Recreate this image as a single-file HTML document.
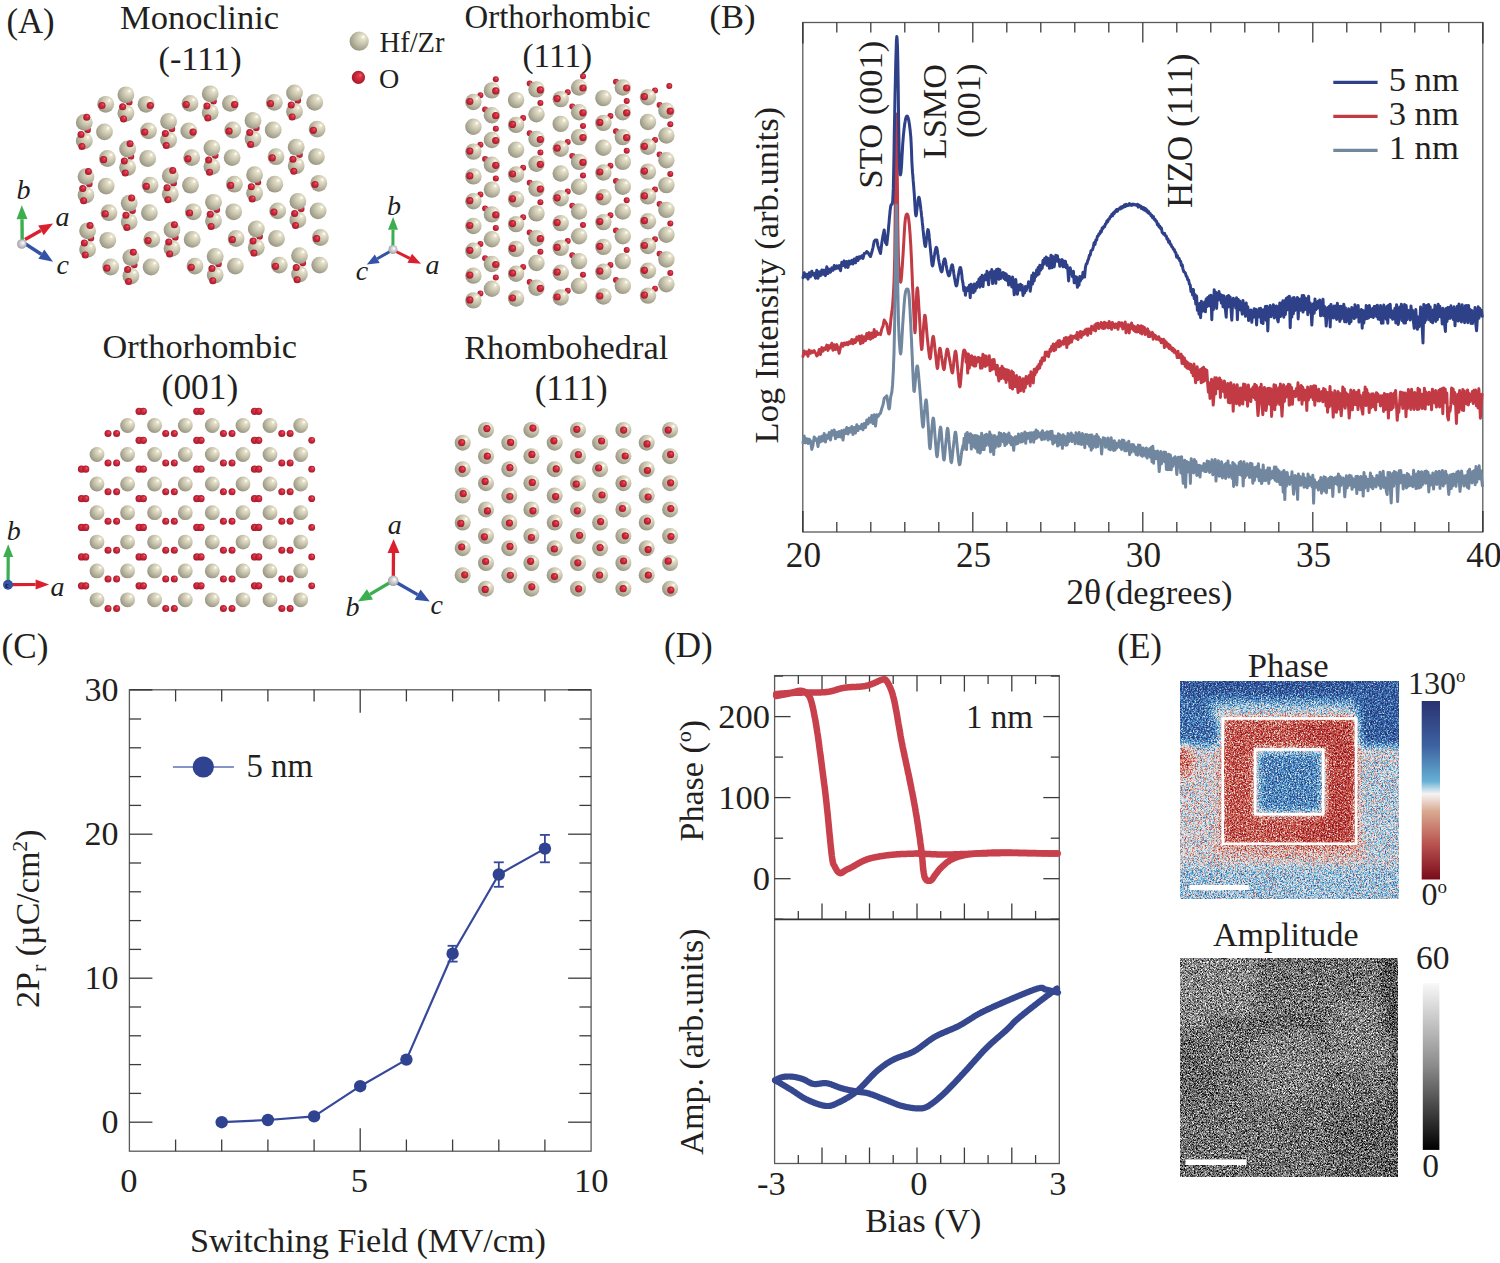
<!DOCTYPE html>
<html><head><meta charset="utf-8"><title>Figure</title>
<style>
html,body{margin:0;padding:0;background:#ffffff;}
body{width:1500px;height:1263px;overflow:hidden;}
svg{display:block;font-family:"Liberation Serif", serif;}
</style></head>
<body>
<svg width="1500" height="1263" viewBox="0 0 1500 1263">
<rect x="0" y="0" width="1500" height="1263" fill="#ffffff"/>
<defs>
<radialGradient id="hf" cx="0.62" cy="0.38" r="0.68" fx="0.72" fy="0.27">
 <stop offset="0" stop-color="#ffffff"/>
 <stop offset="0.06" stop-color="#fcfaf0"/>
 <stop offset="0.15" stop-color="#e6e2cc"/>
 <stop offset="0.5" stop-color="#c8c4ae"/>
 <stop offset="0.8" stop-color="#a9a692"/>
 <stop offset="1" stop-color="#93907e"/>
</radialGradient>
<radialGradient id="ox" cx="0.5" cy="0.5" r="0.5" fx="0.68" fy="0.3">
 <stop offset="0" stop-color="#f07080"/>
 <stop offset="0.25" stop-color="#e03848"/>
 <stop offset="0.7" stop-color="#c02236"/>
 <stop offset="1" stop-color="#a01a2c"/>
</radialGradient>
<radialGradient id="gy" cx="0.5" cy="0.5" r="0.55" fx="0.65" fy="0.35">
 <stop offset="0" stop-color="#ffffff"/>
 <stop offset="1" stop-color="#9a9aa0"/>
</radialGradient>
<linearGradient id="cbp" x1="0" y1="0" x2="0" y2="1">
 <stop offset="0" stop-color="#2b3270"/>
 <stop offset="0.25" stop-color="#3d62a0"/>
 <stop offset="0.45" stop-color="#66b0d4"/>
 <stop offset="0.52" stop-color="#f4f4f4"/>
 <stop offset="0.62" stop-color="#d9a890"/>
 <stop offset="0.8" stop-color="#b95450"/>
 <stop offset="1" stop-color="#7a0a1a"/>
</linearGradient>
<linearGradient id="cba" x1="0" y1="0" x2="0" y2="1">
 <stop offset="0" stop-color="#f8f8f8"/>
 <stop offset="0.5" stop-color="#8a8a8a"/>
 <stop offset="1" stop-color="#000000"/>
</linearGradient>
</defs>
<text x="6.4" y="32.8" font-size="34.77" text-anchor="start" fill="#231f20" >(A)</text>
<text x="120.0" y="29.0" font-size="34.51" text-anchor="start" fill="#231f20" >Monoclinic</text>
<text x="158.5" y="69.5" font-size="34.26" text-anchor="start" fill="#231f20" >(-111)</text>
<text x="464.5" y="27.9" font-size="32.83" text-anchor="start" fill="#231f20" >Orthorhombic</text>
<text x="522.5" y="66.7" font-size="33.32" text-anchor="start" fill="#231f20" >(111)</text>
<text x="102.5" y="358.4" font-size="34.35" text-anchor="start" fill="#231f20" >Orthorhombic</text>
<text x="161.6" y="399.0" font-size="35.43" text-anchor="start" fill="#231f20" >(001)</text>
<text x="464.2" y="359.3" font-size="34.33" text-anchor="start" fill="#231f20" >Rhombohedral</text>
<text x="534.7" y="399.8" font-size="34.91" text-anchor="start" fill="#231f20" >(111)</text>
<circle cx="359.2" cy="41.2" r="9.6" fill="url(#hf)"/>
<circle cx="358.4" cy="77.4" r="6.6" fill="url(#ox)"/>
<text x="379.5" y="52.0" font-size="28.57" text-anchor="start" fill="#231f20" >Hf/Zr</text>
<text x="378.9" y="88.4" font-size="28.12" text-anchor="start" fill="#231f20" >O</text>
<circle cx="129.2" cy="102.3" r="3.3" fill="url(#ox)"/>
<circle cx="213.5" cy="101.3" r="3.3" fill="url(#ox)"/>
<circle cx="297.8" cy="100.4" r="3.3" fill="url(#ox)"/>
<circle cx="87.6" cy="129.9" r="3.3" fill="url(#ox)"/>
<circle cx="171.9" cy="128.9" r="3.3" fill="url(#ox)"/>
<circle cx="256.3" cy="128.0" r="3.3" fill="url(#ox)"/>
<circle cx="130.9" cy="156.5" r="3.3" fill="url(#ox)"/>
<circle cx="215.2" cy="155.6" r="3.3" fill="url(#ox)"/>
<circle cx="299.5" cy="154.7" r="3.3" fill="url(#ox)"/>
<circle cx="89.3" cy="184.1" r="3.3" fill="url(#ox)"/>
<circle cx="173.6" cy="183.2" r="3.3" fill="url(#ox)"/>
<circle cx="257.9" cy="182.2" r="3.3" fill="url(#ox)"/>
<circle cx="132.5" cy="210.7" r="3.3" fill="url(#ox)"/>
<circle cx="216.8" cy="209.8" r="3.3" fill="url(#ox)"/>
<circle cx="301.2" cy="208.9" r="3.3" fill="url(#ox)"/>
<circle cx="90.9" cy="238.3" r="3.3" fill="url(#ox)"/>
<circle cx="175.3" cy="237.4" r="3.3" fill="url(#ox)"/>
<circle cx="259.6" cy="236.5" r="3.3" fill="url(#ox)"/>
<circle cx="134.2" cy="265.0" r="3.3" fill="url(#ox)"/>
<circle cx="218.5" cy="264.0" r="3.3" fill="url(#ox)"/>
<circle cx="302.8" cy="263.1" r="3.3" fill="url(#ox)"/>
<circle cx="294.5" cy="92.9" r="8.4" fill="url(#hf)"/>
<circle cx="210.2" cy="93.8" r="8.4" fill="url(#hf)"/>
<circle cx="125.9" cy="94.8" r="8.4" fill="url(#hf)"/>
<circle cx="274.3" cy="102.4" r="8.4" fill="url(#hf)"/>
<circle cx="270.5" cy="103.6" r="3.6" fill="url(#ox)"/>
<circle cx="314.7" cy="102.4" r="8.4" fill="url(#hf)"/>
<circle cx="190.0" cy="103.4" r="8.4" fill="url(#hf)"/>
<circle cx="186.2" cy="104.6" r="3.6" fill="url(#ox)"/>
<circle cx="230.4" cy="103.4" r="8.4" fill="url(#hf)"/>
<circle cx="234.6" cy="104.6" r="3.6" fill="url(#ox)"/>
<circle cx="105.7" cy="104.3" r="8.4" fill="url(#hf)"/>
<circle cx="101.9" cy="105.5" r="3.6" fill="url(#ox)"/>
<circle cx="146.1" cy="104.3" r="8.4" fill="url(#hf)"/>
<circle cx="150.3" cy="105.5" r="3.6" fill="url(#ox)"/>
<circle cx="294.5" cy="111.4" r="8.4" fill="url(#hf)"/>
<circle cx="291.2" cy="104.9" r="3.5" fill="url(#ox)"/>
<circle cx="292.1" cy="117.0" r="3.5" fill="url(#ox)"/>
<circle cx="210.2" cy="112.4" r="8.4" fill="url(#hf)"/>
<circle cx="206.9" cy="105.9" r="3.5" fill="url(#ox)"/>
<circle cx="207.8" cy="118.0" r="3.5" fill="url(#ox)"/>
<circle cx="125.9" cy="113.3" r="8.4" fill="url(#hf)"/>
<circle cx="122.6" cy="106.8" r="3.5" fill="url(#ox)"/>
<circle cx="123.5" cy="118.9" r="3.5" fill="url(#ox)"/>
<circle cx="253.0" cy="120.5" r="8.4" fill="url(#hf)"/>
<circle cx="168.6" cy="121.4" r="8.4" fill="url(#hf)"/>
<circle cx="84.3" cy="122.4" r="8.4" fill="url(#hf)"/>
<circle cx="86.7" cy="117.2" r="3.5" fill="url(#ox)"/>
<circle cx="317.1" cy="129.1" r="8.4" fill="url(#hf)"/>
<circle cx="313.3" cy="130.3" r="3.6" fill="url(#ox)"/>
<circle cx="232.8" cy="130.0" r="8.4" fill="url(#hf)"/>
<circle cx="229.0" cy="131.2" r="3.6" fill="url(#ox)"/>
<circle cx="273.2" cy="130.0" r="8.4" fill="url(#hf)"/>
<circle cx="148.5" cy="130.9" r="8.4" fill="url(#hf)"/>
<circle cx="144.7" cy="132.1" r="3.6" fill="url(#ox)"/>
<circle cx="188.8" cy="130.9" r="8.4" fill="url(#hf)"/>
<circle cx="193.0" cy="132.1" r="3.6" fill="url(#ox)"/>
<circle cx="104.5" cy="131.9" r="8.4" fill="url(#hf)"/>
<circle cx="253.0" cy="139.0" r="8.4" fill="url(#hf)"/>
<circle cx="249.7" cy="132.5" r="3.5" fill="url(#ox)"/>
<circle cx="250.6" cy="144.6" r="3.5" fill="url(#ox)"/>
<circle cx="168.6" cy="140.0" r="8.4" fill="url(#hf)"/>
<circle cx="165.3" cy="133.5" r="3.5" fill="url(#ox)"/>
<circle cx="166.2" cy="145.6" r="3.5" fill="url(#ox)"/>
<circle cx="84.3" cy="140.9" r="8.4" fill="url(#hf)"/>
<circle cx="81.0" cy="134.4" r="3.5" fill="url(#ox)"/>
<circle cx="81.9" cy="146.5" r="3.5" fill="url(#ox)"/>
<circle cx="296.2" cy="147.2" r="8.4" fill="url(#hf)"/>
<circle cx="211.9" cy="148.1" r="8.4" fill="url(#hf)"/>
<circle cx="127.6" cy="149.0" r="8.4" fill="url(#hf)"/>
<circle cx="130.0" cy="143.8" r="3.5" fill="url(#ox)"/>
<circle cx="276.0" cy="156.7" r="8.4" fill="url(#hf)"/>
<circle cx="272.2" cy="157.9" r="3.6" fill="url(#ox)"/>
<circle cx="316.4" cy="156.7" r="8.4" fill="url(#hf)"/>
<circle cx="191.7" cy="157.6" r="8.4" fill="url(#hf)"/>
<circle cx="187.9" cy="158.8" r="3.6" fill="url(#ox)"/>
<circle cx="232.1" cy="157.6" r="8.4" fill="url(#hf)"/>
<circle cx="107.4" cy="158.5" r="8.4" fill="url(#hf)"/>
<circle cx="103.6" cy="159.7" r="3.6" fill="url(#ox)"/>
<circle cx="147.7" cy="158.5" r="8.4" fill="url(#hf)"/>
<circle cx="296.2" cy="165.7" r="8.4" fill="url(#hf)"/>
<circle cx="292.9" cy="159.2" r="3.5" fill="url(#ox)"/>
<circle cx="293.8" cy="171.3" r="3.5" fill="url(#ox)"/>
<circle cx="211.9" cy="166.6" r="8.4" fill="url(#hf)"/>
<circle cx="208.6" cy="160.1" r="3.5" fill="url(#ox)"/>
<circle cx="209.5" cy="172.2" r="3.5" fill="url(#ox)"/>
<circle cx="127.6" cy="167.5" r="8.4" fill="url(#hf)"/>
<circle cx="124.3" cy="161.0" r="3.5" fill="url(#ox)"/>
<circle cx="125.2" cy="173.1" r="3.5" fill="url(#ox)"/>
<circle cx="254.6" cy="174.7" r="8.4" fill="url(#hf)"/>
<circle cx="170.3" cy="175.7" r="8.4" fill="url(#hf)"/>
<circle cx="172.7" cy="170.5" r="3.5" fill="url(#ox)"/>
<circle cx="86.0" cy="176.6" r="8.4" fill="url(#hf)"/>
<circle cx="88.4" cy="171.4" r="3.5" fill="url(#ox)"/>
<circle cx="318.8" cy="183.3" r="8.4" fill="url(#hf)"/>
<circle cx="315.0" cy="184.5" r="3.6" fill="url(#ox)"/>
<circle cx="234.4" cy="184.2" r="8.4" fill="url(#hf)"/>
<circle cx="230.6" cy="185.4" r="3.6" fill="url(#ox)"/>
<circle cx="274.8" cy="184.2" r="8.4" fill="url(#hf)"/>
<circle cx="150.1" cy="185.2" r="8.4" fill="url(#hf)"/>
<circle cx="146.3" cy="186.4" r="3.6" fill="url(#ox)"/>
<circle cx="190.5" cy="185.2" r="8.4" fill="url(#hf)"/>
<circle cx="106.2" cy="186.1" r="8.4" fill="url(#hf)"/>
<circle cx="254.6" cy="193.3" r="8.4" fill="url(#hf)"/>
<circle cx="251.3" cy="186.8" r="3.5" fill="url(#ox)"/>
<circle cx="252.2" cy="198.9" r="3.5" fill="url(#ox)"/>
<circle cx="170.3" cy="194.2" r="8.4" fill="url(#hf)"/>
<circle cx="167.0" cy="187.7" r="3.5" fill="url(#ox)"/>
<circle cx="167.9" cy="199.8" r="3.5" fill="url(#ox)"/>
<circle cx="86.0" cy="195.1" r="8.4" fill="url(#hf)"/>
<circle cx="82.7" cy="188.6" r="3.5" fill="url(#ox)"/>
<circle cx="83.6" cy="200.7" r="3.5" fill="url(#ox)"/>
<circle cx="297.9" cy="201.4" r="8.4" fill="url(#hf)"/>
<circle cx="213.5" cy="202.3" r="8.4" fill="url(#hf)"/>
<circle cx="129.2" cy="203.2" r="8.4" fill="url(#hf)"/>
<circle cx="131.6" cy="198.0" r="3.5" fill="url(#ox)"/>
<circle cx="277.7" cy="210.9" r="8.4" fill="url(#hf)"/>
<circle cx="273.9" cy="212.1" r="3.6" fill="url(#ox)"/>
<circle cx="318.1" cy="210.9" r="8.4" fill="url(#hf)"/>
<circle cx="193.3" cy="211.8" r="8.4" fill="url(#hf)"/>
<circle cx="189.5" cy="213.0" r="3.6" fill="url(#ox)"/>
<circle cx="233.7" cy="211.8" r="8.4" fill="url(#hf)"/>
<circle cx="109.0" cy="212.7" r="8.4" fill="url(#hf)"/>
<circle cx="105.2" cy="213.9" r="3.6" fill="url(#ox)"/>
<circle cx="149.4" cy="212.7" r="8.4" fill="url(#hf)"/>
<circle cx="297.9" cy="219.9" r="8.4" fill="url(#hf)"/>
<circle cx="294.6" cy="213.4" r="3.5" fill="url(#ox)"/>
<circle cx="295.5" cy="225.5" r="3.5" fill="url(#ox)"/>
<circle cx="213.5" cy="220.8" r="8.4" fill="url(#hf)"/>
<circle cx="210.2" cy="214.3" r="3.5" fill="url(#ox)"/>
<circle cx="211.1" cy="226.4" r="3.5" fill="url(#ox)"/>
<circle cx="129.2" cy="221.8" r="8.4" fill="url(#hf)"/>
<circle cx="125.9" cy="215.3" r="3.5" fill="url(#ox)"/>
<circle cx="126.8" cy="227.4" r="3.5" fill="url(#ox)"/>
<circle cx="256.3" cy="229.0" r="8.4" fill="url(#hf)"/>
<circle cx="172.0" cy="229.9" r="8.4" fill="url(#hf)"/>
<circle cx="174.4" cy="224.7" r="3.5" fill="url(#ox)"/>
<circle cx="87.6" cy="230.8" r="8.4" fill="url(#hf)"/>
<circle cx="90.0" cy="225.6" r="3.5" fill="url(#ox)"/>
<circle cx="320.4" cy="237.5" r="8.4" fill="url(#hf)"/>
<circle cx="316.6" cy="238.7" r="3.6" fill="url(#ox)"/>
<circle cx="236.1" cy="238.5" r="8.4" fill="url(#hf)"/>
<circle cx="232.3" cy="239.7" r="3.6" fill="url(#ox)"/>
<circle cx="276.5" cy="238.5" r="8.4" fill="url(#hf)"/>
<circle cx="151.8" cy="239.4" r="8.4" fill="url(#hf)"/>
<circle cx="148.0" cy="240.6" r="3.6" fill="url(#ox)"/>
<circle cx="192.2" cy="239.4" r="8.4" fill="url(#hf)"/>
<circle cx="107.8" cy="240.3" r="8.4" fill="url(#hf)"/>
<circle cx="256.3" cy="247.5" r="8.4" fill="url(#hf)"/>
<circle cx="253.0" cy="241.0" r="3.5" fill="url(#ox)"/>
<circle cx="253.9" cy="253.1" r="3.5" fill="url(#ox)"/>
<circle cx="172.0" cy="248.4" r="8.4" fill="url(#hf)"/>
<circle cx="168.7" cy="241.9" r="3.5" fill="url(#ox)"/>
<circle cx="169.6" cy="254.0" r="3.5" fill="url(#ox)"/>
<circle cx="87.6" cy="249.4" r="8.4" fill="url(#hf)"/>
<circle cx="84.3" cy="242.9" r="3.5" fill="url(#ox)"/>
<circle cx="85.2" cy="255.0" r="3.5" fill="url(#ox)"/>
<circle cx="299.5" cy="255.6" r="8.4" fill="url(#hf)"/>
<circle cx="215.2" cy="256.5" r="8.4" fill="url(#hf)"/>
<circle cx="130.9" cy="257.5" r="8.4" fill="url(#hf)"/>
<circle cx="133.3" cy="252.3" r="3.5" fill="url(#ox)"/>
<circle cx="279.3" cy="265.1" r="8.4" fill="url(#hf)"/>
<circle cx="275.5" cy="266.3" r="3.6" fill="url(#ox)"/>
<circle cx="319.7" cy="265.1" r="8.4" fill="url(#hf)"/>
<circle cx="195.0" cy="266.1" r="8.4" fill="url(#hf)"/>
<circle cx="191.2" cy="267.3" r="3.6" fill="url(#ox)"/>
<circle cx="235.4" cy="266.1" r="8.4" fill="url(#hf)"/>
<circle cx="110.7" cy="267.0" r="8.4" fill="url(#hf)"/>
<circle cx="106.9" cy="268.2" r="3.6" fill="url(#ox)"/>
<circle cx="151.1" cy="267.0" r="8.4" fill="url(#hf)"/>
<circle cx="299.5" cy="274.1" r="8.4" fill="url(#hf)"/>
<circle cx="296.2" cy="267.6" r="3.5" fill="url(#ox)"/>
<circle cx="297.1" cy="279.7" r="3.5" fill="url(#ox)"/>
<circle cx="215.2" cy="275.1" r="8.4" fill="url(#hf)"/>
<circle cx="211.9" cy="268.6" r="3.5" fill="url(#ox)"/>
<circle cx="212.8" cy="280.7" r="3.5" fill="url(#ox)"/>
<circle cx="130.9" cy="276.0" r="8.4" fill="url(#hf)"/>
<circle cx="127.6" cy="269.5" r="3.5" fill="url(#ox)"/>
<circle cx="128.5" cy="281.6" r="3.5" fill="url(#ox)"/>
<circle cx="480.4" cy="95.2" r="3.0" fill="url(#ox)"/>
<circle cx="495.8" cy="79.2" r="3.0" fill="url(#ox)"/>
<circle cx="485.1" cy="109.4" r="3.0" fill="url(#ox)"/>
<circle cx="480.4" cy="144.8" r="3.0" fill="url(#ox)"/>
<circle cx="495.8" cy="128.8" r="3.0" fill="url(#ox)"/>
<circle cx="485.1" cy="159.0" r="3.0" fill="url(#ox)"/>
<circle cx="480.4" cy="194.4" r="3.0" fill="url(#ox)"/>
<circle cx="495.8" cy="178.4" r="3.0" fill="url(#ox)"/>
<circle cx="485.1" cy="208.6" r="3.0" fill="url(#ox)"/>
<circle cx="480.4" cy="244.0" r="3.0" fill="url(#ox)"/>
<circle cx="495.8" cy="228.0" r="3.0" fill="url(#ox)"/>
<circle cx="485.1" cy="258.2" r="3.0" fill="url(#ox)"/>
<circle cx="480.4" cy="293.6" r="3.0" fill="url(#ox)"/>
<circle cx="495.8" cy="277.6" r="3.0" fill="url(#ox)"/>
<circle cx="529.7" cy="83.6" r="3.0" fill="url(#ox)"/>
<circle cx="523.1" cy="118.1" r="3.0" fill="url(#ox)"/>
<circle cx="540.4" cy="103.0" r="3.0" fill="url(#ox)"/>
<circle cx="529.7" cy="133.2" r="3.0" fill="url(#ox)"/>
<circle cx="523.1" cy="167.7" r="3.0" fill="url(#ox)"/>
<circle cx="540.4" cy="152.6" r="3.0" fill="url(#ox)"/>
<circle cx="529.7" cy="182.8" r="3.0" fill="url(#ox)"/>
<circle cx="523.1" cy="217.3" r="3.0" fill="url(#ox)"/>
<circle cx="540.4" cy="202.2" r="3.0" fill="url(#ox)"/>
<circle cx="529.7" cy="232.4" r="3.0" fill="url(#ox)"/>
<circle cx="523.1" cy="266.9" r="3.0" fill="url(#ox)"/>
<circle cx="540.4" cy="251.8" r="3.0" fill="url(#ox)"/>
<circle cx="529.7" cy="282.0" r="3.0" fill="url(#ox)"/>
<circle cx="567.7" cy="92.3" r="3.0" fill="url(#ox)"/>
<circle cx="583.0" cy="76.3" r="3.0" fill="url(#ox)"/>
<circle cx="572.3" cy="106.5" r="3.0" fill="url(#ox)"/>
<circle cx="567.7" cy="141.9" r="3.0" fill="url(#ox)"/>
<circle cx="583.0" cy="125.9" r="3.0" fill="url(#ox)"/>
<circle cx="572.3" cy="156.1" r="3.0" fill="url(#ox)"/>
<circle cx="567.7" cy="191.5" r="3.0" fill="url(#ox)"/>
<circle cx="583.0" cy="175.5" r="3.0" fill="url(#ox)"/>
<circle cx="572.3" cy="205.7" r="3.0" fill="url(#ox)"/>
<circle cx="567.7" cy="241.1" r="3.0" fill="url(#ox)"/>
<circle cx="583.0" cy="225.1" r="3.0" fill="url(#ox)"/>
<circle cx="572.3" cy="255.3" r="3.0" fill="url(#ox)"/>
<circle cx="567.7" cy="290.7" r="3.0" fill="url(#ox)"/>
<circle cx="583.0" cy="274.7" r="3.0" fill="url(#ox)"/>
<circle cx="616.0" cy="81.7" r="3.0" fill="url(#ox)"/>
<circle cx="610.4" cy="116.1" r="3.0" fill="url(#ox)"/>
<circle cx="626.7" cy="101.1" r="3.0" fill="url(#ox)"/>
<circle cx="616.0" cy="131.3" r="3.0" fill="url(#ox)"/>
<circle cx="610.4" cy="165.7" r="3.0" fill="url(#ox)"/>
<circle cx="626.7" cy="150.7" r="3.0" fill="url(#ox)"/>
<circle cx="616.0" cy="180.9" r="3.0" fill="url(#ox)"/>
<circle cx="610.4" cy="215.3" r="3.0" fill="url(#ox)"/>
<circle cx="626.7" cy="200.3" r="3.0" fill="url(#ox)"/>
<circle cx="616.0" cy="230.5" r="3.0" fill="url(#ox)"/>
<circle cx="610.4" cy="264.9" r="3.0" fill="url(#ox)"/>
<circle cx="626.7" cy="249.9" r="3.0" fill="url(#ox)"/>
<circle cx="616.0" cy="280.1" r="3.0" fill="url(#ox)"/>
<circle cx="655.0" cy="90.4" r="3.0" fill="url(#ox)"/>
<circle cx="659.6" cy="104.9" r="3.0" fill="url(#ox)"/>
<circle cx="655.0" cy="140.0" r="3.0" fill="url(#ox)"/>
<circle cx="670.3" cy="124.3" r="3.0" fill="url(#ox)"/>
<circle cx="659.6" cy="154.5" r="3.0" fill="url(#ox)"/>
<circle cx="655.0" cy="189.6" r="3.0" fill="url(#ox)"/>
<circle cx="670.3" cy="173.9" r="3.0" fill="url(#ox)"/>
<circle cx="659.6" cy="204.1" r="3.0" fill="url(#ox)"/>
<circle cx="655.0" cy="239.2" r="3.0" fill="url(#ox)"/>
<circle cx="670.3" cy="223.5" r="3.0" fill="url(#ox)"/>
<circle cx="659.6" cy="253.7" r="3.0" fill="url(#ox)"/>
<circle cx="655.0" cy="288.8" r="3.0" fill="url(#ox)"/>
<circle cx="670.3" cy="273.1" r="3.0" fill="url(#ox)"/>
<circle cx="669.3" cy="86.1" r="3.0" fill="url(#ox)"/>
<circle cx="579.1" cy="87.5" r="8.2" fill="url(#hf)"/>
<circle cx="582.9" cy="88.0" r="3.6" fill="url(#ox)"/>
<circle cx="622.8" cy="87.5" r="8.2" fill="url(#hf)"/>
<circle cx="626.6" cy="88.0" r="3.6" fill="url(#ox)"/>
<circle cx="536.5" cy="89.4" r="8.2" fill="url(#hf)"/>
<circle cx="540.3" cy="89.9" r="3.6" fill="url(#ox)"/>
<circle cx="491.9" cy="90.4" r="8.2" fill="url(#hf)"/>
<circle cx="495.7" cy="90.9" r="3.6" fill="url(#ox)"/>
<circle cx="648.0" cy="97.2" r="8.2" fill="url(#hf)"/>
<circle cx="644.4" cy="96.7" r="3.6" fill="url(#ox)"/>
<circle cx="603.4" cy="98.1" r="8.2" fill="url(#hf)"/>
<circle cx="560.7" cy="99.1" r="8.2" fill="url(#hf)"/>
<circle cx="557.1" cy="98.6" r="3.6" fill="url(#ox)"/>
<circle cx="516.1" cy="100.1" r="8.2" fill="url(#hf)"/>
<circle cx="473.4" cy="102.0" r="8.2" fill="url(#hf)"/>
<circle cx="469.8" cy="101.5" r="3.6" fill="url(#ox)"/>
<circle cx="666.4" cy="110.7" r="8.2" fill="url(#hf)"/>
<circle cx="670.2" cy="111.2" r="3.6" fill="url(#ox)"/>
<circle cx="579.1" cy="112.3" r="8.2" fill="url(#hf)"/>
<circle cx="582.9" cy="112.8" r="3.6" fill="url(#ox)"/>
<circle cx="622.8" cy="112.3" r="8.2" fill="url(#hf)"/>
<circle cx="626.6" cy="112.8" r="3.6" fill="url(#ox)"/>
<circle cx="536.5" cy="114.2" r="8.2" fill="url(#hf)"/>
<circle cx="491.9" cy="115.2" r="8.2" fill="url(#hf)"/>
<circle cx="495.7" cy="115.7" r="3.6" fill="url(#ox)"/>
<circle cx="648.0" cy="122.0" r="8.2" fill="url(#hf)"/>
<circle cx="603.4" cy="122.9" r="8.2" fill="url(#hf)"/>
<circle cx="599.8" cy="122.4" r="3.6" fill="url(#ox)"/>
<circle cx="560.7" cy="123.9" r="8.2" fill="url(#hf)"/>
<circle cx="516.1" cy="124.9" r="8.2" fill="url(#hf)"/>
<circle cx="512.5" cy="124.4" r="3.6" fill="url(#ox)"/>
<circle cx="473.4" cy="126.8" r="8.2" fill="url(#hf)"/>
<circle cx="666.4" cy="135.5" r="8.2" fill="url(#hf)"/>
<circle cx="579.1" cy="137.1" r="8.2" fill="url(#hf)"/>
<circle cx="582.9" cy="137.6" r="3.6" fill="url(#ox)"/>
<circle cx="622.8" cy="137.1" r="8.2" fill="url(#hf)"/>
<circle cx="626.6" cy="137.6" r="3.6" fill="url(#ox)"/>
<circle cx="536.5" cy="139.0" r="8.2" fill="url(#hf)"/>
<circle cx="540.3" cy="139.5" r="3.6" fill="url(#ox)"/>
<circle cx="491.9" cy="140.0" r="8.2" fill="url(#hf)"/>
<circle cx="495.7" cy="140.5" r="3.6" fill="url(#ox)"/>
<circle cx="648.0" cy="146.8" r="8.2" fill="url(#hf)"/>
<circle cx="644.4" cy="146.3" r="3.6" fill="url(#ox)"/>
<circle cx="603.4" cy="147.7" r="8.2" fill="url(#hf)"/>
<circle cx="560.7" cy="148.7" r="8.2" fill="url(#hf)"/>
<circle cx="557.1" cy="148.2" r="3.6" fill="url(#ox)"/>
<circle cx="516.1" cy="149.7" r="8.2" fill="url(#hf)"/>
<circle cx="473.4" cy="151.6" r="8.2" fill="url(#hf)"/>
<circle cx="469.8" cy="151.1" r="3.6" fill="url(#ox)"/>
<circle cx="666.4" cy="160.3" r="8.2" fill="url(#hf)"/>
<circle cx="579.1" cy="161.9" r="8.2" fill="url(#hf)"/>
<circle cx="582.9" cy="162.4" r="3.6" fill="url(#ox)"/>
<circle cx="622.8" cy="161.9" r="8.2" fill="url(#hf)"/>
<circle cx="536.5" cy="163.8" r="8.2" fill="url(#hf)"/>
<circle cx="540.3" cy="164.3" r="3.6" fill="url(#ox)"/>
<circle cx="491.9" cy="164.8" r="8.2" fill="url(#hf)"/>
<circle cx="495.7" cy="165.3" r="3.6" fill="url(#ox)"/>
<circle cx="648.0" cy="171.6" r="8.2" fill="url(#hf)"/>
<circle cx="644.4" cy="171.1" r="3.6" fill="url(#ox)"/>
<circle cx="603.4" cy="172.5" r="8.2" fill="url(#hf)"/>
<circle cx="599.8" cy="172.0" r="3.6" fill="url(#ox)"/>
<circle cx="560.7" cy="173.5" r="8.2" fill="url(#hf)"/>
<circle cx="516.1" cy="174.5" r="8.2" fill="url(#hf)"/>
<circle cx="512.5" cy="174.0" r="3.6" fill="url(#ox)"/>
<circle cx="473.4" cy="176.4" r="8.2" fill="url(#hf)"/>
<circle cx="469.8" cy="175.9" r="3.6" fill="url(#ox)"/>
<circle cx="666.4" cy="185.1" r="8.2" fill="url(#hf)"/>
<circle cx="579.1" cy="186.7" r="8.2" fill="url(#hf)"/>
<circle cx="622.8" cy="186.7" r="8.2" fill="url(#hf)"/>
<circle cx="536.5" cy="188.6" r="8.2" fill="url(#hf)"/>
<circle cx="540.3" cy="189.1" r="3.6" fill="url(#ox)"/>
<circle cx="491.9" cy="189.6" r="8.2" fill="url(#hf)"/>
<circle cx="648.0" cy="196.4" r="8.2" fill="url(#hf)"/>
<circle cx="644.4" cy="195.9" r="3.6" fill="url(#ox)"/>
<circle cx="603.4" cy="197.3" r="8.2" fill="url(#hf)"/>
<circle cx="599.8" cy="196.8" r="3.6" fill="url(#ox)"/>
<circle cx="560.7" cy="198.3" r="8.2" fill="url(#hf)"/>
<circle cx="557.1" cy="197.8" r="3.6" fill="url(#ox)"/>
<circle cx="516.1" cy="199.3" r="8.2" fill="url(#hf)"/>
<circle cx="512.5" cy="198.8" r="3.6" fill="url(#ox)"/>
<circle cx="473.4" cy="201.2" r="8.2" fill="url(#hf)"/>
<circle cx="469.8" cy="200.7" r="3.6" fill="url(#ox)"/>
<circle cx="666.4" cy="209.9" r="8.2" fill="url(#hf)"/>
<circle cx="579.1" cy="211.5" r="8.2" fill="url(#hf)"/>
<circle cx="622.8" cy="211.5" r="8.2" fill="url(#hf)"/>
<circle cx="536.5" cy="213.4" r="8.2" fill="url(#hf)"/>
<circle cx="491.9" cy="214.4" r="8.2" fill="url(#hf)"/>
<circle cx="495.7" cy="214.9" r="3.6" fill="url(#ox)"/>
<circle cx="648.0" cy="221.2" r="8.2" fill="url(#hf)"/>
<circle cx="644.4" cy="220.7" r="3.6" fill="url(#ox)"/>
<circle cx="603.4" cy="222.1" r="8.2" fill="url(#hf)"/>
<circle cx="599.8" cy="221.6" r="3.6" fill="url(#ox)"/>
<circle cx="560.7" cy="223.1" r="8.2" fill="url(#hf)"/>
<circle cx="557.1" cy="222.6" r="3.6" fill="url(#ox)"/>
<circle cx="516.1" cy="224.1" r="8.2" fill="url(#hf)"/>
<circle cx="512.5" cy="223.6" r="3.6" fill="url(#ox)"/>
<circle cx="473.4" cy="226.0" r="8.2" fill="url(#hf)"/>
<circle cx="469.8" cy="225.5" r="3.6" fill="url(#ox)"/>
<circle cx="666.4" cy="234.7" r="8.2" fill="url(#hf)"/>
<circle cx="579.1" cy="236.3" r="8.2" fill="url(#hf)"/>
<circle cx="622.8" cy="236.3" r="8.2" fill="url(#hf)"/>
<circle cx="536.5" cy="238.2" r="8.2" fill="url(#hf)"/>
<circle cx="540.3" cy="238.7" r="3.6" fill="url(#ox)"/>
<circle cx="491.9" cy="239.2" r="8.2" fill="url(#hf)"/>
<circle cx="648.0" cy="246.0" r="8.2" fill="url(#hf)"/>
<circle cx="644.4" cy="245.5" r="3.6" fill="url(#ox)"/>
<circle cx="603.4" cy="246.9" r="8.2" fill="url(#hf)"/>
<circle cx="599.8" cy="246.4" r="3.6" fill="url(#ox)"/>
<circle cx="560.7" cy="247.9" r="8.2" fill="url(#hf)"/>
<circle cx="557.1" cy="247.4" r="3.6" fill="url(#ox)"/>
<circle cx="516.1" cy="248.9" r="8.2" fill="url(#hf)"/>
<circle cx="512.5" cy="248.4" r="3.6" fill="url(#ox)"/>
<circle cx="473.4" cy="250.8" r="8.2" fill="url(#hf)"/>
<circle cx="469.8" cy="250.3" r="3.6" fill="url(#ox)"/>
<circle cx="666.4" cy="259.5" r="8.2" fill="url(#hf)"/>
<circle cx="579.1" cy="261.1" r="8.2" fill="url(#hf)"/>
<circle cx="622.8" cy="261.1" r="8.2" fill="url(#hf)"/>
<circle cx="536.5" cy="263.0" r="8.2" fill="url(#hf)"/>
<circle cx="491.9" cy="264.0" r="8.2" fill="url(#hf)"/>
<circle cx="495.7" cy="264.5" r="3.6" fill="url(#ox)"/>
<circle cx="648.0" cy="270.8" r="8.2" fill="url(#hf)"/>
<circle cx="644.4" cy="270.3" r="3.6" fill="url(#ox)"/>
<circle cx="603.4" cy="271.7" r="8.2" fill="url(#hf)"/>
<circle cx="599.8" cy="271.2" r="3.6" fill="url(#ox)"/>
<circle cx="560.7" cy="272.7" r="8.2" fill="url(#hf)"/>
<circle cx="557.1" cy="272.2" r="3.6" fill="url(#ox)"/>
<circle cx="516.1" cy="273.7" r="8.2" fill="url(#hf)"/>
<circle cx="512.5" cy="273.2" r="3.6" fill="url(#ox)"/>
<circle cx="473.4" cy="275.6" r="8.2" fill="url(#hf)"/>
<circle cx="469.8" cy="275.1" r="3.6" fill="url(#ox)"/>
<circle cx="666.4" cy="284.3" r="8.2" fill="url(#hf)"/>
<circle cx="579.1" cy="285.9" r="8.2" fill="url(#hf)"/>
<circle cx="622.8" cy="285.9" r="8.2" fill="url(#hf)"/>
<circle cx="536.5" cy="287.8" r="8.2" fill="url(#hf)"/>
<circle cx="540.3" cy="288.3" r="3.6" fill="url(#ox)"/>
<circle cx="491.9" cy="288.8" r="8.2" fill="url(#hf)"/>
<circle cx="648.0" cy="295.6" r="8.2" fill="url(#hf)"/>
<circle cx="644.4" cy="295.1" r="3.6" fill="url(#ox)"/>
<circle cx="603.4" cy="296.5" r="8.2" fill="url(#hf)"/>
<circle cx="599.8" cy="296.0" r="3.6" fill="url(#ox)"/>
<circle cx="560.7" cy="297.5" r="8.2" fill="url(#hf)"/>
<circle cx="557.1" cy="297.0" r="3.6" fill="url(#ox)"/>
<circle cx="516.1" cy="298.5" r="8.2" fill="url(#hf)"/>
<circle cx="512.5" cy="298.0" r="3.6" fill="url(#ox)"/>
<circle cx="473.4" cy="300.4" r="8.2" fill="url(#hf)"/>
<circle cx="469.8" cy="299.9" r="3.6" fill="url(#ox)"/>
<circle cx="139.1" cy="411.3" r="3.6" fill="url(#ox)"/>
<circle cx="143.3" cy="411.3" r="3.6" fill="url(#ox)"/>
<circle cx="196.8" cy="411.3" r="3.6" fill="url(#ox)"/>
<circle cx="201.0" cy="411.3" r="3.6" fill="url(#ox)"/>
<circle cx="254.5" cy="411.3" r="3.6" fill="url(#ox)"/>
<circle cx="258.7" cy="411.3" r="3.6" fill="url(#ox)"/>
<circle cx="139.1" cy="440.3" r="3.6" fill="url(#ox)"/>
<circle cx="143.3" cy="440.3" r="3.6" fill="url(#ox)"/>
<circle cx="196.8" cy="440.3" r="3.6" fill="url(#ox)"/>
<circle cx="201.0" cy="440.3" r="3.6" fill="url(#ox)"/>
<circle cx="254.5" cy="440.3" r="3.6" fill="url(#ox)"/>
<circle cx="258.7" cy="440.3" r="3.6" fill="url(#ox)"/>
<circle cx="311.7" cy="440.3" r="3.4" fill="url(#ox)"/>
<circle cx="81.5" cy="469.2" r="3.6" fill="url(#ox)"/>
<circle cx="85.7" cy="469.2" r="3.6" fill="url(#ox)"/>
<circle cx="139.1" cy="469.2" r="3.6" fill="url(#ox)"/>
<circle cx="143.3" cy="469.2" r="3.6" fill="url(#ox)"/>
<circle cx="196.8" cy="469.2" r="3.6" fill="url(#ox)"/>
<circle cx="201.0" cy="469.2" r="3.6" fill="url(#ox)"/>
<circle cx="254.5" cy="469.2" r="3.6" fill="url(#ox)"/>
<circle cx="258.7" cy="469.2" r="3.6" fill="url(#ox)"/>
<circle cx="311.7" cy="469.2" r="3.4" fill="url(#ox)"/>
<circle cx="81.5" cy="498.7" r="3.6" fill="url(#ox)"/>
<circle cx="85.7" cy="498.7" r="3.6" fill="url(#ox)"/>
<circle cx="139.1" cy="498.7" r="3.6" fill="url(#ox)"/>
<circle cx="143.3" cy="498.7" r="3.6" fill="url(#ox)"/>
<circle cx="196.8" cy="498.7" r="3.6" fill="url(#ox)"/>
<circle cx="201.0" cy="498.7" r="3.6" fill="url(#ox)"/>
<circle cx="254.5" cy="498.7" r="3.6" fill="url(#ox)"/>
<circle cx="258.7" cy="498.7" r="3.6" fill="url(#ox)"/>
<circle cx="311.7" cy="498.7" r="3.4" fill="url(#ox)"/>
<circle cx="81.5" cy="527.4" r="3.6" fill="url(#ox)"/>
<circle cx="85.7" cy="527.4" r="3.6" fill="url(#ox)"/>
<circle cx="139.1" cy="527.4" r="3.6" fill="url(#ox)"/>
<circle cx="143.3" cy="527.4" r="3.6" fill="url(#ox)"/>
<circle cx="196.8" cy="527.4" r="3.6" fill="url(#ox)"/>
<circle cx="201.0" cy="527.4" r="3.6" fill="url(#ox)"/>
<circle cx="254.5" cy="527.4" r="3.6" fill="url(#ox)"/>
<circle cx="258.7" cy="527.4" r="3.6" fill="url(#ox)"/>
<circle cx="311.7" cy="527.4" r="3.4" fill="url(#ox)"/>
<circle cx="81.5" cy="556.9" r="3.6" fill="url(#ox)"/>
<circle cx="85.7" cy="556.9" r="3.6" fill="url(#ox)"/>
<circle cx="139.1" cy="556.9" r="3.6" fill="url(#ox)"/>
<circle cx="143.3" cy="556.9" r="3.6" fill="url(#ox)"/>
<circle cx="196.8" cy="556.9" r="3.6" fill="url(#ox)"/>
<circle cx="201.0" cy="556.9" r="3.6" fill="url(#ox)"/>
<circle cx="254.5" cy="556.9" r="3.6" fill="url(#ox)"/>
<circle cx="258.7" cy="556.9" r="3.6" fill="url(#ox)"/>
<circle cx="311.7" cy="556.9" r="3.4" fill="url(#ox)"/>
<circle cx="81.5" cy="585.8" r="3.6" fill="url(#ox)"/>
<circle cx="85.7" cy="585.8" r="3.6" fill="url(#ox)"/>
<circle cx="139.1" cy="585.8" r="3.6" fill="url(#ox)"/>
<circle cx="143.3" cy="585.8" r="3.6" fill="url(#ox)"/>
<circle cx="196.8" cy="585.8" r="3.6" fill="url(#ox)"/>
<circle cx="201.0" cy="585.8" r="3.6" fill="url(#ox)"/>
<circle cx="254.5" cy="585.8" r="3.6" fill="url(#ox)"/>
<circle cx="258.7" cy="585.8" r="3.6" fill="url(#ox)"/>
<circle cx="311.7" cy="585.8" r="3.4" fill="url(#ox)"/>
<circle cx="127.6" cy="425.5" r="7.4" fill="url(#hf)"/>
<circle cx="154.6" cy="425.5" r="7.4" fill="url(#hf)"/>
<circle cx="185.3" cy="425.5" r="7.4" fill="url(#hf)"/>
<circle cx="212.3" cy="425.5" r="7.4" fill="url(#hf)"/>
<circle cx="243.0" cy="425.5" r="7.4" fill="url(#hf)"/>
<circle cx="270.0" cy="425.5" r="7.4" fill="url(#hf)"/>
<circle cx="300.7" cy="425.5" r="7.4" fill="url(#hf)"/>
<circle cx="97.0" cy="454.5" r="7.4" fill="url(#hf)"/>
<circle cx="127.6" cy="454.5" r="7.4" fill="url(#hf)"/>
<circle cx="154.6" cy="454.5" r="7.4" fill="url(#hf)"/>
<circle cx="185.3" cy="454.5" r="7.4" fill="url(#hf)"/>
<circle cx="212.3" cy="454.5" r="7.4" fill="url(#hf)"/>
<circle cx="243.0" cy="454.5" r="7.4" fill="url(#hf)"/>
<circle cx="270.0" cy="454.5" r="7.4" fill="url(#hf)"/>
<circle cx="300.7" cy="454.5" r="7.4" fill="url(#hf)"/>
<circle cx="97.0" cy="484.0" r="7.4" fill="url(#hf)"/>
<circle cx="127.6" cy="484.0" r="7.4" fill="url(#hf)"/>
<circle cx="154.6" cy="484.0" r="7.4" fill="url(#hf)"/>
<circle cx="185.3" cy="484.0" r="7.4" fill="url(#hf)"/>
<circle cx="212.3" cy="484.0" r="7.4" fill="url(#hf)"/>
<circle cx="243.0" cy="484.0" r="7.4" fill="url(#hf)"/>
<circle cx="270.0" cy="484.0" r="7.4" fill="url(#hf)"/>
<circle cx="300.7" cy="484.0" r="7.4" fill="url(#hf)"/>
<circle cx="97.0" cy="512.7" r="7.4" fill="url(#hf)"/>
<circle cx="127.6" cy="512.7" r="7.4" fill="url(#hf)"/>
<circle cx="154.6" cy="512.7" r="7.4" fill="url(#hf)"/>
<circle cx="185.3" cy="512.7" r="7.4" fill="url(#hf)"/>
<circle cx="212.3" cy="512.7" r="7.4" fill="url(#hf)"/>
<circle cx="243.0" cy="512.7" r="7.4" fill="url(#hf)"/>
<circle cx="270.0" cy="512.7" r="7.4" fill="url(#hf)"/>
<circle cx="300.7" cy="512.7" r="7.4" fill="url(#hf)"/>
<circle cx="97.0" cy="542.1" r="7.4" fill="url(#hf)"/>
<circle cx="127.6" cy="542.1" r="7.4" fill="url(#hf)"/>
<circle cx="154.6" cy="542.1" r="7.4" fill="url(#hf)"/>
<circle cx="185.3" cy="542.1" r="7.4" fill="url(#hf)"/>
<circle cx="212.3" cy="542.1" r="7.4" fill="url(#hf)"/>
<circle cx="243.0" cy="542.1" r="7.4" fill="url(#hf)"/>
<circle cx="270.0" cy="542.1" r="7.4" fill="url(#hf)"/>
<circle cx="300.7" cy="542.1" r="7.4" fill="url(#hf)"/>
<circle cx="97.0" cy="570.9" r="7.4" fill="url(#hf)"/>
<circle cx="127.6" cy="570.9" r="7.4" fill="url(#hf)"/>
<circle cx="154.6" cy="570.9" r="7.4" fill="url(#hf)"/>
<circle cx="185.3" cy="570.9" r="7.4" fill="url(#hf)"/>
<circle cx="212.3" cy="570.9" r="7.4" fill="url(#hf)"/>
<circle cx="243.0" cy="570.9" r="7.4" fill="url(#hf)"/>
<circle cx="270.0" cy="570.9" r="7.4" fill="url(#hf)"/>
<circle cx="300.7" cy="570.9" r="7.4" fill="url(#hf)"/>
<circle cx="97.0" cy="599.8" r="7.4" fill="url(#hf)"/>
<circle cx="127.6" cy="599.8" r="7.4" fill="url(#hf)"/>
<circle cx="154.6" cy="599.8" r="7.4" fill="url(#hf)"/>
<circle cx="185.3" cy="599.8" r="7.4" fill="url(#hf)"/>
<circle cx="212.3" cy="599.8" r="7.4" fill="url(#hf)"/>
<circle cx="243.0" cy="599.8" r="7.4" fill="url(#hf)"/>
<circle cx="270.0" cy="599.8" r="7.4" fill="url(#hf)"/>
<circle cx="300.7" cy="599.8" r="7.4" fill="url(#hf)"/>
<circle cx="108.0" cy="433.4" r="3.5" fill="url(#ox)"/>
<circle cx="116.6" cy="433.4" r="3.5" fill="url(#ox)"/>
<circle cx="165.7" cy="433.4" r="3.5" fill="url(#ox)"/>
<circle cx="174.3" cy="433.4" r="3.5" fill="url(#ox)"/>
<circle cx="223.4" cy="433.4" r="3.5" fill="url(#ox)"/>
<circle cx="232.0" cy="433.4" r="3.5" fill="url(#ox)"/>
<circle cx="281.8" cy="433.4" r="3.5" fill="url(#ox)"/>
<circle cx="290.1" cy="433.4" r="3.5" fill="url(#ox)"/>
<circle cx="108.0" cy="462.9" r="3.5" fill="url(#ox)"/>
<circle cx="116.6" cy="462.9" r="3.5" fill="url(#ox)"/>
<circle cx="165.7" cy="462.9" r="3.5" fill="url(#ox)"/>
<circle cx="174.3" cy="462.9" r="3.5" fill="url(#ox)"/>
<circle cx="223.4" cy="462.9" r="3.5" fill="url(#ox)"/>
<circle cx="232.0" cy="462.9" r="3.5" fill="url(#ox)"/>
<circle cx="281.8" cy="462.9" r="3.5" fill="url(#ox)"/>
<circle cx="290.1" cy="462.9" r="3.5" fill="url(#ox)"/>
<circle cx="108.0" cy="491.8" r="3.5" fill="url(#ox)"/>
<circle cx="116.6" cy="491.8" r="3.5" fill="url(#ox)"/>
<circle cx="165.7" cy="491.8" r="3.5" fill="url(#ox)"/>
<circle cx="174.3" cy="491.8" r="3.5" fill="url(#ox)"/>
<circle cx="223.4" cy="491.8" r="3.5" fill="url(#ox)"/>
<circle cx="232.0" cy="491.8" r="3.5" fill="url(#ox)"/>
<circle cx="281.8" cy="491.8" r="3.5" fill="url(#ox)"/>
<circle cx="290.1" cy="491.8" r="3.5" fill="url(#ox)"/>
<circle cx="108.0" cy="521.3" r="3.5" fill="url(#ox)"/>
<circle cx="116.6" cy="521.3" r="3.5" fill="url(#ox)"/>
<circle cx="165.7" cy="521.3" r="3.5" fill="url(#ox)"/>
<circle cx="174.3" cy="521.3" r="3.5" fill="url(#ox)"/>
<circle cx="223.4" cy="521.3" r="3.5" fill="url(#ox)"/>
<circle cx="232.0" cy="521.3" r="3.5" fill="url(#ox)"/>
<circle cx="281.8" cy="521.3" r="3.5" fill="url(#ox)"/>
<circle cx="290.1" cy="521.3" r="3.5" fill="url(#ox)"/>
<circle cx="108.0" cy="550.2" r="3.5" fill="url(#ox)"/>
<circle cx="116.6" cy="550.2" r="3.5" fill="url(#ox)"/>
<circle cx="165.7" cy="550.2" r="3.5" fill="url(#ox)"/>
<circle cx="174.3" cy="550.2" r="3.5" fill="url(#ox)"/>
<circle cx="223.4" cy="550.2" r="3.5" fill="url(#ox)"/>
<circle cx="232.0" cy="550.2" r="3.5" fill="url(#ox)"/>
<circle cx="281.8" cy="550.2" r="3.5" fill="url(#ox)"/>
<circle cx="290.1" cy="550.2" r="3.5" fill="url(#ox)"/>
<circle cx="108.0" cy="579.0" r="3.5" fill="url(#ox)"/>
<circle cx="116.6" cy="579.0" r="3.5" fill="url(#ox)"/>
<circle cx="165.7" cy="579.0" r="3.5" fill="url(#ox)"/>
<circle cx="174.3" cy="579.0" r="3.5" fill="url(#ox)"/>
<circle cx="223.4" cy="579.0" r="3.5" fill="url(#ox)"/>
<circle cx="232.0" cy="579.0" r="3.5" fill="url(#ox)"/>
<circle cx="281.8" cy="579.0" r="3.5" fill="url(#ox)"/>
<circle cx="290.1" cy="579.0" r="3.5" fill="url(#ox)"/>
<circle cx="108.0" cy="608.5" r="3.5" fill="url(#ox)"/>
<circle cx="116.6" cy="608.5" r="3.5" fill="url(#ox)"/>
<circle cx="165.7" cy="608.5" r="3.5" fill="url(#ox)"/>
<circle cx="174.3" cy="608.5" r="3.5" fill="url(#ox)"/>
<circle cx="223.4" cy="608.5" r="3.5" fill="url(#ox)"/>
<circle cx="232.0" cy="608.5" r="3.5" fill="url(#ox)"/>
<circle cx="281.8" cy="608.5" r="3.5" fill="url(#ox)"/>
<circle cx="290.1" cy="608.5" r="3.5" fill="url(#ox)"/>
<circle cx="462.7" cy="442.7" r="8.0" fill="url(#hf)"/>
<circle cx="461.7" cy="442.6" r="3.6" fill="url(#ox)"/>
<circle cx="462.7" cy="469.2" r="8.0" fill="url(#hf)"/>
<circle cx="462.2" cy="469.3" r="3.6" fill="url(#ox)"/>
<circle cx="462.7" cy="495.5" r="8.0" fill="url(#hf)"/>
<circle cx="463.2" cy="493.7" r="3.6" fill="url(#ox)"/>
<circle cx="462.7" cy="522.5" r="8.0" fill="url(#hf)"/>
<circle cx="460.8" cy="523.4" r="3.6" fill="url(#ox)"/>
<circle cx="462.7" cy="548.2" r="8.0" fill="url(#hf)"/>
<circle cx="461.7" cy="547.0" r="3.6" fill="url(#ox)"/>
<circle cx="462.7" cy="575.2" r="8.0" fill="url(#hf)"/>
<circle cx="464.7" cy="574.8" r="3.6" fill="url(#ox)"/>
<circle cx="509.3" cy="442.7" r="8.0" fill="url(#hf)"/>
<circle cx="510.6" cy="442.4" r="3.6" fill="url(#ox)"/>
<circle cx="509.3" cy="469.2" r="8.0" fill="url(#hf)"/>
<circle cx="509.9" cy="467.7" r="3.6" fill="url(#ox)"/>
<circle cx="509.3" cy="495.5" r="8.0" fill="url(#hf)"/>
<circle cx="509.8" cy="496.5" r="3.6" fill="url(#ox)"/>
<circle cx="509.3" cy="522.5" r="8.0" fill="url(#hf)"/>
<circle cx="509.4" cy="523.1" r="3.6" fill="url(#ox)"/>
<circle cx="509.3" cy="548.2" r="8.0" fill="url(#hf)"/>
<circle cx="510.0" cy="546.4" r="3.6" fill="url(#ox)"/>
<circle cx="509.3" cy="575.2" r="8.0" fill="url(#hf)"/>
<circle cx="510.3" cy="575.3" r="3.6" fill="url(#ox)"/>
<circle cx="554.7" cy="442.7" r="8.0" fill="url(#hf)"/>
<circle cx="553.9" cy="440.8" r="3.6" fill="url(#ox)"/>
<circle cx="554.7" cy="469.2" r="8.0" fill="url(#hf)"/>
<circle cx="556.2" cy="468.9" r="3.6" fill="url(#ox)"/>
<circle cx="554.7" cy="495.5" r="8.0" fill="url(#hf)"/>
<circle cx="555.6" cy="496.6" r="3.6" fill="url(#ox)"/>
<circle cx="554.7" cy="522.5" r="8.0" fill="url(#hf)"/>
<circle cx="555.6" cy="523.7" r="3.6" fill="url(#ox)"/>
<circle cx="554.7" cy="548.2" r="8.0" fill="url(#hf)"/>
<circle cx="554.3" cy="549.0" r="3.6" fill="url(#ox)"/>
<circle cx="554.7" cy="575.2" r="8.0" fill="url(#hf)"/>
<circle cx="554.5" cy="576.5" r="3.6" fill="url(#ox)"/>
<circle cx="600.1" cy="442.7" r="8.0" fill="url(#hf)"/>
<circle cx="601.6" cy="441.0" r="3.6" fill="url(#ox)"/>
<circle cx="600.1" cy="469.2" r="8.0" fill="url(#hf)"/>
<circle cx="598.6" cy="468.0" r="3.6" fill="url(#ox)"/>
<circle cx="600.1" cy="495.5" r="8.0" fill="url(#hf)"/>
<circle cx="602.0" cy="495.0" r="3.6" fill="url(#ox)"/>
<circle cx="600.1" cy="522.5" r="8.0" fill="url(#hf)"/>
<circle cx="600.6" cy="521.6" r="3.6" fill="url(#ox)"/>
<circle cx="600.1" cy="548.2" r="8.0" fill="url(#hf)"/>
<circle cx="600.1" cy="547.6" r="3.6" fill="url(#ox)"/>
<circle cx="600.1" cy="575.2" r="8.0" fill="url(#hf)"/>
<circle cx="599.5" cy="575.2" r="3.6" fill="url(#ox)"/>
<circle cx="646.7" cy="442.7" r="8.0" fill="url(#hf)"/>
<circle cx="647.0" cy="443.9" r="3.6" fill="url(#ox)"/>
<circle cx="646.7" cy="469.2" r="8.0" fill="url(#hf)"/>
<circle cx="647.4" cy="470.5" r="3.6" fill="url(#ox)"/>
<circle cx="646.7" cy="495.5" r="8.0" fill="url(#hf)"/>
<circle cx="648.1" cy="497.0" r="3.6" fill="url(#ox)"/>
<circle cx="646.7" cy="522.5" r="8.0" fill="url(#hf)"/>
<circle cx="647.4" cy="521.1" r="3.6" fill="url(#ox)"/>
<circle cx="646.7" cy="548.2" r="8.0" fill="url(#hf)"/>
<circle cx="648.1" cy="549.6" r="3.6" fill="url(#ox)"/>
<circle cx="646.7" cy="575.2" r="8.0" fill="url(#hf)"/>
<circle cx="648.3" cy="575.2" r="3.6" fill="url(#ox)"/>
<circle cx="486.0" cy="429.9" r="8.0" fill="url(#hf)"/>
<circle cx="486.9" cy="428.6" r="3.6" fill="url(#ox)"/>
<circle cx="486.0" cy="456.2" r="8.0" fill="url(#hf)"/>
<circle cx="487.3" cy="456.2" r="3.6" fill="url(#ox)"/>
<circle cx="486.0" cy="483.2" r="8.0" fill="url(#hf)"/>
<circle cx="485.1" cy="481.4" r="3.6" fill="url(#ox)"/>
<circle cx="486.0" cy="509.4" r="8.0" fill="url(#hf)"/>
<circle cx="487.4" cy="510.9" r="3.6" fill="url(#ox)"/>
<circle cx="486.0" cy="536.0" r="8.0" fill="url(#hf)"/>
<circle cx="484.4" cy="536.8" r="3.6" fill="url(#ox)"/>
<circle cx="486.0" cy="563.0" r="8.0" fill="url(#hf)"/>
<circle cx="485.6" cy="561.5" r="3.6" fill="url(#ox)"/>
<circle cx="486.0" cy="588.7" r="8.0" fill="url(#hf)"/>
<circle cx="485.2" cy="589.4" r="3.6" fill="url(#ox)"/>
<circle cx="531.4" cy="429.9" r="8.0" fill="url(#hf)"/>
<circle cx="532.9" cy="428.1" r="3.6" fill="url(#ox)"/>
<circle cx="531.4" cy="456.2" r="8.0" fill="url(#hf)"/>
<circle cx="531.9" cy="454.4" r="3.6" fill="url(#ox)"/>
<circle cx="531.4" cy="483.2" r="8.0" fill="url(#hf)"/>
<circle cx="532.3" cy="482.4" r="3.6" fill="url(#ox)"/>
<circle cx="531.4" cy="509.4" r="8.0" fill="url(#hf)"/>
<circle cx="532.9" cy="510.8" r="3.6" fill="url(#ox)"/>
<circle cx="531.4" cy="536.0" r="8.0" fill="url(#hf)"/>
<circle cx="531.4" cy="537.5" r="3.6" fill="url(#ox)"/>
<circle cx="531.4" cy="563.0" r="8.0" fill="url(#hf)"/>
<circle cx="530.6" cy="561.3" r="3.6" fill="url(#ox)"/>
<circle cx="531.4" cy="588.7" r="8.0" fill="url(#hf)"/>
<circle cx="531.8" cy="586.8" r="3.6" fill="url(#ox)"/>
<circle cx="578.0" cy="429.9" r="8.0" fill="url(#hf)"/>
<circle cx="576.8" cy="429.3" r="3.6" fill="url(#ox)"/>
<circle cx="578.0" cy="456.2" r="8.0" fill="url(#hf)"/>
<circle cx="578.4" cy="454.7" r="3.6" fill="url(#ox)"/>
<circle cx="578.0" cy="483.2" r="8.0" fill="url(#hf)"/>
<circle cx="576.2" cy="484.2" r="3.6" fill="url(#ox)"/>
<circle cx="578.0" cy="509.4" r="8.0" fill="url(#hf)"/>
<circle cx="577.3" cy="510.8" r="3.6" fill="url(#ox)"/>
<circle cx="578.0" cy="536.0" r="8.0" fill="url(#hf)"/>
<circle cx="579.6" cy="535.3" r="3.6" fill="url(#ox)"/>
<circle cx="578.0" cy="563.0" r="8.0" fill="url(#hf)"/>
<circle cx="577.8" cy="562.8" r="3.6" fill="url(#ox)"/>
<circle cx="578.0" cy="588.7" r="8.0" fill="url(#hf)"/>
<circle cx="578.6" cy="588.8" r="3.6" fill="url(#ox)"/>
<circle cx="623.4" cy="429.9" r="8.0" fill="url(#hf)"/>
<circle cx="623.6" cy="430.1" r="3.6" fill="url(#ox)"/>
<circle cx="623.4" cy="456.2" r="8.0" fill="url(#hf)"/>
<circle cx="625.2" cy="456.0" r="3.6" fill="url(#ox)"/>
<circle cx="623.4" cy="483.2" r="8.0" fill="url(#hf)"/>
<circle cx="623.1" cy="483.7" r="3.6" fill="url(#ox)"/>
<circle cx="623.4" cy="509.4" r="8.0" fill="url(#hf)"/>
<circle cx="622.4" cy="508.5" r="3.6" fill="url(#ox)"/>
<circle cx="623.4" cy="536.0" r="8.0" fill="url(#hf)"/>
<circle cx="625.3" cy="535.8" r="3.6" fill="url(#ox)"/>
<circle cx="623.4" cy="563.0" r="8.0" fill="url(#hf)"/>
<circle cx="623.6" cy="561.0" r="3.6" fill="url(#ox)"/>
<circle cx="623.4" cy="588.7" r="8.0" fill="url(#hf)"/>
<circle cx="623.1" cy="588.7" r="3.6" fill="url(#ox)"/>
<circle cx="670.1" cy="429.9" r="8.0" fill="url(#hf)"/>
<circle cx="668.2" cy="430.1" r="3.6" fill="url(#ox)"/>
<circle cx="670.1" cy="456.2" r="8.0" fill="url(#hf)"/>
<circle cx="670.6" cy="454.4" r="3.6" fill="url(#ox)"/>
<circle cx="670.1" cy="483.2" r="8.0" fill="url(#hf)"/>
<circle cx="670.6" cy="482.8" r="3.6" fill="url(#ox)"/>
<circle cx="670.1" cy="509.4" r="8.0" fill="url(#hf)"/>
<circle cx="670.8" cy="508.6" r="3.6" fill="url(#ox)"/>
<circle cx="670.1" cy="536.0" r="8.0" fill="url(#hf)"/>
<circle cx="670.9" cy="536.6" r="3.6" fill="url(#ox)"/>
<circle cx="670.1" cy="563.0" r="8.0" fill="url(#hf)"/>
<circle cx="668.2" cy="561.2" r="3.6" fill="url(#ox)"/>
<circle cx="670.1" cy="588.7" r="8.0" fill="url(#hf)"/>
<circle cx="670.8" cy="590.1" r="3.6" fill="url(#ox)"/>
<line x1="22.2" y1="241.0" x2="22.0" y2="219.2" stroke="#3cae50" stroke-width="3.4"/>
<polygon points="21.8,205.2 27.5,219.1 16.5,219.3" fill="#3cae50"/>
<line x1="25.0" y1="239.5" x2="40.9" y2="230.4" stroke="#dc1f2e" stroke-width="3.4"/>
<polygon points="53.1,223.5 43.7,235.2 38.2,225.6" fill="#dc1f2e"/>
<line x1="24.0" y1="243.0" x2="41.3" y2="254.2" stroke="#3553a6" stroke-width="3.4"/>
<polygon points="53.1,261.8 38.4,258.8 44.3,249.6" fill="#3553a6"/>
<circle cx="21.8" cy="244" r="4.8" fill="url(#gy)"/>
<text x="16.5" y="199.0" font-size="28" font-style="italic" fill="#231f20">b</text>
<text x="55.5" y="226.0" font-size="28" font-style="italic" fill="#231f20">a</text>
<text x="56.5" y="274.0" font-size="28" font-style="italic" fill="#231f20">c</text>
<line x1="392.9" y1="246.0" x2="393.0" y2="229.8" stroke="#3cae50" stroke-width="3.0"/>
<polygon points="393.1,217.1 398.0,229.8 388.0,229.8" fill="#3cae50"/>
<line x1="396.0" y1="251.5" x2="409.8" y2="258.3" stroke="#dc1f2e" stroke-width="3.0"/>
<polygon points="421.0,263.8 407.5,262.8 412.0,253.8" fill="#dc1f2e"/>
<line x1="390.0" y1="251.5" x2="377.2" y2="258.7" stroke="#3553a6" stroke-width="3.0"/>
<polygon points="366.8,264.6 374.8,254.4 379.7,263.1" fill="#3553a6"/>
<circle cx="392.9" cy="249.5" r="4.5" fill="url(#gy)"/>
<text x="387.0" y="214.5" font-size="28" font-style="italic" fill="#231f20">b</text>
<text x="425.4" y="274.0" font-size="28" font-style="italic" fill="#231f20">a</text>
<text x="355.7" y="280.0" font-size="28" font-style="italic" fill="#231f20">c</text>
<line x1="8.1" y1="581.0" x2="8.2" y2="557.0" stroke="#3cae50" stroke-width="3.2"/>
<polygon points="8.2,544.2 13.2,557.0 3.2,557.0" fill="#3cae50"/>
<line x1="12.0" y1="584.6" x2="35.6" y2="584.5" stroke="#dc1f2e" stroke-width="3.2"/>
<polygon points="49.1,584.4 35.6,589.5 35.6,579.5" fill="#dc1f2e"/>
<circle cx="8" cy="584.8" r="5" fill="#3553a6"/>
<text x="5.3" y="587.6" font-size="8" font-weight="bold" fill="#111">c</text>
<text x="6.8" y="540.0" font-size="28" font-style="italic" fill="#231f20">b</text>
<text x="50.6" y="596.0" font-size="28" font-style="italic" fill="#231f20">a</text>
<line x1="393.3" y1="577.0" x2="393.5" y2="553.1" stroke="#dc1f2e" stroke-width="3.3"/>
<polygon points="393.6,539.1 399.5,553.1 387.5,553.1" fill="#dc1f2e"/>
<line x1="390.0" y1="582.5" x2="369.9" y2="594.4" stroke="#3cae50" stroke-width="3.3"/>
<polygon points="357.9,601.5 366.9,589.2 373.0,599.5" fill="#3cae50"/>
<line x1="396.5" y1="582.5" x2="417.6" y2="594.6" stroke="#3553a6" stroke-width="3.3"/>
<polygon points="429.8,601.5 414.7,599.8 420.6,589.4" fill="#3553a6"/>
<circle cx="393.2" cy="580.7" r="5.3" fill="url(#gy)"/>
<text x="387.8" y="534.0" font-size="28" font-style="italic" fill="#231f20">a</text>
<text x="345.4" y="616.0" font-size="28" font-style="italic" fill="#231f20">b</text>
<text x="430.6" y="614.0" font-size="28" font-style="italic" fill="#231f20">c</text>
<text x="709.4" y="27.6" font-size="34.54" text-anchor="start" fill="#231f20" >(B)</text>
<rect x="802.8" y="22.5" width="680.0" height="509.5" fill="none" stroke="#5a5a5a" stroke-width="1.3"/>
<line x1="836.8" y1="22.5" x2="836.8" y2="32.5" stroke="#3c3c3c" stroke-width="1.3" />
<line x1="836.8" y1="532.0" x2="836.8" y2="522.0" stroke="#3c3c3c" stroke-width="1.3" />
<line x1="870.8" y1="22.5" x2="870.8" y2="32.5" stroke="#3c3c3c" stroke-width="1.3" />
<line x1="870.8" y1="532.0" x2="870.8" y2="522.0" stroke="#3c3c3c" stroke-width="1.3" />
<line x1="904.8" y1="22.5" x2="904.8" y2="32.5" stroke="#3c3c3c" stroke-width="1.3" />
<line x1="904.8" y1="532.0" x2="904.8" y2="522.0" stroke="#3c3c3c" stroke-width="1.3" />
<line x1="938.8" y1="22.5" x2="938.8" y2="32.5" stroke="#3c3c3c" stroke-width="1.3" />
<line x1="938.8" y1="532.0" x2="938.8" y2="522.0" stroke="#3c3c3c" stroke-width="1.3" />
<line x1="972.8" y1="22.5" x2="972.8" y2="42.5" stroke="#3c3c3c" stroke-width="1.3" />
<line x1="972.8" y1="532.0" x2="972.8" y2="512.0" stroke="#3c3c3c" stroke-width="1.3" />
<line x1="1006.8" y1="22.5" x2="1006.8" y2="32.5" stroke="#3c3c3c" stroke-width="1.3" />
<line x1="1006.8" y1="532.0" x2="1006.8" y2="522.0" stroke="#3c3c3c" stroke-width="1.3" />
<line x1="1040.8" y1="22.5" x2="1040.8" y2="32.5" stroke="#3c3c3c" stroke-width="1.3" />
<line x1="1040.8" y1="532.0" x2="1040.8" y2="522.0" stroke="#3c3c3c" stroke-width="1.3" />
<line x1="1074.8" y1="22.5" x2="1074.8" y2="32.5" stroke="#3c3c3c" stroke-width="1.3" />
<line x1="1074.8" y1="532.0" x2="1074.8" y2="522.0" stroke="#3c3c3c" stroke-width="1.3" />
<line x1="1108.8" y1="22.5" x2="1108.8" y2="32.5" stroke="#3c3c3c" stroke-width="1.3" />
<line x1="1108.8" y1="532.0" x2="1108.8" y2="522.0" stroke="#3c3c3c" stroke-width="1.3" />
<line x1="1142.8" y1="22.5" x2="1142.8" y2="42.5" stroke="#3c3c3c" stroke-width="1.3" />
<line x1="1142.8" y1="532.0" x2="1142.8" y2="512.0" stroke="#3c3c3c" stroke-width="1.3" />
<line x1="1176.8" y1="22.5" x2="1176.8" y2="32.5" stroke="#3c3c3c" stroke-width="1.3" />
<line x1="1176.8" y1="532.0" x2="1176.8" y2="522.0" stroke="#3c3c3c" stroke-width="1.3" />
<line x1="1210.8" y1="22.5" x2="1210.8" y2="32.5" stroke="#3c3c3c" stroke-width="1.3" />
<line x1="1210.8" y1="532.0" x2="1210.8" y2="522.0" stroke="#3c3c3c" stroke-width="1.3" />
<line x1="1244.8" y1="22.5" x2="1244.8" y2="32.5" stroke="#3c3c3c" stroke-width="1.3" />
<line x1="1244.8" y1="532.0" x2="1244.8" y2="522.0" stroke="#3c3c3c" stroke-width="1.3" />
<line x1="1278.8" y1="22.5" x2="1278.8" y2="32.5" stroke="#3c3c3c" stroke-width="1.3" />
<line x1="1278.8" y1="532.0" x2="1278.8" y2="522.0" stroke="#3c3c3c" stroke-width="1.3" />
<line x1="1312.8" y1="22.5" x2="1312.8" y2="42.5" stroke="#3c3c3c" stroke-width="1.3" />
<line x1="1312.8" y1="532.0" x2="1312.8" y2="512.0" stroke="#3c3c3c" stroke-width="1.3" />
<line x1="1346.8" y1="22.5" x2="1346.8" y2="32.5" stroke="#3c3c3c" stroke-width="1.3" />
<line x1="1346.8" y1="532.0" x2="1346.8" y2="522.0" stroke="#3c3c3c" stroke-width="1.3" />
<line x1="1380.8" y1="22.5" x2="1380.8" y2="32.5" stroke="#3c3c3c" stroke-width="1.3" />
<line x1="1380.8" y1="532.0" x2="1380.8" y2="522.0" stroke="#3c3c3c" stroke-width="1.3" />
<line x1="1414.8" y1="22.5" x2="1414.8" y2="32.5" stroke="#3c3c3c" stroke-width="1.3" />
<line x1="1414.8" y1="532.0" x2="1414.8" y2="522.0" stroke="#3c3c3c" stroke-width="1.3" />
<line x1="1448.8" y1="22.5" x2="1448.8" y2="32.5" stroke="#3c3c3c" stroke-width="1.3" />
<line x1="1448.8" y1="532.0" x2="1448.8" y2="522.0" stroke="#3c3c3c" stroke-width="1.3" />
<line x1="802.8" y1="532.0" x2="802.8" y2="511.0" stroke="#3c3c3c" stroke-width="1.6" />
<line x1="802.8" y1="22.5" x2="802.8" y2="43.5" stroke="#3c3c3c" stroke-width="1.6" />
<line x1="1482.8" y1="22.5" x2="1482.8" y2="43.5" stroke="#3c3c3c" stroke-width="1.6" />
<line x1="1482.8" y1="532.0" x2="1482.8" y2="511.0" stroke="#3c3c3c" stroke-width="1.6" />
<text x="785.8" y="567.0" font-size="35.2" text-anchor="start" fill="#231f20" >20</text>
<text x="955.9" y="567.0" font-size="35.2" text-anchor="start" fill="#231f20" >25</text>
<text x="1125.8" y="567.0" font-size="35.2" text-anchor="start" fill="#231f20" >30</text>
<text x="1295.9" y="567.0" font-size="35.2" text-anchor="start" fill="#231f20" >35</text>
<text x="1466.3" y="567.0" font-size="35.2" text-anchor="start" fill="#231f20" >40</text>
<text x="1066.2" y="604.2" font-size="35.73" text-anchor="start" fill="#231f20" >2θ</text>
<text x="1104.7" y="604.2" font-size="34.38" text-anchor="start" fill="#231f20" >(degrees)</text>
<text transform="translate(777.5,443.4) rotate(-90)" font-size="34.52" text-anchor="start" fill="#231f20" >Log Intensity (arb.units)</text>
<text transform="translate(881.6,188.4) rotate(-90)" font-size="34.45" text-anchor="start" fill="#231f20" >STO (001)</text>
<text transform="translate(946.3,158.9) rotate(-90)" font-size="34.09" text-anchor="start" fill="#231f20" >LSMO</text>
<text transform="translate(980.0,137.9) rotate(-90)" font-size="34.33" text-anchor="start" fill="#231f20" >(001)</text>
<text transform="translate(1192.0,207.9) rotate(-90)" font-size="35.1" text-anchor="start" fill="#231f20" >HZO (111)</text>
<line x1="1333.3" y1="82.3" x2="1377.6" y2="82.3" stroke="#2e4088" stroke-width="3.2" />
<text x="1388.7" y="91.0" font-size="34.59" text-anchor="start" fill="#231f20" >5 nm</text>
<line x1="1333.3" y1="116.3" x2="1377.6" y2="116.3" stroke="#c23a44" stroke-width="3.2" />
<text x="1388.7" y="125.1" font-size="34.59" text-anchor="start" fill="#231f20" >3 nm</text>
<line x1="1333.3" y1="150.3" x2="1377.6" y2="150.3" stroke="#70879f" stroke-width="3.2" />
<text x="1388.7" y="158.6" font-size="34.59" text-anchor="start" fill="#231f20" >1 nm</text>
<g stroke-linejoin="miter">
<path d="M803.0,356.5 L804.2,350.9 L805.5,353.9 L806.8,351.7 L808.0,356.3 L809.2,350.1 L810.5,353.3 L811.8,351.0 L813.0,352.4 L814.2,350.7 L815.5,353.0 L816.8,355.9 L818.0,354.9 L819.2,349.4 L820.5,354.5 L821.8,347.6 L823.0,351.1 L824.2,348.0 L825.5,349.3 L826.8,345.1 L828.0,350.4 L829.2,345.6 L830.5,348.0 L831.8,343.3 L833.0,350.2 L834.2,344.8 L835.5,349.6 L836.8,344.6 L838.0,348.2 L839.2,353.3 L840.5,347.2 L841.8,343.3 L843.0,346.3 L844.2,343.0 L845.5,344.7 L846.8,342.5 L848.0,344.7 L849.2,341.8 L850.5,343.4 L851.8,339.5 L853.0,343.8 L854.2,339.8 L855.5,342.5 L856.8,337.0 L858.0,340.1 L859.2,336.1 L860.5,343.8 L861.8,335.7 L863.0,342.7 L864.2,336.8 L865.5,340.7 L866.8,333.6 L868.0,338.5 L869.2,332.6 L870.5,339.3 L871.8,333.1 L873.0,337.9 L874.2,329.5 L875.5,336.4 L876.8,331.8 L878.0,334.4 L879.2,333.6 L880.5,334.6 L881.8,328.8 L883.0,326.2 L884.2,320.0 L885.5,322.1 L886.8,324.3 L888.0,331.2 L888.4,332.7 L888.7,333.7 L889.1,333.9 L889.4,333.2 L889.8,331.3 L890.1,328.2 L890.5,324.1 L890.8,320.0 L891.2,316.8 L891.5,314.2 L891.9,311.8 L892.2,309.1 L892.6,305.8 L892.9,301.4 L893.3,295.9 L893.6,289.8 L894.0,282.3 L894.3,272.3 L894.7,256.4 L895.0,230.9 L895.4,194.7 L895.7,161.0 L896.1,131.0 L896.4,114.0 L896.8,131.6 L897.1,161.2 L897.5,192.2 L897.8,223.8 L898.2,246.8 L898.5,259.8 L898.9,266.7 L899.2,270.9 L899.6,274.5 L899.9,278.2 L900.3,281.1 L900.6,282.2 L901.0,281.2 L901.3,278.6 L901.7,274.6 L902.0,269.9 L902.4,264.8 L902.7,259.5 L903.1,254.2 L903.4,248.4 L903.8,242.0 L904.1,235.6 L904.5,229.6 L904.8,224.5 L905.2,220.7 L905.5,218.0 L905.9,216.1 L906.2,214.9 L906.6,214.3 L906.9,214.0 L907.3,214.1 L907.6,214.6 L908.0,215.6 L908.3,217.1 L908.7,219.2 L909.0,222.0 L909.4,225.5 L909.7,229.6 L910.1,234.4 L910.4,239.7 L910.8,245.5 L911.1,252.0 L911.5,259.4 L911.8,267.6 L912.2,276.1 L912.5,284.7 L912.9,292.7 L913.2,300.4 L913.6,308.3 L913.9,316.2 L914.3,323.5 L914.6,329.4 L915.0,332.7 L915.3,330.0 L915.7,321.0 L916.0,308.4 L916.4,299.1 L916.7,292.7 L917.1,288.4 L917.4,287.9 L917.8,290.2 L918.1,294.8 L918.5,300.4 L918.8,306.4 L919.2,312.4 L919.5,318.0 L919.9,323.8 L920.2,330.2 L920.6,336.5 L920.9,342.3 L921.3,346.9 L921.6,349.6 L922.0,348.9 L922.3,345.3 L922.7,339.8 L923.0,334.0 L923.4,329.4 L923.7,325.1 L924.1,320.4 L924.4,316.9 L924.8,315.2 L925.1,315.5 L925.5,317.6 L925.8,320.9 L926.2,324.8 L926.5,329.0 L926.9,333.2 L927.2,337.1 L927.6,340.4 L927.9,343.6 L928.3,346.9 L928.6,350.0 L929.0,353.0 L929.3,355.6 L929.7,357.6 L930.0,358.7 L930.4,358.0 L930.7,355.6 L931.1,351.9 L931.4,347.7 L931.8,344.6 L932.1,341.9 L932.5,339.1 L932.8,337.1 L933.2,336.3 L933.5,337.1 L933.9,339.1 L934.2,342.0 L934.6,345.2 L934.9,348.5 L935.3,351.6 L935.6,354.6 L936.0,357.9 L936.3,361.2 L936.7,364.4 L937.0,367.0 L937.4,368.5 L937.7,367.7 L938.1,364.5 L938.4,359.5 L938.8,355.5 L939.1,352.4 L939.5,349.6 L939.8,348.3 L940.2,348.4 L940.5,350.0 L940.9,352.2 L941.2,354.7 L941.6,357.1 L941.9,359.4 L942.3,361.5 L942.6,363.7 L943.0,365.9 L943.3,367.8 L943.7,369.2 L944.0,369.6 L944.4,368.5 L944.7,365.9 L945.1,362.6 L945.4,359.3 L945.8,356.7 L946.1,354.2 L946.5,351.8 L946.8,349.9 L947.2,349.1 L947.5,349.2 L947.9,350.3 L948.2,351.8 L948.6,353.7 L948.9,355.8 L949.3,357.8 L949.6,359.9 L950.0,361.7 L950.3,363.6 L950.7,365.6 L951.0,367.6 L951.4,369.6 L951.7,371.3 L952.1,372.5 L952.4,373.0 L952.8,371.9 L953.1,369.2 L953.5,365.4 L953.8,361.7 L954.2,358.8 L954.5,356.0 L954.9,353.3 L955.2,351.6 L955.6,351.2 L955.9,352.3 L956.3,354.7 L956.6,357.8 L957.0,361.4 L957.3,365.1 L957.7,368.7 L958.0,372.0 L958.4,375.4 L958.7,379.3 L959.1,383.0 L959.4,385.7 L959.8,386.9 L960.1,386.1 L960.5,383.5 L960.8,379.7 L961.2,375.2 L961.5,370.6 L961.9,366.6 L962.2,363.0 L962.6,359.1 L962.9,355.3 L963.3,352.6 L963.6,350.9 L964.0,350.1 L964.3,350.0 L964.7,350.5 L965.0,351.2 L965.4,352.1 L965.7,353.1 L966.1,362.2 L966.9,353.8 L967.7,373.1 L968.5,354.1 L969.3,368.2 L970.1,356.8 L970.9,363.3 L971.7,355.7 L972.5,365.0 L973.3,357.5 L974.1,366.1 L974.9,357.0 L975.7,365.9 L976.5,358.8 L977.3,362.0 L978.1,357.5 L978.9,360.7 L979.7,357.9 L980.5,368.2 L981.3,358.4 L982.1,367.9 L982.9,354.2 L983.7,365.8 L984.5,355.8 L985.3,366.4 L986.1,355.9 L986.9,365.3 L987.7,359.7 L988.5,363.5 L989.3,355.8 L990.1,370.8 L990.9,361.8 L991.7,369.6 L992.5,359.7 L993.3,368.8 L994.1,359.6 L994.9,369.0 L995.7,365.6 L996.5,374.7 L997.3,365.2 L998.1,376.0 L998.9,380.9 L999.7,371.9 L1000.5,368.3 L1001.3,378.6 L1002.1,366.3 L1002.9,377.0 L1003.7,368.6 L1004.5,379.0 L1005.3,369.6 L1006.1,382.5 L1006.9,369.7 L1007.7,379.6 L1008.5,370.3 L1009.3,377.8 L1010.1,387.6 L1010.9,379.3 L1011.7,371.1 L1012.5,389.1 L1013.3,372.4 L1014.1,386.5 L1014.9,377.4 L1015.7,386.4 L1016.5,375.5 L1017.3,384.9 L1018.1,392.6 L1018.9,387.2 L1019.7,377.2 L1020.5,390.8 L1021.3,381.3 L1022.1,387.2 L1022.9,378.7 L1023.7,391.4 L1024.5,378.9 L1025.3,387.7 L1026.1,376.6 L1026.9,383.8 L1027.7,376.9 L1028.5,381.3 L1029.3,375.5 L1030.1,385.9 L1030.9,371.8 L1031.7,381.9 L1032.5,373.6 L1033.3,382.9 L1034.1,369.6 L1034.9,374.9 L1035.7,368.7 L1036.5,372.3 L1037.3,366.8 L1038.1,369.3 L1038.9,364.5 L1039.7,368.0 L1040.5,361.1 L1041.3,364.2 L1042.1,358.1 L1042.9,361.0 L1043.7,357.4 L1044.5,360.3 L1045.3,352.2 L1046.1,355.7 L1046.9,351.9 L1047.7,354.1 L1048.5,356.6 L1049.3,352.5 L1050.1,349.3 L1050.9,351.2 L1051.7,346.3 L1052.5,348.9 L1053.3,344.1 L1054.1,350.8 L1054.9,344.5 L1055.7,349.6 L1056.5,342.9 L1057.2,346.1 L1058.0,340.9 L1058.8,346.7 L1059.6,340.4 L1060.4,346.0 L1061.2,342.2 L1062.0,344.2 L1062.8,341.4 L1063.6,344.2 L1064.4,338.3 L1065.2,343.6 L1066.0,337.6 L1066.8,347.6 L1067.6,338.0 L1068.4,344.1 L1069.2,337.6 L1070.0,342.4 L1070.8,335.7 L1071.6,342.1 L1072.4,336.3 L1073.2,338.2 L1074.0,336.5 L1074.8,337.7 L1075.6,335.5 L1076.4,338.5 L1077.2,332.5 L1078.0,339.5 L1078.8,333.1 L1079.6,336.0 L1080.4,331.4 L1081.2,337.4 L1082.0,332.0 L1082.8,335.1 L1083.6,332.1 L1084.4,334.1 L1085.2,329.9 L1086.0,333.2 L1086.8,329.1 L1087.6,335.2 L1088.4,329.1 L1089.2,331.7 L1090.0,329.1 L1090.8,333.5 L1091.6,326.3 L1092.4,329.5 L1093.2,327.7 L1094.0,330.1 L1094.8,325.1 L1095.6,330.9 L1096.4,323.7 L1097.2,327.4 L1098.0,323.3 L1098.8,328.6 L1099.6,325.0 L1100.4,326.7 L1101.2,322.5 L1102.0,328.1 L1102.8,323.6 L1103.6,328.6 L1104.4,322.2 L1105.2,328.0 L1106.0,323.2 L1106.8,326.1 L1107.6,323.3 L1108.4,327.9 L1109.2,321.4 L1110.0,327.5 L1110.8,323.3 L1111.6,329.2 L1112.4,322.5 L1113.2,326.0 L1114.0,324.1 L1114.8,327.7 L1115.6,323.9 L1116.4,327.3 L1117.2,324.1 L1118.0,329.2 L1118.8,322.4 L1119.6,326.0 L1120.4,323.1 L1121.2,326.1 L1122.0,322.9 L1122.8,329.0 L1123.6,324.5 L1124.4,326.7 L1125.2,322.1 L1126.0,332.8 L1126.8,324.7 L1127.6,327.7 L1128.4,324.7 L1129.2,332.9 L1130.0,325.2 L1130.8,327.4 L1131.6,323.0 L1132.4,329.1 L1133.2,325.8 L1134.0,330.5 L1134.8,326.7 L1135.6,331.7 L1136.4,327.0 L1137.2,331.9 L1138.0,325.5 L1138.8,331.5 L1139.6,326.5 L1140.4,333.0 L1141.2,325.8 L1142.0,333.9 L1142.8,326.4 L1143.6,331.9 L1144.4,327.5 L1145.2,334.6 L1146.0,331.1 L1146.8,332.3 L1147.6,328.9 L1148.4,336.6 L1149.2,331.5 L1150.0,336.6 L1150.8,333.4 L1151.6,335.6 L1152.4,332.4 L1153.2,339.2 L1154.0,334.7 L1154.8,337.1 L1155.6,335.6 L1156.4,339.2 L1157.2,337.2 L1158.0,339.3 L1158.8,336.8 L1159.6,340.2 L1160.4,338.8 L1161.2,342.7 L1162.0,339.7 L1162.8,342.7 L1163.6,339.3 L1164.4,347.6 L1165.2,341.1 L1166.0,345.4 L1166.8,342.6 L1167.6,346.8 L1168.4,344.3 L1169.2,348.4 L1170.0,345.4 L1170.8,349.2 L1171.6,347.6 L1172.4,350.8 L1173.2,348.5 L1174.0,352.3 L1174.8,350.0 L1175.6,353.2 L1176.4,352.7 L1177.2,357.5 L1178.0,351.3 L1178.8,357.6 L1179.6,355.7 L1180.4,357.7 L1181.2,354.1 L1182.0,363.4 L1182.8,356.6 L1183.6,363.5 L1184.4,358.0 L1185.2,366.3 L1186.0,361.0 L1186.8,367.9 L1187.6,362.6 L1188.4,368.6 L1189.2,363.7 L1190.0,369.4 L1190.8,364.2 L1191.6,372.5 L1192.4,367.0 L1193.2,375.8 L1194.0,364.1 L1194.8,374.9 L1195.6,382.7 L1196.4,376.8 L1197.2,366.8 L1198.0,379.6 L1198.8,370.4 L1199.6,373.6 L1200.4,369.5 L1201.2,382.8 L1202.0,368.5 L1202.8,381.8 L1203.6,367.2 L1204.4,380.9 L1205.2,369.2 L1206.0,378.7 L1206.8,370.2 L1207.6,382.9 L1208.4,392.2 L1209.2,383.1 L1210.0,398.4 L1210.8,387.1 L1211.6,379.2 L1212.4,388.7 L1213.2,405.1 L1214.0,394.6 L1214.8,377.8 L1215.6,394.0 L1216.4,377.8 L1217.2,388.5 L1218.0,379.5 L1218.8,388.7 L1219.6,377.9 L1220.4,397.5 L1221.2,380.3 L1222.0,390.8 L1222.8,384.6 L1223.6,391.7 L1224.4,380.9 L1225.2,397.5 L1226.0,387.9 L1226.8,394.6 L1227.6,383.6 L1228.4,402.4 L1229.2,383.9 L1230.0,403.0 L1230.8,382.7 L1231.6,394.9 L1232.4,389.4 L1233.2,411.2 L1234.0,384.7 L1234.8,395.5 L1235.6,388.6 L1236.4,403.7 L1237.2,384.8 L1238.0,403.0 L1238.8,389.5 L1239.6,405.2 L1240.4,387.9 L1241.2,402.5 L1242.0,388.1 L1242.8,404.1 L1243.6,383.9 L1244.4,396.2 L1245.2,384.6 L1246.0,399.8 L1246.8,387.7 L1247.6,406.2 L1248.4,385.1 L1249.2,400.3 L1250.0,391.9 L1250.8,401.6 L1251.6,388.9 L1252.4,396.6 L1253.2,386.9 L1254.0,397.6 L1254.8,384.2 L1255.6,399.6 L1256.4,385.4 L1257.2,403.6 L1258.0,415.6 L1258.8,407.1 L1259.6,387.6 L1260.4,402.3 L1261.2,384.2 L1262.0,404.1 L1262.8,414.7 L1263.6,401.0 L1264.4,387.4 L1265.2,394.7 L1266.0,410.5 L1266.8,404.9 L1267.6,388.4 L1268.4,403.5 L1269.2,388.3 L1270.0,404.5 L1270.8,388.7 L1271.6,416.4 L1272.4,391.3 L1273.2,401.1 L1274.0,384.7 L1274.8,409.8 L1275.6,385.2 L1276.4,404.4 L1277.2,389.4 L1278.0,401.2 L1278.8,387.8 L1279.6,404.5 L1280.4,383.9 L1281.2,402.1 L1282.0,416.2 L1282.8,401.6 L1283.6,384.8 L1284.4,401.5 L1285.2,388.9 L1286.0,397.1 L1286.8,386.5 L1287.6,394.8 L1288.4,384.3 L1289.2,405.3 L1290.0,384.7 L1290.8,404.2 L1291.6,387.5 L1292.4,404.3 L1293.2,391.4 L1294.0,395.2 L1294.8,391.2 L1295.6,396.6 L1296.4,388.4 L1297.2,394.6 L1298.0,382.8 L1298.8,400.0 L1299.6,390.5 L1300.4,396.7 L1301.2,385.4 L1302.0,404.2 L1302.8,387.3 L1303.6,400.1 L1304.4,390.0 L1305.2,395.8 L1306.0,390.4 L1306.8,410.5 L1307.6,387.0 L1308.4,400.1 L1309.2,391.5 L1310.0,397.3 L1310.8,386.6 L1311.6,396.7 L1312.4,386.7 L1313.2,399.7 L1314.0,385.8 L1314.8,405.2 L1315.6,385.9 L1316.4,398.3 L1317.2,391.0 L1318.0,401.0 L1318.8,389.3 L1319.6,400.9 L1320.4,392.8 L1321.2,398.1 L1322.0,391.6 L1322.8,401.8 L1323.6,388.5 L1324.4,396.8 L1325.2,389.5 L1326.0,406.0 L1326.8,392.2 L1327.6,412.3 L1328.4,392.6 L1329.2,407.0 L1330.0,386.6 L1330.8,405.2 L1331.6,392.6 L1332.4,399.9 L1333.2,417.2 L1334.0,400.1 L1334.8,390.8 L1335.6,405.6 L1336.4,412.3 L1337.2,403.6 L1338.0,391.5 L1338.8,409.0 L1339.6,393.2 L1340.4,405.1 L1341.2,415.8 L1342.0,405.8 L1342.8,386.9 L1343.6,406.1 L1344.4,389.1 L1345.2,408.2 L1346.0,392.7 L1346.8,404.9 L1347.6,394.2 L1348.4,403.9 L1349.2,418.1 L1350.0,408.4 L1350.8,389.9 L1351.6,402.4 L1352.4,409.8 L1353.2,398.6 L1354.0,390.5 L1354.8,404.5 L1355.6,392.8 L1356.4,404.7 L1357.2,392.3 L1358.0,409.6 L1358.8,390.2 L1359.6,404.3 L1360.4,395.3 L1361.2,406.4 L1362.0,410.2 L1362.8,414.1 L1363.6,392.8 L1364.4,400.8 L1365.2,387.1 L1366.0,405.6 L1366.8,389.6 L1367.6,400.9 L1368.4,393.6 L1369.2,412.6 L1370.0,395.6 L1370.8,407.9 L1371.6,394.0 L1372.4,406.3 L1373.2,393.8 L1374.0,407.0 L1374.8,395.9 L1375.6,410.0 L1376.4,392.8 L1377.2,401.6 L1378.0,394.1 L1378.8,401.3 L1379.6,396.2 L1380.4,405.9 L1381.2,395.8 L1382.0,402.4 L1382.8,395.7 L1383.6,411.4 L1384.4,393.5 L1385.2,409.7 L1386.0,394.6 L1386.8,408.9 L1387.6,394.6 L1388.4,418.1 L1389.2,394.8 L1390.0,410.0 L1390.8,393.2 L1391.6,409.4 L1392.4,395.0 L1393.2,407.6 L1394.0,393.3 L1394.8,401.8 L1395.6,390.5 L1396.4,403.2 L1397.2,420.3 L1398.0,409.6 L1398.8,412.3 L1399.6,403.4 L1400.4,392.0 L1401.2,404.2 L1402.0,392.4 L1402.8,408.4 L1403.6,393.0 L1404.4,400.0 L1405.2,392.9 L1406.0,416.8 L1406.8,394.8 L1407.6,408.4 L1408.4,389.4 L1409.2,405.7 L1410.0,393.5 L1410.8,409.4 L1411.6,389.3 L1412.4,405.1 L1413.2,393.2 L1414.0,409.5 L1414.8,392.4 L1415.6,404.3 L1416.4,395.0 L1417.2,409.4 L1418.0,388.2 L1418.8,409.3 L1419.6,389.5 L1420.4,402.0 L1421.2,394.7 L1422.0,408.5 L1422.8,393.9 L1423.6,407.9 L1424.4,388.3 L1425.2,409.1 L1426.0,392.1 L1426.8,399.5 L1427.6,393.9 L1428.4,404.4 L1429.2,392.2 L1430.0,400.8 L1430.8,394.0 L1431.6,409.8 L1432.4,389.2 L1433.2,400.4 L1434.0,394.1 L1434.8,403.1 L1435.6,390.5 L1436.4,407.1 L1437.2,395.5 L1438.0,400.5 L1438.8,390.6 L1439.6,407.0 L1440.4,389.3 L1441.2,404.4 L1442.0,388.8 L1442.8,413.8 L1443.6,387.9 L1444.4,401.3 L1445.2,389.0 L1446.0,402.8 L1446.8,393.1 L1447.6,416.6 L1448.4,419.9 L1449.2,407.9 L1450.0,411.4 L1450.8,404.9 L1451.6,388.0 L1452.4,400.6 L1453.2,389.1 L1454.0,403.7 L1454.8,392.5 L1455.6,403.6 L1456.4,423.4 L1457.2,401.5 L1458.0,394.2 L1458.8,412.3 L1459.6,390.5 L1460.4,401.7 L1461.2,394.4 L1462.0,409.9 L1462.8,389.6 L1463.6,410.6 L1464.4,390.9 L1465.2,401.1 L1466.0,395.0 L1466.8,404.1 L1467.6,389.9 L1468.4,405.0 L1469.2,393.5 L1470.0,401.5 L1470.8,394.4 L1471.6,399.7 L1472.4,391.4 L1473.2,403.6 L1474.0,390.3 L1474.8,400.0 L1475.6,390.0 L1476.4,405.8 L1477.2,394.7 L1478.0,408.0 L1478.8,388.7 L1479.6,399.5 L1480.4,418.2 L1481.2,404.0 L1482.0,394.3" fill="none" stroke="#c23a44" stroke-width="3.0" stroke-linejoin="round" stroke-linecap="round" />
<path d="M803.0,277.7 L804.2,272.8 L805.5,276.9 L806.8,274.4 L808.0,279.1 L809.2,272.7 L810.5,276.7 L811.8,271.2 L813.0,275.0 L814.2,273.3 L815.5,278.2 L816.8,270.3 L818.0,278.3 L819.2,271.8 L820.5,275.6 L821.8,270.0 L823.0,274.3 L824.2,270.1 L825.5,275.6 L826.8,266.8 L828.0,273.5 L829.2,269.1 L830.5,272.1 L831.8,267.9 L833.0,270.3 L834.2,265.5 L835.5,268.8 L836.8,265.9 L838.0,268.1 L839.2,265.6 L840.5,270.7 L841.8,262.2 L843.0,265.5 L844.2,260.9 L845.5,267.2 L846.8,261.4 L848.0,267.4 L849.2,261.1 L850.5,264.0 L851.8,260.3 L853.0,264.0 L854.2,259.0 L855.5,262.8 L856.8,257.3 L858.0,260.5 L859.2,256.8 L860.5,258.2 L861.8,255.7 L863.0,258.4 L864.2,253.5 L865.5,253.3 L866.8,251.5 L868.0,252.6 L869.2,254.7 L870.5,256.5 L871.8,252.3 L873.0,247.5 L874.2,241.2 L875.5,239.9 L876.8,239.9 L878.0,246.1 L879.2,249.7 L880.5,253.5 L881.8,243.1 L883.0,235.6 L884.2,229.9 L885.5,242.7 L886.8,244.6 L888.0,233.7 L888.4,229.8 L888.7,225.8 L889.1,221.8 L889.4,217.9 L889.8,214.1 L890.1,210.6 L890.5,207.7 L890.8,205.7 L891.2,204.7 L891.5,204.4 L891.9,204.4 L892.2,203.9 L892.6,202.1 L892.9,197.7 L893.3,188.4 L893.6,173.7 L894.0,153.4 L894.3,131.3 L894.7,112.6 L895.0,95.6 L895.4,79.0 L895.7,64.0 L896.1,51.2 L896.4,41.1 L896.8,36.5 L897.1,38.7 L897.5,46.8 L897.8,60.0 L898.2,84.6 L898.5,112.0 L898.9,136.9 L899.2,155.5 L899.6,168.8 L899.9,173.4 L900.3,174.9 L900.6,174.4 L901.0,172.3 L901.3,168.6 L901.7,163.1 L902.0,156.8 L902.4,150.4 L902.7,144.4 L903.1,139.4 L903.4,135.3 L903.8,131.7 L904.1,128.5 L904.5,125.7 L904.8,123.3 L905.2,121.2 L905.5,119.4 L905.9,118.0 L906.2,117.0 L906.6,116.3 L906.9,116.0 L907.3,116.1 L907.6,116.6 L908.0,117.4 L908.3,118.6 L908.7,120.1 L909.0,122.0 L909.4,124.3 L909.7,126.8 L910.1,129.7 L910.4,133.0 L910.8,136.8 L911.1,142.1 L911.5,150.5 L911.8,160.4 L912.2,167.3 L912.5,172.2 L912.9,176.7 L913.2,180.9 L913.6,185.1 L913.9,189.4 L914.3,194.3 L914.6,199.9 L915.0,205.9 L915.3,211.3 L915.7,214.9 L916.0,215.9 L916.4,214.4 L916.7,211.4 L917.1,207.8 L917.4,204.8 L917.8,202.4 L918.1,199.9 L918.5,198.0 L918.8,197.2 L919.2,197.7 L919.5,199.2 L919.9,201.4 L920.2,204.1 L920.6,207.0 L920.9,209.9 L921.3,212.9 L921.6,215.9 L922.0,219.0 L922.3,222.4 L922.7,225.9 L923.0,229.4 L923.4,232.8 L923.7,236.2 L924.1,239.4 L924.4,242.3 L924.8,244.7 L925.1,246.1 L925.5,246.5 L925.8,245.0 L926.2,242.0 L926.5,238.3 L926.9,235.7 L927.2,233.4 L927.6,231.0 L927.9,229.6 L928.3,229.9 L928.6,231.7 L929.0,234.5 L929.3,237.9 L929.7,241.5 L930.0,245.1 L930.4,248.6 L930.7,251.9 L931.1,255.6 L931.4,259.5 L931.8,262.8 L932.1,265.1 L932.5,266.0 L932.8,265.3 L933.2,263.6 L933.5,261.3 L933.9,258.8 L934.2,256.3 L934.6,254.3 L934.9,252.5 L935.3,250.7 L935.6,249.0 L936.0,247.8 L936.3,247.3 L936.7,247.7 L937.0,248.9 L937.4,250.9 L937.7,253.3 L938.1,255.8 L938.4,258.3 L938.8,260.6 L939.1,262.5 L939.5,264.2 L939.8,266.0 L940.2,267.6 L940.5,269.1 L940.9,270.4 L941.2,271.4 L941.6,271.9 L941.9,271.5 L942.3,270.0 L942.6,267.7 L943.0,265.0 L943.3,263.0 L943.7,261.5 L944.0,260.1 L944.4,259.1 L944.7,258.9 L945.1,259.5 L945.4,260.9 L945.8,262.8 L946.1,265.0 L946.5,267.1 L946.8,269.0 L947.2,270.6 L947.5,272.1 L947.9,273.5 L948.2,274.7 L948.6,275.5 L948.9,275.9 L949.3,275.6 L949.6,274.5 L950.0,273.0 L950.3,271.2 L950.7,269.6 L951.0,268.2 L951.4,266.7 L951.7,265.4 L952.1,264.7 L952.4,265.0 L952.8,266.4 L953.1,268.5 L953.5,270.9 L953.8,273.5 L954.2,275.9 L954.5,278.0 L954.9,279.9 L955.2,281.9 L955.6,283.8 L955.9,285.2 L956.3,285.9 L956.6,285.8 L957.0,284.5 L957.3,282.5 L957.7,280.1 L958.0,277.6 L958.4,275.3 L958.7,273.5 L959.1,271.7 L959.4,269.8 L959.8,268.3 L960.1,267.6 L960.5,267.6 L960.8,268.4 L961.2,270.1 L961.5,272.6 L961.9,275.4 L962.2,279.3 L963.0,283.4 L963.8,290.6 L964.6,287.3 L965.4,295.2 L966.2,288.7 L967.0,290.9 L967.8,287.4 L968.6,290.4 L969.4,285.2 L970.2,297.7 L971.0,284.2 L971.8,290.7 L972.6,286.1 L973.4,292.7 L974.2,284.0 L975.0,291.0 L975.8,284.1 L976.6,288.1 L977.4,282.2 L978.2,284.1 L979.0,279.1 L979.8,287.2 L980.6,277.3 L981.4,285.6 L982.2,275.2 L983.0,286.6 L983.8,277.0 L984.6,279.8 L985.4,274.8 L986.2,279.7 L987.0,271.3 L987.8,277.9 L988.6,284.8 L989.4,275.8 L990.2,272.0 L991.0,277.1 L991.8,269.6 L992.6,283.6 L993.4,272.0 L994.2,274.0 L995.0,271.4 L995.8,283.3 L996.6,269.4 L997.4,274.2 L998.2,269.0 L999.0,279.3 L999.8,269.7 L1000.6,278.4 L1001.4,273.4 L1002.2,275.8 L1003.0,272.5 L1003.8,278.4 L1004.6,273.2 L1005.4,279.8 L1006.2,273.9 L1007.0,280.6 L1007.8,276.1 L1008.6,285.0 L1009.4,276.6 L1010.2,281.9 L1011.0,278.8 L1011.8,286.9 L1012.6,276.9 L1013.4,283.6 L1014.2,294.8 L1015.0,284.3 L1015.8,279.6 L1016.6,289.0 L1017.4,294.3 L1018.2,289.2 L1019.0,285.0 L1019.8,289.7 L1020.6,284.3 L1021.4,290.2 L1022.2,285.4 L1023.0,295.5 L1023.8,288.6 L1024.6,293.1 L1025.4,286.6 L1026.2,290.6 L1027.0,286.9 L1027.8,286.9 L1028.6,281.8 L1029.4,283.5 L1030.2,291.2 L1031.0,285.2 L1031.8,275.5 L1032.6,283.9 L1033.4,273.1 L1034.2,280.9 L1035.0,274.0 L1035.8,276.5 L1036.6,270.1 L1037.4,275.0 L1038.2,267.4 L1039.0,273.9 L1039.8,265.2 L1040.6,270.2 L1041.4,265.5 L1042.2,268.4 L1043.0,260.4 L1043.8,264.2 L1044.6,258.6 L1045.4,262.3 L1046.2,256.9 L1047.0,265.3 L1047.8,258.3 L1048.6,261.7 L1049.4,268.2 L1050.2,262.0 L1051.0,255.3 L1051.8,267.8 L1052.6,256.3 L1053.4,263.7 L1054.2,266.9 L1055.0,260.5 L1055.8,255.2 L1056.6,261.0 L1057.4,255.7 L1058.2,261.5 L1059.0,259.7 L1059.8,266.3 L1060.6,260.2 L1061.4,263.4 L1062.2,259.6 L1063.0,266.8 L1063.8,261.0 L1064.6,266.4 L1065.4,261.3 L1066.2,267.8 L1067.0,265.0 L1067.8,269.3 L1068.6,280.9 L1069.4,273.1 L1070.2,267.8 L1071.0,272.7 L1071.8,271.9 L1072.6,276.8 L1073.4,271.3 L1074.2,282.8 L1075.0,276.4 L1075.8,282.7 L1076.6,276.9 L1077.4,287.3 L1078.2,280.7 L1079.0,285.2 L1079.8,276.4 L1080.6,280.7 L1081.4,276.6 L1082.2,278.4 L1083.0,272.3 L1083.8,272.2 L1084.6,277.1 L1085.4,267.6 L1086.2,264.0 L1087.0,263.7 L1087.8,260.5 L1088.6,258.8 L1089.4,255.3 L1090.2,255.2 L1091.0,250.8 L1091.8,250.2 L1092.6,249.5 L1093.4,246.3 L1094.2,242.7 L1095.0,244.5 L1095.8,240.0 L1096.6,240.2 L1097.4,236.2 L1098.2,236.0 L1099.0,233.7 L1099.8,233.9 L1100.6,231.1 L1101.4,231.8 L1102.2,228.1 L1103.0,228.4 L1103.8,226.5 L1104.6,226.7 L1105.4,224.0 L1106.2,223.5 L1107.0,220.8 L1107.8,221.6 L1108.6,219.2 L1109.4,219.0 L1110.2,216.6 L1111.0,216.7 L1111.8,214.4 L1112.6,215.8 L1113.4,212.8 L1114.2,213.7 L1115.0,211.3 L1115.8,211.6 L1116.6,209.5 L1117.4,211.3 L1118.2,209.2 L1119.0,209.3 L1119.8,207.9 L1120.6,208.9 L1121.4,206.8 L1122.2,208.0 L1123.0,206.3 L1123.8,207.0 L1124.6,204.9 L1125.4,206.4 L1126.2,204.4 L1127.0,205.7 L1127.8,204.8 L1128.6,205.3 L1129.4,203.5 L1130.2,205.2 L1131.0,204.4 L1131.8,205.4 L1132.6,204.0 L1133.4,204.7 L1134.2,204.2 L1135.0,204.9 L1135.8,204.7 L1136.6,205.4 L1137.4,204.3 L1138.2,207.1 L1139.0,205.2 L1139.8,206.6 L1140.6,206.0 L1141.4,208.5 L1142.2,207.2 L1143.0,209.1 L1143.8,207.5 L1144.6,210.2 L1145.4,208.6 L1146.2,211.1 L1147.0,209.9 L1147.8,212.6 L1148.6,211.5 L1149.4,213.6 L1150.2,213.5 L1151.0,215.6 L1151.8,215.2 L1152.6,217.8 L1153.4,216.6 L1154.2,219.4 L1155.0,219.2 L1155.8,221.1 L1156.6,221.3 L1157.4,224.7 L1158.2,223.8 L1159.0,226.9 L1159.8,226.1 L1160.6,228.5 L1161.4,228.1 L1162.2,232.4 L1163.0,233.2 L1163.8,234.2 L1164.6,233.4 L1165.4,235.9 L1166.2,235.9 L1167.0,239.1 L1167.8,238.7 L1168.6,242.1 L1169.4,241.0 L1170.2,244.2 L1171.0,244.4 L1171.8,246.7 L1172.6,247.2 L1173.4,249.3 L1174.2,249.4 L1175.0,252.0 L1175.8,252.5 L1176.6,257.1 L1177.4,255.6 L1178.2,258.4 L1179.0,258.3 L1179.8,260.8 L1180.6,261.3 L1181.4,265.4 L1182.2,264.9 L1183.0,269.1 L1183.8,271.8 L1184.6,272.1 L1185.4,273.2 L1186.2,276.1 L1187.0,276.9 L1187.8,279.9 L1188.6,280.0 L1189.4,284.1 L1190.2,285.0 L1191.0,291.5 L1191.8,289.1 L1192.6,295.1 L1193.4,289.6 L1194.2,298.7 L1195.0,294.4 L1195.8,304.1 L1196.6,296.0 L1197.4,310.3 L1198.2,304.2 L1199.0,314.2 L1199.8,303.6 L1200.6,317.7 L1201.4,301.2 L1202.2,311.3 L1203.0,304.6 L1203.8,310.8 L1204.6,302.0 L1205.4,311.8 L1206.2,298.9 L1207.0,306.6 L1207.8,297.4 L1208.6,305.7 L1209.4,296.0 L1210.2,306.1 L1211.0,295.2 L1211.8,319.8 L1212.6,297.7 L1213.4,309.6 L1214.2,289.7 L1215.0,303.3 L1215.8,292.2 L1216.6,308.4 L1217.4,293.6 L1218.2,299.9 L1219.0,291.6 L1219.8,299.8 L1220.6,294.6 L1221.4,303.1 L1222.2,295.4 L1223.0,306.8 L1223.8,295.7 L1224.6,306.9 L1225.4,309.6 L1226.2,317.2 L1227.0,296.6 L1227.8,307.2 L1228.6,295.4 L1229.4,306.5 L1230.2,297.0 L1231.0,308.8 L1231.8,320.2 L1232.6,303.8 L1233.4,298.2 L1234.2,305.2 L1235.0,301.1 L1235.8,308.1 L1236.6,297.7 L1237.4,319.7 L1238.2,299.4 L1239.0,306.6 L1239.8,301.0 L1240.6,310.1 L1241.4,304.6 L1242.2,314.2 L1243.0,300.4 L1243.8,312.9 L1244.6,306.1 L1245.4,316.3 L1246.2,302.9 L1247.0,314.1 L1247.8,306.8 L1248.6,320.6 L1249.4,310.6 L1250.2,318.5 L1251.0,309.9 L1251.8,322.3 L1252.6,312.3 L1253.4,317.3 L1254.2,308.7 L1255.0,316.6 L1255.8,309.3 L1256.6,325.0 L1257.4,311.3 L1258.2,316.8 L1259.0,308.8 L1259.8,317.0 L1260.6,308.3 L1261.4,322.7 L1262.2,309.9 L1263.0,323.6 L1263.8,309.8 L1264.6,317.6 L1265.4,306.4 L1266.2,320.5 L1267.0,306.3 L1267.8,330.9 L1268.6,311.3 L1269.4,314.8 L1270.2,305.5 L1271.0,316.7 L1271.8,307.6 L1272.6,314.1 L1273.4,304.7 L1274.2,318.0 L1275.0,306.4 L1275.8,316.3 L1276.6,306.0 L1277.4,319.3 L1278.2,321.9 L1279.0,312.2 L1279.8,303.0 L1280.6,316.5 L1281.4,303.1 L1282.2,314.4 L1283.0,300.7 L1283.8,317.2 L1284.6,300.8 L1285.4,314.4 L1286.2,298.5 L1287.0,310.0 L1287.8,297.3 L1288.6,309.1 L1289.4,296.3 L1290.2,327.7 L1291.0,302.1 L1291.8,317.1 L1292.6,298.1 L1293.4,313.7 L1294.2,297.5 L1295.0,310.4 L1295.8,302.9 L1296.6,308.0 L1297.4,297.4 L1298.2,318.9 L1299.0,299.2 L1299.8,310.5 L1300.6,298.9 L1301.4,309.9 L1302.2,295.5 L1303.0,312.1 L1303.8,295.5 L1304.6,309.8 L1305.4,298.1 L1306.2,306.5 L1307.0,299.3 L1307.8,314.7 L1308.6,296.2 L1309.4,311.9 L1310.2,302.9 L1311.0,308.3 L1311.8,325.1 L1312.6,311.2 L1313.4,303.7 L1314.2,313.2 L1315.0,298.9 L1315.8,309.7 L1316.6,304.6 L1317.4,308.4 L1318.2,301.3 L1319.0,307.8 L1319.8,300.1 L1320.6,315.8 L1321.4,305.7 L1322.2,315.0 L1323.0,299.2 L1323.8,315.7 L1324.6,306.6 L1325.4,312.3 L1326.2,326.1 L1327.0,316.4 L1327.8,307.5 L1328.6,316.0 L1329.4,306.3 L1330.2,327.0 L1331.0,304.4 L1331.8,312.8 L1332.6,308.0 L1333.4,318.1 L1334.2,305.9 L1335.0,317.0 L1335.8,306.0 L1336.6,319.4 L1337.4,303.3 L1338.2,317.7 L1339.0,306.4 L1339.8,321.5 L1340.6,306.2 L1341.4,318.9 L1342.2,306.6 L1343.0,316.0 L1343.8,304.2 L1344.6,321.7 L1345.4,307.7 L1346.2,321.9 L1347.0,310.6 L1347.8,316.6 L1348.6,308.8 L1349.4,323.7 L1350.2,310.3 L1351.0,321.7 L1351.8,307.4 L1352.6,317.1 L1353.4,309.7 L1354.2,318.6 L1355.0,304.7 L1355.8,317.2 L1356.6,311.0 L1357.4,315.8 L1358.2,305.5 L1359.0,322.1 L1359.8,311.1 L1360.6,319.8 L1361.4,309.5 L1362.2,328.3 L1363.0,310.5 L1363.8,323.1 L1364.6,310.8 L1365.4,319.0 L1366.2,305.6 L1367.0,318.6 L1367.8,306.7 L1368.6,317.9 L1369.4,305.6 L1370.2,316.4 L1371.0,311.3 L1371.8,316.8 L1372.6,308.4 L1373.4,317.5 L1374.2,306.5 L1375.0,315.0 L1375.8,306.2 L1376.6,316.6 L1377.4,305.2 L1378.2,319.1 L1379.0,309.5 L1379.8,319.6 L1380.6,305.5 L1381.4,323.3 L1382.2,307.9 L1383.0,323.1 L1383.8,305.0 L1384.6,317.5 L1385.4,309.6 L1386.2,319.2 L1387.0,306.5 L1387.8,323.2 L1388.6,305.3 L1389.4,315.6 L1390.2,304.3 L1391.0,317.5 L1391.8,310.7 L1392.6,319.3 L1393.4,311.1 L1394.2,316.8 L1395.0,308.2 L1395.8,323.0 L1396.6,304.7 L1397.4,319.0 L1398.2,324.5 L1399.0,320.0 L1399.8,306.9 L1400.6,318.0 L1401.4,304.2 L1402.2,320.8 L1403.0,306.9 L1403.8,322.9 L1404.6,304.6 L1405.4,323.1 L1406.2,305.5 L1407.0,319.7 L1407.8,310.2 L1408.6,314.7 L1409.4,311.1 L1410.2,320.0 L1411.0,306.1 L1411.8,317.4 L1412.6,310.3 L1413.4,321.1 L1414.2,328.3 L1415.0,320.4 L1415.8,309.6 L1416.6,321.3 L1417.4,329.3 L1418.2,316.9 L1419.0,326.9 L1419.8,323.9 L1420.6,306.9 L1421.4,315.6 L1422.2,326.9 L1423.0,343.0 L1423.8,304.4 L1424.6,322.8 L1425.4,306.0 L1426.2,320.1 L1427.0,305.4 L1427.8,316.1 L1428.6,304.4 L1429.4,319.9 L1430.2,306.7 L1431.0,321.6 L1431.8,310.9 L1432.6,322.8 L1433.4,309.8 L1434.2,315.9 L1435.0,305.3 L1435.8,321.5 L1436.6,309.2 L1437.4,319.6 L1438.2,304.2 L1439.0,316.4 L1439.8,306.2 L1440.6,317.0 L1441.4,310.2 L1442.2,323.9 L1443.0,308.2 L1443.8,317.7 L1444.6,324.3 L1445.4,331.4 L1446.2,308.4 L1447.0,321.5 L1447.8,307.6 L1448.6,318.4 L1449.4,307.6 L1450.2,318.3 L1451.0,305.8 L1451.8,315.8 L1452.6,308.4 L1453.4,319.6 L1454.2,306.8 L1455.0,325.8 L1455.8,310.9 L1456.6,318.8 L1457.4,306.3 L1458.2,321.1 L1459.0,304.0 L1459.8,319.9 L1460.6,308.5 L1461.4,321.9 L1462.2,304.8 L1463.0,319.3 L1463.8,309.0 L1464.6,322.7 L1465.4,305.7 L1466.2,320.4 L1467.0,305.5 L1467.8,322.7 L1468.6,305.5 L1469.4,318.6 L1470.2,309.5 L1471.0,323.4 L1471.8,310.6 L1472.6,323.4 L1473.4,311.8 L1474.2,319.4 L1475.0,307.5 L1475.8,324.1 L1476.6,330.7 L1477.4,317.8 L1478.2,306.8 L1479.0,318.2 L1479.8,308.4 L1480.6,314.2 L1481.4,310.1 L1482.2,316.3" fill="none" stroke="#2e4088" stroke-width="3.0" stroke-linejoin="round" stroke-linecap="round" />
<path d="M803.0,442.7 L804.2,435.9 L805.5,442.9 L806.8,438.8 L808.0,443.5 L809.2,439.1 L810.5,440.8 L811.8,449.4 L813.0,445.0 L814.2,436.9 L815.5,440.2 L816.8,438.8 L818.0,446.6 L819.2,437.0 L820.5,441.9 L821.8,436.2 L823.0,440.9 L824.2,433.5 L825.5,441.9 L826.8,435.2 L828.0,438.3 L829.2,432.5 L830.5,440.0 L831.8,430.8 L833.0,434.9 L834.2,430.0 L835.5,438.7 L836.8,432.3 L838.0,436.8 L839.2,431.4 L840.5,437.0 L841.8,430.6 L843.0,440.0 L844.2,429.9 L845.5,433.5 L846.8,427.4 L848.0,434.1 L849.2,428.3 L850.5,432.0 L851.8,426.5 L853.0,434.6 L854.2,427.6 L855.5,433.0 L856.8,424.8 L858.0,430.5 L859.2,426.6 L860.5,428.6 L861.8,424.4 L863.0,429.8 L864.2,423.4 L865.5,427.5 L866.8,420.0 L868.0,424.0 L869.2,418.1 L870.5,422.1 L871.8,415.5 L873.0,423.6 L874.2,414.8 L875.5,426.1 L876.8,414.7 L878.0,416.5 L879.2,414.4 L880.5,413.2 L881.8,408.5 L883.0,404.9 L884.2,398.4 L885.5,397.2 L886.8,395.8 L888.0,403.2 L888.4,405.9 L888.7,408.1 L889.1,408.9 L889.4,408.4 L889.8,405.8 L890.1,401.8 L890.5,398.4 L890.8,396.4 L891.2,394.9 L891.5,393.5 L891.9,391.6 L892.2,388.7 L892.6,384.2 L892.9,378.4 L893.3,371.6 L893.6,363.4 L894.0,353.1 L894.3,340.0 L894.7,320.8 L895.0,295.9 L895.4,268.3 L895.7,242.8 L896.1,218.3 L896.4,205.0 L896.8,219.3 L897.1,243.0 L897.5,265.9 L897.8,288.1 L898.2,307.7 L898.5,323.1 L898.9,332.8 L899.2,339.7 L899.6,344.8 L899.9,349.2 L900.3,352.8 L900.6,354.0 L901.0,352.3 L901.3,348.5 L901.7,343.0 L902.0,336.9 L902.4,330.7 L902.7,324.7 L903.1,319.3 L903.4,314.3 L903.8,309.3 L904.1,304.6 L904.5,300.4 L904.8,296.8 L905.2,294.0 L905.5,292.0 L905.9,290.6 L906.2,289.7 L906.6,289.2 L906.9,289.0 L907.3,289.0 L907.6,289.0 L908.0,289.4 L908.3,290.3 L908.7,292.1 L909.0,295.0 L909.4,299.3 L909.7,304.7 L910.1,311.0 L910.4,317.9 L910.8,324.9 L911.1,332.1 L911.5,339.6 L911.8,347.6 L912.2,355.8 L912.5,364.0 L912.9,371.8 L913.2,379.4 L913.6,386.6 L913.9,390.8 L914.3,391.4 L914.6,389.0 L915.0,385.2 L915.3,381.1 L915.7,377.4 L916.0,374.2 L916.4,370.8 L916.7,367.6 L917.1,365.9 L917.4,365.9 L917.8,367.3 L918.1,370.1 L918.5,373.6 L918.8,377.6 L919.2,381.8 L919.5,386.0 L919.9,390.2 L920.2,394.5 L920.6,399.2 L920.9,404.2 L921.3,409.4 L921.6,414.4 L922.0,419.1 L922.3,423.1 L922.7,426.1 L923.0,427.1 L923.4,425.8 L923.7,422.2 L924.1,417.0 L924.4,412.1 L924.8,408.7 L925.1,405.5 L925.5,402.4 L925.8,400.3 L926.2,399.8 L926.5,401.4 L926.9,404.9 L927.2,409.7 L927.6,415.1 L927.9,420.6 L928.3,425.8 L928.6,431.4 L929.0,437.8 L929.3,443.6 L929.7,447.5 L930.0,448.7 L930.4,446.9 L930.7,443.0 L931.1,438.2 L931.4,433.3 L931.8,429.5 L932.1,426.0 L932.5,422.4 L932.8,419.5 L933.2,418.1 L933.5,418.6 L933.9,421.2 L934.2,425.3 L934.6,430.0 L934.9,435.0 L935.3,439.4 L935.6,443.6 L936.0,448.1 L936.3,452.4 L936.7,455.5 L937.0,456.7 L937.4,455.5 L937.7,452.4 L938.1,448.3 L938.4,444.1 L938.8,440.5 L939.1,437.3 L939.5,433.8 L939.8,430.6 L940.2,428.1 L940.5,427.1 L940.9,428.2 L941.2,431.2 L941.6,435.5 L941.9,440.3 L942.3,444.4 L942.6,448.3 L943.0,452.6 L943.3,456.5 L943.7,459.2 L944.0,460.0 L944.4,458.5 L944.7,455.5 L945.1,451.5 L945.4,447.4 L945.8,443.5 L946.1,440.1 L946.5,436.4 L946.8,432.8 L947.2,429.8 L947.5,428.3 L947.9,428.7 L948.2,431.2 L948.6,435.1 L948.9,439.7 L949.3,444.1 L949.6,448.1 L950.0,452.0 L950.3,456.1 L950.7,459.6 L951.0,461.9 L951.4,462.6 L951.7,461.3 L952.1,458.8 L952.4,455.5 L952.8,451.9 L953.1,448.5 L953.5,445.6 L953.8,442.7 L954.2,439.5 L954.5,436.5 L954.9,434.0 L955.2,432.3 L955.6,432.2 L955.9,433.7 L956.3,436.6 L956.6,440.4 L957.0,444.4 L957.3,448.1 L957.7,451.3 L958.0,454.6 L958.4,457.9 L958.7,461.0 L959.1,463.3 L959.4,464.7 L959.8,464.7 L960.1,463.5 L960.5,461.3 L960.8,458.6 L961.2,455.7 L961.5,453.0 L961.9,450.9 L962.2,449.1 L962.6,447.4 L962.9,445.8 L963.3,449.3 L964.1,438.2 L964.9,444.4 L965.7,433.9 L966.5,449.6 L967.3,432.4 L968.1,441.3 L968.9,434.5 L969.7,442.5 L970.5,433.7 L971.3,449.1 L972.1,435.3 L972.9,445.8 L973.7,436.0 L974.5,447.2 L975.3,435.5 L976.1,448.4 L976.9,435.8 L977.7,452.1 L978.5,436.4 L979.3,446.1 L980.1,453.0 L980.9,447.7 L981.7,433.2 L982.5,449.5 L983.3,438.2 L984.1,449.6 L984.9,435.3 L985.7,445.7 L986.5,434.2 L987.3,442.6 L988.1,437.7 L988.9,445.4 L989.7,432.1 L990.5,451.9 L991.3,434.9 L992.1,440.9 L992.9,438.6 L993.7,454.6 L994.5,435.4 L995.3,447.6 L996.1,437.0 L996.9,440.3 L997.7,437.0 L998.5,446.3 L999.3,432.7 L1000.1,445.5 L1000.9,433.4 L1001.7,440.4 L1002.5,435.0 L1003.3,441.9 L1004.1,433.6 L1004.9,445.6 L1005.7,434.7 L1006.5,444.1 L1007.3,434.7 L1008.1,440.7 L1008.9,432.9 L1009.7,442.8 L1010.5,436.3 L1011.3,444.8 L1012.1,437.4 L1012.9,442.7 L1013.7,450.3 L1014.5,439.5 L1015.3,436.8 L1016.1,444.1 L1016.9,436.8 L1017.7,443.6 L1018.5,433.9 L1019.3,441.9 L1020.1,436.9 L1020.9,442.0 L1021.7,433.4 L1022.5,441.7 L1023.3,434.0 L1024.1,440.6 L1024.9,431.9 L1025.7,443.3 L1026.5,433.6 L1027.3,438.8 L1028.1,433.4 L1028.9,437.3 L1029.7,433.0 L1030.5,442.0 L1031.3,432.8 L1032.1,436.9 L1032.9,432.9 L1033.7,442.2 L1034.5,432.3 L1035.3,438.8 L1036.1,429.9 L1036.9,437.9 L1037.7,431.2 L1038.5,436.5 L1039.3,434.2 L1040.1,437.1 L1040.9,432.7 L1041.7,439.7 L1042.5,430.7 L1043.3,439.1 L1044.1,433.6 L1044.9,438.9 L1045.7,432.7 L1046.5,437.3 L1047.3,431.8 L1048.1,440.0 L1048.9,432.2 L1049.7,438.4 L1050.5,431.5 L1051.2,439.3 L1052.0,431.3 L1052.8,444.0 L1053.6,435.7 L1054.4,442.6 L1055.2,436.2 L1056.0,440.9 L1056.8,436.3 L1057.6,446.1 L1058.4,433.7 L1059.2,444.9 L1060.0,434.7 L1060.8,442.0 L1061.6,436.5 L1062.4,448.5 L1063.2,434.8 L1064.0,439.7 L1064.8,436.4 L1065.6,445.2 L1066.4,437.0 L1067.2,444.9 L1068.0,433.4 L1068.8,441.7 L1069.6,435.1 L1070.4,438.7 L1071.2,432.9 L1072.0,441.5 L1072.8,435.1 L1073.6,439.6 L1074.4,437.1 L1075.2,443.7 L1076.0,432.7 L1076.8,441.1 L1077.6,434.6 L1078.4,443.8 L1079.2,432.6 L1080.0,443.7 L1080.8,435.3 L1081.6,444.5 L1082.4,433.6 L1083.2,441.6 L1084.0,437.4 L1084.8,447.7 L1085.6,434.6 L1086.4,440.9 L1087.2,434.7 L1088.0,443.9 L1088.8,435.6 L1089.6,446.3 L1090.4,435.0 L1091.2,450.2 L1092.0,435.1 L1092.8,448.0 L1093.6,437.3 L1094.4,442.3 L1095.2,436.6 L1096.0,447.2 L1096.8,434.6 L1097.6,446.5 L1098.4,437.0 L1099.2,441.8 L1100.0,439.5 L1100.8,442.9 L1101.6,454.0 L1102.4,444.8 L1103.2,437.8 L1104.0,444.2 L1104.8,438.3 L1105.6,447.3 L1106.4,441.5 L1107.2,443.3 L1108.0,437.9 L1108.8,449.1 L1109.6,441.9 L1110.4,449.8 L1111.2,437.8 L1112.0,447.0 L1112.8,441.5 L1113.6,450.4 L1114.4,440.7 L1115.2,449.9 L1116.0,442.9 L1116.8,447.9 L1117.6,443.6 L1118.4,446.1 L1119.2,440.7 L1120.0,447.4 L1120.8,442.4 L1121.6,449.5 L1122.4,439.9 L1123.2,447.9 L1124.0,440.6 L1124.8,450.8 L1125.6,444.2 L1126.4,450.8 L1127.2,442.7 L1128.0,448.7 L1128.8,441.3 L1129.6,454.7 L1130.4,445.4 L1131.2,452.3 L1132.0,444.4 L1132.8,449.2 L1133.6,444.7 L1134.4,451.5 L1135.2,446.9 L1136.0,454.4 L1136.8,448.1 L1137.6,455.2 L1138.4,444.9 L1139.2,453.2 L1140.0,445.2 L1140.8,455.2 L1141.6,448.2 L1142.4,456.3 L1143.2,448.1 L1144.0,452.6 L1144.8,450.5 L1145.6,456.1 L1146.4,447.9 L1147.2,458.1 L1148.0,450.9 L1148.8,454.1 L1149.6,448.8 L1150.4,457.2 L1151.2,447.4 L1152.0,461.8 L1152.8,446.3 L1153.6,463.3 L1154.4,451.0 L1155.2,458.6 L1156.0,451.9 L1156.8,458.7 L1157.6,451.1 L1158.4,459.1 L1159.2,471.6 L1160.0,463.1 L1160.8,451.4 L1161.6,463.7 L1162.4,456.3 L1163.2,459.9 L1164.0,451.9 L1164.8,461.8 L1165.6,452.3 L1166.4,469.5 L1167.2,454.7 L1168.0,469.7 L1168.8,454.3 L1169.6,469.5 L1170.4,455.1 L1171.2,469.8 L1172.0,459.4 L1172.8,466.3 L1173.6,457.9 L1174.4,463.9 L1175.2,456.7 L1176.0,464.4 L1176.8,474.5 L1177.6,466.1 L1178.4,457.2 L1179.2,466.5 L1180.0,457.3 L1180.8,472.9 L1181.6,456.7 L1182.4,470.7 L1183.2,483.3 L1184.0,473.5 L1184.8,460.2 L1185.6,487.3 L1186.4,461.6 L1187.2,472.2 L1188.0,462.2 L1188.8,471.6 L1189.6,462.9 L1190.4,483.4 L1191.2,458.7 L1192.0,469.7 L1192.8,461.6 L1193.6,472.9 L1194.4,459.5 L1195.2,468.3 L1196.0,461.5 L1196.8,475.5 L1197.6,465.2 L1198.4,474.6 L1199.2,465.2 L1200.0,477.1 L1200.8,466.0 L1201.6,470.4 L1202.4,466.2 L1203.2,470.2 L1204.0,463.5 L1204.8,471.5 L1205.6,464.5 L1206.4,471.5 L1207.2,461.1 L1208.0,469.4 L1208.8,461.5 L1209.6,472.4 L1210.4,466.0 L1211.2,469.8 L1212.0,459.8 L1212.8,474.8 L1213.6,463.9 L1214.4,468.9 L1215.2,459.4 L1216.0,481.1 L1216.8,464.3 L1217.6,472.4 L1218.4,460.7 L1219.2,476.2 L1220.0,464.4 L1220.8,475.8 L1221.6,461.7 L1222.4,478.0 L1223.2,466.6 L1224.0,475.7 L1224.8,464.5 L1225.6,478.4 L1226.4,463.2 L1227.2,471.7 L1228.0,461.1 L1228.8,477.1 L1229.6,465.6 L1230.4,471.1 L1231.2,467.2 L1232.0,478.3 L1232.8,462.4 L1233.6,486.5 L1234.4,464.1 L1235.2,475.0 L1236.0,465.7 L1236.8,484.9 L1237.6,466.7 L1238.4,474.3 L1239.2,462.7 L1240.0,474.6 L1240.8,461.6 L1241.6,475.5 L1242.4,464.3 L1243.2,486.0 L1244.0,461.7 L1244.8,477.7 L1245.6,468.2 L1246.4,475.5 L1247.2,463.7 L1248.0,473.9 L1248.8,468.7 L1249.6,477.5 L1250.4,463.3 L1251.2,476.8 L1252.0,463.7 L1252.8,483.3 L1253.6,467.7 L1254.4,480.5 L1255.2,467.5 L1256.0,472.6 L1256.8,466.7 L1257.6,477.0 L1258.4,463.8 L1259.2,480.8 L1260.0,469.8 L1260.8,475.0 L1261.6,483.6 L1262.4,480.3 L1263.2,465.0 L1264.0,480.3 L1264.8,471.3 L1265.6,480.7 L1266.4,470.4 L1267.2,477.8 L1268.0,468.1 L1268.8,483.4 L1269.6,468.0 L1270.4,479.1 L1271.2,472.8 L1272.0,477.6 L1272.8,471.3 L1273.6,478.2 L1274.4,467.0 L1275.2,480.3 L1276.0,467.1 L1276.8,481.5 L1277.6,469.5 L1278.4,481.4 L1279.2,470.9 L1280.0,484.4 L1280.8,473.5 L1281.6,484.8 L1282.4,471.9 L1283.2,492.3 L1284.0,470.6 L1284.8,499.6 L1285.6,473.1 L1286.4,486.1 L1287.2,472.5 L1288.0,481.2 L1288.8,477.0 L1289.6,484.4 L1290.4,477.1 L1291.2,482.3 L1292.0,471.8 L1292.8,484.2 L1293.6,494.2 L1294.4,487.9 L1295.2,475.5 L1296.0,483.4 L1296.8,476.4 L1297.6,499.5 L1298.4,473.9 L1299.2,484.2 L1300.0,476.6 L1300.8,485.3 L1301.6,480.1 L1302.4,483.0 L1303.2,474.1 L1304.0,487.2 L1304.8,478.1 L1305.6,486.4 L1306.4,480.1 L1307.2,487.8 L1308.0,474.1 L1308.8,485.6 L1309.6,476.7 L1310.4,484.1 L1311.2,479.2 L1312.0,486.8 L1312.8,475.3 L1313.6,503.3 L1314.4,479.7 L1315.2,487.7 L1316.0,482.4 L1316.8,485.2 L1317.6,482.7 L1318.4,490.1 L1319.2,481.0 L1320.0,486.3 L1320.8,477.6 L1321.6,493.2 L1322.4,480.4 L1323.2,485.1 L1324.0,476.8 L1324.8,491.1 L1325.6,477.5 L1326.4,492.7 L1327.2,481.8 L1328.0,484.8 L1328.8,478.4 L1329.6,487.8 L1330.4,476.9 L1331.2,487.0 L1332.0,477.3 L1332.8,496.4 L1333.6,478.8 L1334.4,483.9 L1335.2,477.8 L1336.0,483.5 L1336.8,477.0 L1337.6,484.9 L1338.4,473.9 L1339.2,492.0 L1340.0,476.3 L1340.8,485.5 L1341.6,478.0 L1342.4,484.1 L1343.2,478.1 L1344.0,484.5 L1344.8,496.8 L1345.6,486.3 L1346.4,475.7 L1347.2,487.8 L1348.0,478.0 L1348.8,485.4 L1349.6,475.3 L1350.4,483.8 L1351.2,476.1 L1352.0,489.3 L1352.8,478.4 L1353.6,487.0 L1354.4,479.7 L1355.2,483.1 L1356.0,476.5 L1356.8,493.6 L1357.6,476.2 L1358.4,488.7 L1359.2,477.4 L1360.0,489.8 L1360.8,476.6 L1361.6,489.6 L1362.4,476.9 L1363.2,496.1 L1364.0,472.5 L1364.8,488.1 L1365.6,476.6 L1366.4,481.9 L1367.2,479.2 L1368.0,490.8 L1368.8,479.2 L1369.6,484.8 L1370.4,473.0 L1371.2,487.1 L1372.0,476.3 L1372.8,488.7 L1373.6,478.4 L1374.4,485.7 L1375.2,479.0 L1376.0,486.9 L1376.8,475.4 L1377.6,481.4 L1378.4,476.6 L1379.2,485.4 L1380.0,472.3 L1380.8,488.4 L1381.6,474.6 L1382.4,483.3 L1383.2,471.2 L1384.0,487.5 L1384.8,477.4 L1385.6,483.9 L1386.4,491.8 L1387.2,494.5 L1388.0,472.4 L1388.8,484.2 L1389.6,472.6 L1390.4,489.3 L1391.2,503.0 L1392.0,482.4 L1392.8,473.3 L1393.6,486.2 L1394.4,471.4 L1395.2,483.3 L1396.0,472.5 L1396.8,481.7 L1397.6,501.6 L1398.4,483.8 L1399.2,470.8 L1400.0,483.0 L1400.8,470.5 L1401.6,482.0 L1402.4,476.6 L1403.2,488.9 L1404.0,475.2 L1404.8,485.8 L1405.6,476.3 L1406.4,487.9 L1407.2,473.6 L1408.0,486.3 L1408.8,474.7 L1409.6,485.4 L1410.4,477.6 L1411.2,485.4 L1412.0,476.7 L1412.8,486.7 L1413.6,470.3 L1414.4,480.9 L1415.2,476.0 L1416.0,488.6 L1416.8,473.9 L1417.6,487.9 L1418.4,471.6 L1419.2,487.9 L1420.0,472.9 L1420.8,487.1 L1421.6,471.7 L1422.4,484.9 L1423.2,476.6 L1424.0,480.0 L1424.8,471.4 L1425.6,483.3 L1426.4,470.9 L1427.2,481.6 L1428.0,472.2 L1428.8,492.0 L1429.6,475.3 L1430.4,485.4 L1431.2,476.8 L1432.0,480.9 L1432.8,473.1 L1433.6,489.1 L1434.4,475.0 L1435.2,481.0 L1436.0,471.5 L1436.8,484.4 L1437.6,472.4 L1438.4,482.3 L1439.2,471.2 L1440.0,488.5 L1440.8,473.1 L1441.6,483.6 L1442.4,470.4 L1443.2,486.0 L1444.0,476.7 L1444.8,483.5 L1445.6,471.2 L1446.4,480.5 L1447.2,474.8 L1448.0,485.9 L1448.8,494.4 L1449.6,483.9 L1450.4,475.1 L1451.2,488.6 L1452.0,474.5 L1452.8,486.0 L1453.6,473.9 L1454.4,481.4 L1455.2,474.5 L1456.0,486.3 L1456.8,472.3 L1457.6,481.5 L1458.4,471.3 L1459.2,479.2 L1460.0,491.4 L1460.8,484.0 L1461.6,470.9 L1462.4,479.9 L1463.2,476.0 L1464.0,485.9 L1464.8,476.1 L1465.6,483.6 L1466.4,475.4 L1467.2,487.2 L1468.0,471.2 L1468.8,488.4 L1469.6,469.3 L1470.4,478.7 L1471.2,474.3 L1472.0,482.9 L1472.8,471.5 L1473.6,477.3 L1474.4,470.4 L1475.2,484.7 L1476.0,466.6 L1476.8,482.1 L1477.6,469.6 L1478.4,478.5 L1479.2,465.8 L1480.0,478.9 L1480.8,470.7 L1481.6,477.7 L1482.4,485.8" fill="none" stroke="#70879f" stroke-width="3.0" stroke-linejoin="round" stroke-linecap="round" />
</g>
<text x="1.6" y="658.0" font-size="35.18" text-anchor="start" fill="#231f20" >(C)</text>
<rect x="129.4" y="689.8" width="461.70000000000005" height="461.4000000000001" fill="none" stroke="#5a5a5a" stroke-width="1.3"/>
<line x1="175.6" y1="689.8" x2="175.6" y2="701.5" stroke="#3c3c3c" stroke-width="1.3" />
<line x1="175.6" y1="1151.2" x2="175.6" y2="1139.5" stroke="#3c3c3c" stroke-width="1.3" />
<line x1="221.7" y1="689.8" x2="221.7" y2="701.5" stroke="#3c3c3c" stroke-width="1.3" />
<line x1="221.7" y1="1151.2" x2="221.7" y2="1139.5" stroke="#3c3c3c" stroke-width="1.3" />
<line x1="267.9" y1="689.8" x2="267.9" y2="701.5" stroke="#3c3c3c" stroke-width="1.3" />
<line x1="267.9" y1="1151.2" x2="267.9" y2="1139.5" stroke="#3c3c3c" stroke-width="1.3" />
<line x1="314.1" y1="689.8" x2="314.1" y2="701.5" stroke="#3c3c3c" stroke-width="1.3" />
<line x1="314.1" y1="1151.2" x2="314.1" y2="1139.5" stroke="#3c3c3c" stroke-width="1.3" />
<line x1="360.2" y1="689.8" x2="360.2" y2="712.8" stroke="#3c3c3c" stroke-width="1.3" />
<line x1="360.2" y1="1151.2" x2="360.2" y2="1128.2" stroke="#3c3c3c" stroke-width="1.3" />
<line x1="406.4" y1="689.8" x2="406.4" y2="701.5" stroke="#3c3c3c" stroke-width="1.3" />
<line x1="406.4" y1="1151.2" x2="406.4" y2="1139.5" stroke="#3c3c3c" stroke-width="1.3" />
<line x1="452.6" y1="689.8" x2="452.6" y2="701.5" stroke="#3c3c3c" stroke-width="1.3" />
<line x1="452.6" y1="1151.2" x2="452.6" y2="1139.5" stroke="#3c3c3c" stroke-width="1.3" />
<line x1="498.8" y1="689.8" x2="498.8" y2="701.5" stroke="#3c3c3c" stroke-width="1.3" />
<line x1="498.8" y1="1151.2" x2="498.8" y2="1139.5" stroke="#3c3c3c" stroke-width="1.3" />
<line x1="544.9" y1="689.8" x2="544.9" y2="701.5" stroke="#3c3c3c" stroke-width="1.3" />
<line x1="544.9" y1="1151.2" x2="544.9" y2="1139.5" stroke="#3c3c3c" stroke-width="1.3" />
<line x1="129.4" y1="1122.2" x2="152.4" y2="1122.2" stroke="#3c3c3c" stroke-width="1.3" />
<line x1="591.1" y1="1122.2" x2="568.1" y2="1122.2" stroke="#3c3c3c" stroke-width="1.3" />
<line x1="129.4" y1="1093.4" x2="141.1" y2="1093.4" stroke="#3c3c3c" stroke-width="1.3" />
<line x1="591.1" y1="1093.4" x2="579.4" y2="1093.4" stroke="#3c3c3c" stroke-width="1.3" />
<line x1="129.4" y1="1064.6" x2="141.1" y2="1064.6" stroke="#3c3c3c" stroke-width="1.3" />
<line x1="591.1" y1="1064.6" x2="579.4" y2="1064.6" stroke="#3c3c3c" stroke-width="1.3" />
<line x1="129.4" y1="1035.8" x2="141.1" y2="1035.8" stroke="#3c3c3c" stroke-width="1.3" />
<line x1="591.1" y1="1035.8" x2="579.4" y2="1035.8" stroke="#3c3c3c" stroke-width="1.3" />
<line x1="129.4" y1="1007.0" x2="141.1" y2="1007.0" stroke="#3c3c3c" stroke-width="1.3" />
<line x1="591.1" y1="1007.0" x2="579.4" y2="1007.0" stroke="#3c3c3c" stroke-width="1.3" />
<line x1="129.4" y1="978.2" x2="152.4" y2="978.2" stroke="#3c3c3c" stroke-width="1.3" />
<line x1="591.1" y1="978.2" x2="568.1" y2="978.2" stroke="#3c3c3c" stroke-width="1.3" />
<line x1="129.4" y1="949.4" x2="141.1" y2="949.4" stroke="#3c3c3c" stroke-width="1.3" />
<line x1="591.1" y1="949.4" x2="579.4" y2="949.4" stroke="#3c3c3c" stroke-width="1.3" />
<line x1="129.4" y1="920.6" x2="141.1" y2="920.6" stroke="#3c3c3c" stroke-width="1.3" />
<line x1="591.1" y1="920.6" x2="579.4" y2="920.6" stroke="#3c3c3c" stroke-width="1.3" />
<line x1="129.4" y1="891.8" x2="141.1" y2="891.8" stroke="#3c3c3c" stroke-width="1.3" />
<line x1="591.1" y1="891.8" x2="579.4" y2="891.8" stroke="#3c3c3c" stroke-width="1.3" />
<line x1="129.4" y1="863.0" x2="141.1" y2="863.0" stroke="#3c3c3c" stroke-width="1.3" />
<line x1="591.1" y1="863.0" x2="579.4" y2="863.0" stroke="#3c3c3c" stroke-width="1.3" />
<line x1="129.4" y1="834.2" x2="152.4" y2="834.2" stroke="#3c3c3c" stroke-width="1.3" />
<line x1="591.1" y1="834.2" x2="568.1" y2="834.2" stroke="#3c3c3c" stroke-width="1.3" />
<line x1="129.4" y1="805.4" x2="141.1" y2="805.4" stroke="#3c3c3c" stroke-width="1.3" />
<line x1="591.1" y1="805.4" x2="579.4" y2="805.4" stroke="#3c3c3c" stroke-width="1.3" />
<line x1="129.4" y1="776.6" x2="141.1" y2="776.6" stroke="#3c3c3c" stroke-width="1.3" />
<line x1="591.1" y1="776.6" x2="579.4" y2="776.6" stroke="#3c3c3c" stroke-width="1.3" />
<line x1="129.4" y1="747.8" x2="141.1" y2="747.8" stroke="#3c3c3c" stroke-width="1.3" />
<line x1="591.1" y1="747.8" x2="579.4" y2="747.8" stroke="#3c3c3c" stroke-width="1.3" />
<line x1="129.4" y1="719.0" x2="141.1" y2="719.0" stroke="#3c3c3c" stroke-width="1.3" />
<line x1="591.1" y1="719.0" x2="579.4" y2="719.0" stroke="#3c3c3c" stroke-width="1.3" />
<line x1="129.4" y1="689.8" x2="152.4" y2="689.8" stroke="#3c3c3c" stroke-width="1.6" />
<line x1="591.1" y1="689.8" x2="568.1" y2="689.8" stroke="#3c3c3c" stroke-width="1.6" />
<text x="101.4" y="1133.2" font-size="34" text-anchor="start" fill="#231f20" >0</text>
<text x="84.4" y="989.2" font-size="34" text-anchor="start" fill="#231f20" >10</text>
<text x="84.4" y="845.2" font-size="34" text-anchor="start" fill="#231f20" >20</text>
<text x="84.4" y="701.2" font-size="34" text-anchor="start" fill="#231f20" >30</text>
<text x="120.3" y="1191.5" font-size="34.5" text-anchor="start" fill="#231f20" >0</text>
<text x="350.8" y="1191.5" font-size="34.5" text-anchor="start" fill="#231f20" >5</text>
<text x="574.1" y="1191.5" font-size="34.5" text-anchor="start" fill="#231f20" >10</text>
<text x="190.0" y="1252.4" font-size="34.27" text-anchor="start" fill="#231f20" >Switching Field (MV/cm)</text>
<text transform="translate(38.6,1008) rotate(-90)" font-size="34" fill="#231f20">2P<tspan font-size="22" dy="7">r</tspan><tspan dy="-7"> (µC/cm</tspan><tspan font-size="22" dy="-12">2</tspan><tspan dy="12">)</tspan></text>
<path d="M221.7,1122.2 L267.9,1120.0 L314.1,1116.4 L360.2,1086.2 L406.4,1059.6 L452.6,953.7 L498.8,874.5 L544.9,848.6" fill="none" stroke="#35489a" stroke-width="2.2" stroke-linejoin="round" stroke-linecap="round" />
<line x1="452.6" y1="945.8" x2="452.6" y2="961.6" stroke="#35489a" stroke-width="1.8" />
<line x1="447.6" y1="945.8" x2="457.6" y2="945.8" stroke="#35489a" stroke-width="1.8" />
<line x1="447.6" y1="961.6" x2="457.6" y2="961.6" stroke="#35489a" stroke-width="1.8" />
<line x1="498.8" y1="862.3" x2="498.8" y2="886.8" stroke="#35489a" stroke-width="1.8" />
<line x1="493.8" y1="862.3" x2="503.8" y2="862.3" stroke="#35489a" stroke-width="1.8" />
<line x1="493.8" y1="886.8" x2="503.8" y2="886.8" stroke="#35489a" stroke-width="1.8" />
<line x1="544.9" y1="834.9" x2="544.9" y2="862.3" stroke="#35489a" stroke-width="1.8" />
<line x1="539.9" y1="834.9" x2="549.9" y2="834.9" stroke="#35489a" stroke-width="1.8" />
<line x1="539.9" y1="862.3" x2="549.9" y2="862.3" stroke="#35489a" stroke-width="1.8" />
<circle cx="221.7" cy="1122.2" r="6.2" fill="#2f4391"/>
<circle cx="267.9" cy="1120.0" r="6.2" fill="#2f4391"/>
<circle cx="314.1" cy="1116.4" r="6.2" fill="#2f4391"/>
<circle cx="360.2" cy="1086.2" r="6.2" fill="#2f4391"/>
<circle cx="406.4" cy="1059.6" r="6.2" fill="#2f4391"/>
<circle cx="452.6" cy="953.7" r="6.2" fill="#2f4391"/>
<circle cx="498.8" cy="874.5" r="6.2" fill="#2f4391"/>
<circle cx="544.9" cy="848.6" r="6.2" fill="#2f4391"/>
<line x1="172.9" y1="767.0" x2="233.9" y2="767.0" stroke="#8694c8" stroke-width="2.2" />
<circle cx="203.3" cy="767" r="10.6" fill="#2f4391"/>
<text x="246.6" y="777.2" font-size="32.7" text-anchor="start" fill="#231f20" >5 nm</text>
<text x="664.0" y="657.0" font-size="35.08" text-anchor="start" fill="#231f20" >(D)</text>
<rect x="774.6" y="675.6" width="284.69999999999993" height="487.9" fill="none" stroke="#5a5a5a" stroke-width="1.3"/>
<line x1="774.6" y1="919.4" x2="1059.3" y2="919.4" stroke="#333" stroke-width="1.6" />
<line x1="798.3" y1="675.6" x2="798.3" y2="684.1" stroke="#3c3c3c" stroke-width="1.3" />
<line x1="798.3" y1="919.4" x2="798.3" y2="910.9" stroke="#3c3c3c" stroke-width="1.3" />
<line x1="798.3" y1="1163.5" x2="798.3" y2="1155.0" stroke="#3c3c3c" stroke-width="1.3" />
<line x1="822.0" y1="675.6" x2="822.0" y2="691.6" stroke="#3c3c3c" stroke-width="1.3" />
<line x1="822.0" y1="919.4" x2="822.0" y2="903.4" stroke="#3c3c3c" stroke-width="1.3" />
<line x1="822.0" y1="1163.5" x2="822.0" y2="1147.5" stroke="#3c3c3c" stroke-width="1.3" />
<line x1="845.8" y1="675.6" x2="845.8" y2="684.1" stroke="#3c3c3c" stroke-width="1.3" />
<line x1="845.8" y1="919.4" x2="845.8" y2="910.9" stroke="#3c3c3c" stroke-width="1.3" />
<line x1="845.8" y1="1163.5" x2="845.8" y2="1155.0" stroke="#3c3c3c" stroke-width="1.3" />
<line x1="869.5" y1="675.6" x2="869.5" y2="691.6" stroke="#3c3c3c" stroke-width="1.3" />
<line x1="869.5" y1="919.4" x2="869.5" y2="903.4" stroke="#3c3c3c" stroke-width="1.3" />
<line x1="869.5" y1="1163.5" x2="869.5" y2="1147.5" stroke="#3c3c3c" stroke-width="1.3" />
<line x1="893.2" y1="675.6" x2="893.2" y2="684.1" stroke="#3c3c3c" stroke-width="1.3" />
<line x1="893.2" y1="919.4" x2="893.2" y2="910.9" stroke="#3c3c3c" stroke-width="1.3" />
<line x1="893.2" y1="1163.5" x2="893.2" y2="1155.0" stroke="#3c3c3c" stroke-width="1.3" />
<line x1="917.0" y1="675.6" x2="917.0" y2="691.6" stroke="#3c3c3c" stroke-width="1.3" />
<line x1="917.0" y1="919.4" x2="917.0" y2="903.4" stroke="#3c3c3c" stroke-width="1.3" />
<line x1="917.0" y1="1163.5" x2="917.0" y2="1147.5" stroke="#3c3c3c" stroke-width="1.3" />
<line x1="940.7" y1="675.6" x2="940.7" y2="684.1" stroke="#3c3c3c" stroke-width="1.3" />
<line x1="940.7" y1="919.4" x2="940.7" y2="910.9" stroke="#3c3c3c" stroke-width="1.3" />
<line x1="940.7" y1="1163.5" x2="940.7" y2="1155.0" stroke="#3c3c3c" stroke-width="1.3" />
<line x1="964.4" y1="675.6" x2="964.4" y2="691.6" stroke="#3c3c3c" stroke-width="1.3" />
<line x1="964.4" y1="919.4" x2="964.4" y2="903.4" stroke="#3c3c3c" stroke-width="1.3" />
<line x1="964.4" y1="1163.5" x2="964.4" y2="1147.5" stroke="#3c3c3c" stroke-width="1.3" />
<line x1="988.1" y1="675.6" x2="988.1" y2="684.1" stroke="#3c3c3c" stroke-width="1.3" />
<line x1="988.1" y1="919.4" x2="988.1" y2="910.9" stroke="#3c3c3c" stroke-width="1.3" />
<line x1="988.1" y1="1163.5" x2="988.1" y2="1155.0" stroke="#3c3c3c" stroke-width="1.3" />
<line x1="1011.8" y1="675.6" x2="1011.8" y2="691.6" stroke="#3c3c3c" stroke-width="1.3" />
<line x1="1011.8" y1="919.4" x2="1011.8" y2="903.4" stroke="#3c3c3c" stroke-width="1.3" />
<line x1="1011.8" y1="1163.5" x2="1011.8" y2="1147.5" stroke="#3c3c3c" stroke-width="1.3" />
<line x1="1035.6" y1="675.6" x2="1035.6" y2="684.1" stroke="#3c3c3c" stroke-width="1.3" />
<line x1="1035.6" y1="919.4" x2="1035.6" y2="910.9" stroke="#3c3c3c" stroke-width="1.3" />
<line x1="1035.6" y1="1163.5" x2="1035.6" y2="1155.0" stroke="#3c3c3c" stroke-width="1.3" />
<line x1="774.6" y1="919.2" x2="783.1" y2="919.2" stroke="#3c3c3c" stroke-width="1.3" />
<line x1="1059.3" y1="919.2" x2="1050.8" y2="919.2" stroke="#3c3c3c" stroke-width="1.3" />
<line x1="774.6" y1="878.7" x2="790.6" y2="878.7" stroke="#3c3c3c" stroke-width="1.3" />
<line x1="1059.3" y1="878.7" x2="1043.3" y2="878.7" stroke="#3c3c3c" stroke-width="1.3" />
<line x1="774.6" y1="838.2" x2="783.1" y2="838.2" stroke="#3c3c3c" stroke-width="1.3" />
<line x1="1059.3" y1="838.2" x2="1050.8" y2="838.2" stroke="#3c3c3c" stroke-width="1.3" />
<line x1="774.6" y1="797.6" x2="790.6" y2="797.6" stroke="#3c3c3c" stroke-width="1.3" />
<line x1="1059.3" y1="797.6" x2="1043.3" y2="797.6" stroke="#3c3c3c" stroke-width="1.3" />
<line x1="774.6" y1="757.1" x2="783.1" y2="757.1" stroke="#3c3c3c" stroke-width="1.3" />
<line x1="1059.3" y1="757.1" x2="1050.8" y2="757.1" stroke="#3c3c3c" stroke-width="1.3" />
<line x1="774.6" y1="716.6" x2="790.6" y2="716.6" stroke="#3c3c3c" stroke-width="1.3" />
<line x1="1059.3" y1="716.6" x2="1043.3" y2="716.6" stroke="#3c3c3c" stroke-width="1.3" />
<line x1="774.6" y1="676.1" x2="783.1" y2="676.1" stroke="#3c3c3c" stroke-width="1.3" />
<line x1="1059.3" y1="676.1" x2="1050.8" y2="676.1" stroke="#3c3c3c" stroke-width="1.3" />
<text x="752.8" y="889.7" font-size="34.5" text-anchor="start" fill="#231f20" >0</text>
<text x="718.3" y="808.6" font-size="34.5" text-anchor="start" fill="#231f20" >100</text>
<text x="718.3" y="727.6" font-size="34.5" text-anchor="start" fill="#231f20" >200</text>
<text x="756.9" y="1195.3" font-size="34.5" text-anchor="start" fill="#231f20" >-3</text>
<text x="910.3" y="1195.3" font-size="34.5" text-anchor="start" fill="#231f20" >0</text>
<text x="1049.2" y="1195.3" font-size="34.5" text-anchor="start" fill="#231f20" >3</text>
<text x="865.2" y="1231.7" font-size="33.99" text-anchor="start" fill="#231f20" >Bias (V)</text>
<text x="965.9" y="727.5" font-size="33.06" text-anchor="start" fill="#231f20" >1 nm</text>
<text transform="translate(703,841.4) rotate(-90)" font-size="34" fill="#231f20">Phase (<tspan font-size="22" dy="-12">o</tspan><tspan dy="12">)</tspan></text>
<text transform="translate(702.5,1154.7) rotate(-90)" font-size="34.08" text-anchor="start" fill="#231f20" >Amp. (arb.units)</text>
<path d="M776.2,696.0 L776.5,695.9 L776.8,695.9 L777.2,695.8 L777.6,695.8 L778.0,695.7 L778.5,695.6 L779.0,695.5 L779.5,695.4 L780.0,695.3 L780.6,695.2 L781.2,695.1 L781.7,695.0 L782.3,694.9 L782.9,694.8 L783.5,694.7 L784.1,694.6 L784.7,694.5 L785.3,694.4 L785.9,694.2 L786.5,694.1 L787.0,694.0 L787.5,693.9 L788.0,693.8 L788.5,693.6 L789.1,693.5 L789.6,693.3 L790.2,693.2 L790.7,693.0 L791.3,692.9 L791.9,692.7 L792.4,692.5 L793.0,692.4 L793.5,692.2 L794.1,692.0 L794.6,691.9 L795.1,691.7 L795.7,691.6 L796.2,691.5 L796.7,691.3 L797.1,691.2 L797.6,691.1 L798.0,691.0 L798.4,691.0 L798.8,690.9 L799.6,690.8 L800.3,690.8 L800.9,690.8 L801.5,690.8 L801.9,690.9 L802.4,691.0 L802.8,691.1 L803.2,691.2 L803.6,691.4 L804.0,691.5 L804.6,691.7 L805.1,691.9 L805.6,692.1 L806.0,692.4 L806.5,692.8 L807.0,693.5 L807.5,694.1 L807.9,694.6 L808.4,695.2 L809.0,695.9 L809.5,696.8 L810.1,697.9 L810.6,699.4 L811.2,701.2 L811.7,702.9 L812.2,704.9 L812.7,707.0 L813.2,709.3 L813.7,711.7 L814.2,714.3 L814.7,717.0 L815.3,719.9 L815.8,722.9 L816.3,725.9 L816.8,729.1 L817.3,732.5 L817.9,736.0 L818.4,739.7 L818.9,743.4 L819.4,747.3 L819.9,751.2 L820.5,755.1 L821.0,759.1 L821.5,763.0 L822.0,766.9 L822.5,770.8 L823.0,774.7 L823.5,778.7 L824.0,782.6 L824.6,786.7 L825.1,790.9 L825.6,795.2 L826.1,799.6 L826.6,804.1 L827.1,809.0 L827.7,814.4 L828.2,820.0 L828.8,825.9 L829.3,831.7 L829.9,837.4 L830.4,842.8 L830.9,847.7 L831.4,852.0 L831.8,855.6 L832.4,859.9 L832.9,862.6 L833.4,864.1 L833.9,865.1 L834.4,865.9 L835.0,867.0 L835.4,867.9 L835.9,868.7 L836.3,869.5 L836.8,870.3 L837.3,871.0 L837.8,871.6 L838.4,872.1 L838.9,872.6 L839.5,872.9 L840.0,873.1 L840.5,873.2 L840.9,873.1 L841.4,873.0 L841.9,872.7 L842.4,872.5 L842.9,872.1 L843.4,871.8 L843.9,871.4 L844.4,871.0 L845.0,870.6 L845.5,870.3 L846.0,870.0 L846.5,869.7 L847.0,869.5 L847.5,869.3 L848.0,869.1 L848.5,868.8 L849.0,868.6 L849.5,868.4 L850.0,868.1 L850.6,867.8 L851.1,867.5 L851.8,867.2 L852.4,866.9 L852.8,866.7 L853.3,866.4 L853.7,866.2 L854.2,865.9 L854.7,865.6 L855.1,865.3 L855.6,865.0 L856.1,864.7 L856.7,864.4 L857.2,864.1 L857.7,863.8 L858.2,863.5 L858.8,863.2 L859.3,862.9 L859.8,862.6 L860.4,862.3 L860.9,862.0 L861.5,861.7 L862.0,861.5 L862.5,861.3 L862.9,861.1 L863.4,860.9 L863.8,860.7 L864.2,860.5 L864.6,860.3 L865.1,860.1 L865.5,860.0 L865.9,859.8 L866.4,859.6 L866.8,859.5 L867.3,859.3 L867.8,859.1 L868.2,859.0 L868.7,858.8 L869.3,858.6 L869.8,858.5 L870.4,858.3 L871.0,858.2 L871.6,858.0 L872.3,857.9 L873.0,857.7 L873.4,857.6 L873.8,857.5 L874.2,857.4 L874.6,857.4 L875.0,857.3 L875.5,857.2 L875.9,857.1 L876.3,857.0 L876.8,856.9 L877.2,856.9 L877.7,856.8 L878.2,856.7 L878.7,856.6 L879.1,856.5 L879.6,856.4 L880.1,856.3 L880.6,856.3 L881.1,856.2 L881.6,856.1 L882.1,856.0 L882.7,855.9 L883.2,855.9 L883.7,855.8 L884.2,855.7 L884.8,855.6 L885.3,855.6 L885.8,855.5 L886.4,855.4 L886.9,855.3 L887.4,855.3 L888.0,855.2 L888.5,855.1 L889.1,855.1 L889.6,855.0 L890.2,854.9 L890.7,854.9 L891.3,854.8 L891.8,854.8 L892.4,854.7 L892.9,854.7 L893.5,854.6 L894.0,854.6 L894.4,854.5 L894.9,854.5 L895.4,854.4 L896.0,854.4 L896.5,854.4 L897.0,854.3 L897.6,854.3 L898.1,854.3 L898.7,854.2 L899.2,854.2 L899.8,854.2 L900.4,854.1 L901.0,854.1 L901.6,854.1 L902.1,854.1 L902.7,854.0 L903.3,854.0 L903.9,854.0 L904.5,854.0 L905.1,853.9 L905.7,853.9 L906.3,853.9 L906.8,853.9 L907.4,853.8 L908.0,853.8 L908.6,853.8 L909.1,853.8 L909.7,853.8 L910.2,853.8 L910.8,853.7 L911.3,853.7 L911.8,853.7 L912.3,853.7 L912.8,853.7 L913.3,853.7 L913.8,853.6 L914.2,853.6 L914.7,853.6 L915.1,853.6 L915.5,853.6 L915.9,853.6 L916.3,853.6 L916.7,853.6 L917.0,853.5 L917.3,853.5 L917.7,853.5 L917.9,853.5 L918.2,853.5" fill="none" stroke="#c7404b" stroke-width="6.5" stroke-linejoin="round" stroke-linecap="round" />
<path d="M918.2,853.5 L918.5,853.5 L918.7,853.5 L919.0,853.5 L919.3,853.5 L919.7,853.6 L920.0,853.6 L920.3,853.6 L920.7,853.6 L921.1,853.6 L921.5,853.7 L921.9,853.7 L922.3,853.7 L922.7,853.7 L923.2,853.7 L923.6,853.8 L924.1,853.8 L924.5,853.8 L925.0,853.8 L925.5,853.9 L926.0,853.9 L926.5,853.9 L927.0,853.9 L927.5,854.0 L928.1,854.0 L928.6,854.0 L929.1,854.0 L929.7,854.1 L930.2,854.1 L930.8,854.1 L931.4,854.2 L931.9,854.2 L932.5,854.2 L933.1,854.2 L933.7,854.2 L934.3,854.3 L934.9,854.3 L935.5,854.3 L936.0,854.3 L936.6,854.4 L937.2,854.4 L937.8,854.4 L938.4,854.4 L939.0,854.4 L939.6,854.4 L940.2,854.4 L940.8,854.5 L941.4,854.5 L942.0,854.5 L942.6,854.5 L943.2,854.5 L943.8,854.5 L944.4,854.5 L945.0,854.5 L945.4,854.5 L945.9,854.5 L946.3,854.5 L946.8,854.5 L947.2,854.5 L947.7,854.5 L948.1,854.5 L948.6,854.5 L949.1,854.5 L949.5,854.5 L950.0,854.4 L950.5,854.4 L950.9,854.4 L951.4,854.4 L951.9,854.4 L952.3,854.4 L952.8,854.4 L953.3,854.4 L953.8,854.4 L954.3,854.3 L954.7,854.3 L955.2,854.3 L955.7,854.3 L956.2,854.3 L956.7,854.3 L957.2,854.3 L957.7,854.2 L958.2,854.2 L958.7,854.2 L959.2,854.2 L959.7,854.2 L960.2,854.1 L960.7,854.1 L961.2,854.1 L961.7,854.1 L962.2,854.1 L962.7,854.1 L963.2,854.0 L963.7,854.0 L964.2,854.0 L964.7,854.0 L965.2,854.0 L965.8,853.9 L966.3,853.9 L966.8,853.9 L967.3,853.9 L967.8,853.9 L968.4,853.8 L968.9,853.8 L969.4,853.8 L969.9,853.8 L970.4,853.8 L971.0,853.8 L971.5,853.7 L972.0,853.7 L972.5,853.7 L973.1,853.7 L973.6,853.7 L974.1,853.7 L974.7,853.6 L975.2,853.6 L975.7,853.6 L976.3,853.6 L976.8,853.6 L977.3,853.6 L977.9,853.5 L978.4,853.5 L978.9,853.5 L979.5,853.5 L980.0,853.5 L980.5,853.5 L980.9,853.5 L981.4,853.5 L981.9,853.5 L982.4,853.5 L982.8,853.4 L983.3,853.4 L983.8,853.4 L984.3,853.4 L984.8,853.4 L985.3,853.4 L985.8,853.4 L986.2,853.4 L986.7,853.4 L987.2,853.4 L987.7,853.4 L988.2,853.3 L988.7,853.3 L989.2,853.3 L989.7,853.3 L990.2,853.3 L990.7,853.3 L991.2,853.3 L991.7,853.3 L992.2,853.3 L992.7,853.3 L993.2,853.3 L993.7,853.2 L994.2,853.2 L994.7,853.2 L995.3,853.2 L995.8,853.2 L996.3,853.2 L996.8,853.2 L997.3,853.2 L997.8,853.2 L998.3,853.2 L998.8,853.2 L999.3,853.2 L999.8,853.2 L1000.4,853.1 L1000.9,853.1 L1001.4,853.1 L1001.9,853.1 L1002.4,853.1 L1002.9,853.1 L1003.4,853.1 L1003.9,853.1 L1004.5,853.1 L1005.0,853.1 L1005.5,853.1 L1006.0,853.1 L1006.5,853.1 L1007.0,853.1 L1007.5,853.1 L1008.0,853.1 L1008.5,853.1 L1009.0,853.1 L1009.6,853.0 L1010.1,853.0 L1010.6,853.0 L1011.1,853.0 L1011.6,853.0 L1012.1,853.0 L1012.6,853.0 L1013.1,853.0 L1013.6,853.0 L1014.1,853.0 L1014.6,853.0 L1015.1,853.0 L1015.6,853.0 L1016.1,853.0 L1016.6,853.0 L1017.1,853.0 L1017.6,853.0 L1018.1,853.0 L1018.5,853.0 L1019.0,853.0 L1019.5,853.0 L1020.0,853.0 L1020.5,853.0 L1021.0,853.0 L1021.6,853.0 L1022.1,853.0 L1022.7,853.0 L1023.2,853.0 L1023.7,853.0 L1024.3,853.0 L1024.9,853.0 L1025.4,853.0 L1026.0,853.0 L1026.5,853.0 L1027.1,853.0 L1027.7,853.0 L1028.3,853.0 L1028.8,853.0 L1029.4,853.1 L1030.0,853.1 L1030.6,853.1 L1031.2,853.1 L1031.7,853.1 L1032.3,853.1 L1032.9,853.1 L1033.5,853.1 L1034.1,853.1 L1034.7,853.1 L1035.2,853.1 L1035.8,853.1 L1036.4,853.1 L1037.0,853.2 L1037.6,853.2 L1038.1,853.2 L1038.7,853.2 L1039.3,853.2 L1039.8,853.2 L1040.4,853.2 L1041.0,853.2 L1041.5,853.2 L1042.1,853.2 L1042.6,853.2 L1043.2,853.3 L1043.7,853.3 L1044.3,853.3 L1044.8,853.3 L1045.3,853.3 L1045.8,853.3 L1046.4,853.3 L1046.9,853.3 L1047.4,853.3 L1047.9,853.3 L1048.4,853.3 L1048.8,853.4 L1049.3,853.4 L1049.8,853.4 L1050.3,853.4 L1050.7,853.4 L1051.2,853.4 L1051.6,853.4 L1052.0,853.4 L1052.4,853.4 L1052.9,853.4 L1053.3,853.4 L1053.6,853.4 L1054.0,853.4 L1054.4,853.5 L1054.8,853.5 L1055.1,853.5 L1055.4,853.5 L1055.8,853.5 L1056.1,853.5 L1056.4,853.5 L1056.7,853.5 L1057.0,853.5 L1057.2,853.5 L1057.5,853.5" fill="none" stroke="#c7404b" stroke-width="6.5" stroke-linejoin="round" stroke-linecap="round" />
<path d="M776.2,694.0 L776.5,694.0 L776.8,694.0 L777.1,693.9 L777.5,693.9 L777.9,693.9 L778.3,693.8 L778.7,693.8 L779.2,693.8 L779.7,693.7 L780.2,693.7 L780.7,693.6 L781.2,693.6 L781.8,693.6 L782.3,693.5 L782.9,693.5 L783.5,693.4 L784.1,693.4 L784.7,693.3 L785.3,693.3 L785.9,693.2 L786.5,693.2 L787.1,693.2 L787.7,693.1 L788.3,693.1 L788.8,693.1 L789.4,693.0 L790.0,693.0 L790.5,693.0 L790.9,693.0 L791.4,692.9 L791.8,692.9 L792.3,692.9 L792.8,692.9 L793.2,692.9 L793.7,692.9 L794.2,692.8 L794.7,692.8 L795.1,692.8 L795.6,692.8 L796.1,692.8 L796.6,692.8 L797.1,692.8 L797.6,692.7 L798.1,692.7 L798.6,692.7 L799.1,692.7 L799.6,692.7 L800.1,692.7 L800.6,692.7 L801.1,692.7 L801.6,692.6 L802.2,692.6 L802.7,692.6 L803.2,692.6 L803.7,692.6 L804.3,692.6 L804.8,692.6 L805.4,692.5 L805.9,692.5 L806.4,692.5 L807.0,692.5 L807.5,692.5 L807.9,692.5 L808.4,692.5 L808.9,692.5 L809.4,692.5 L809.9,692.4 L810.4,692.4 L810.9,692.4 L811.4,692.4 L811.9,692.4 L812.4,692.4 L812.9,692.4 L813.4,692.4 L813.9,692.4 L814.4,692.4 L815.0,692.4 L815.5,692.4 L816.0,692.4 L816.5,692.4 L817.1,692.4 L817.6,692.4 L818.1,692.4 L818.6,692.4 L819.2,692.4 L819.7,692.4 L820.2,692.4 L820.7,692.4 L821.2,692.4 L821.8,692.3 L822.3,692.3 L822.8,692.3 L823.3,692.3 L823.8,692.2 L824.3,692.2 L824.8,692.2 L825.3,692.1 L825.7,692.1 L826.2,692.1 L826.7,692.0 L827.1,692.0 L827.6,691.9 L828.2,691.8 L828.7,691.7 L829.2,691.6 L829.8,691.5 L830.3,691.4 L830.8,691.3 L831.3,691.2 L831.8,691.1 L832.3,691.0 L832.8,690.8 L833.3,690.7 L833.8,690.6 L834.3,690.4 L834.8,690.3 L835.3,690.1 L835.7,690.0 L836.2,689.8 L836.7,689.7 L837.2,689.5 L837.6,689.4 L838.1,689.2 L838.6,689.1 L839.1,689.0 L839.6,688.8 L840.1,688.7 L840.5,688.6 L841.0,688.4 L841.5,688.3 L842.0,688.2 L842.5,688.1 L843.1,688.0 L843.6,687.9 L844.1,687.8 L844.6,687.7 L845.1,687.7 L845.6,687.6 L846.1,687.5 L846.6,687.5 L847.1,687.4 L847.6,687.4 L848.1,687.3 L848.7,687.3 L849.2,687.3 L849.7,687.2 L850.3,687.2 L850.8,687.1 L851.4,687.1 L851.9,687.1 L852.4,687.1 L853.0,687.0 L853.5,687.0 L854.1,687.0 L854.6,687.0 L855.1,686.9 L855.7,686.9 L856.2,686.9 L856.7,686.9 L857.2,686.8 L857.7,686.8 L858.2,686.8 L858.7,686.7 L859.2,686.7 L859.6,686.7 L860.1,686.7 L860.5,686.6 L861.0,686.6 L861.4,686.5 L861.8,686.5 L862.2,686.4 L862.6,686.4 L863.3,686.3 L864.0,686.2 L864.7,686.1 L865.3,686.0 L865.8,685.9 L866.4,685.7 L866.9,685.6 L867.4,685.5 L867.8,685.4 L868.3,685.3 L868.7,685.1 L869.1,685.0 L869.6,684.8 L870.0,684.7 L870.5,684.5 L871.0,684.4 L871.5,684.2 L872.0,684.0 L872.5,683.8 L873.0,683.6 L873.5,683.4 L874.1,683.2 L874.6,682.9 L875.2,682.7 L875.8,682.4 L876.3,682.1 L876.9,681.9 L877.4,681.6 L878.0,681.3 L878.5,681.1 L879.0,680.8 L879.6,680.6 L880.1,680.4 L880.5,680.2 L881.0,680.0 L881.4,679.8 L881.8,679.7 L882.2,679.6 L883.0,679.4 L883.6,679.3 L884.1,679.2 L884.6,679.2 L885.0,679.3 L885.3,679.6 L885.8,680.0 L886.3,680.6 L886.8,681.2 L887.3,682.0 L887.8,682.8 L888.4,683.8 L888.9,684.8 L889.4,685.9 L890.0,687.1 L890.5,688.3 L891.0,689.6 L891.5,690.9 L892.1,692.5 L892.6,694.2 L893.0,695.8 L893.5,697.6 L894.0,699.6 L894.5,701.8 L895.0,704.4 L895.6,707.4 L896.0,709.7 L896.5,712.1 L897.0,714.8 L897.4,717.5 L897.9,720.5 L898.4,723.5 L899.0,726.6 L899.5,729.7 L900.1,732.9 L900.6,736.1 L901.2,739.3 L901.8,742.4 L902.3,744.7 L902.7,747.1 L903.2,749.6 L903.8,752.0 L904.3,754.5 L904.8,757.0 L905.4,759.6 L905.9,762.1 L906.4,764.6 L907.0,767.1 L907.5,769.6 L908.0,772.1 L908.6,774.5 L909.1,776.9 L909.5,779.2 L910.0,781.5 L910.6,784.5 L911.2,787.3 L911.7,790.1 L912.3,792.8 L912.8,795.5 L913.3,798.2 L913.8,800.9 L914.3,803.5 L914.8,806.2 L915.3,808.9 L915.7,811.6 L916.2,814.4 L916.8,817.9 L917.3,821.4 L917.9,825.0 L918.4,828.6 L918.9,832.3 L919.5,835.9 L920.0,839.4 L920.4,842.9 L920.9,846.2 L921.3,849.4 L921.9,854.6 L922.4,859.8 L922.8,864.7 L923.2,869.2 L923.8,873.1 L924.4,876.2 L924.8,877.5 L925.3,878.5 L925.8,879.3 L926.3,879.9 L926.9,880.4 L927.4,880.6 L928.0,880.8 L928.6,880.8 L929.1,880.8 L929.7,880.8 L930.2,880.7 L930.7,880.5 L931.3,880.2 L931.8,879.6 L932.4,879.0 L932.9,878.3 L933.4,877.5 L933.9,876.7 L934.4,875.9 L935.0,875.2 L935.5,874.5 L936.0,873.9 L936.5,873.2 L937.0,872.6 L937.4,872.0 L937.9,871.3 L938.4,870.7 L938.9,870.0 L939.5,869.3 L940.2,868.6 L940.9,867.9 L941.3,867.5 L941.7,867.1 L942.1,866.7 L942.5,866.3 L943.0,865.9 L943.4,865.5 L943.9,865.0 L944.4,864.6 L944.9,864.1 L945.4,863.7 L945.9,863.3 L946.4,862.8 L946.9,862.4 L947.5,862.0 L948.1,861.6 L948.7,861.2 L949.3,860.8 L949.9,860.4 L950.5,860.0 L951.2,859.7 L951.6,859.5 L952.0,859.3 L952.4,859.1 L952.8,858.9 L953.2,858.7 L953.7,858.5 L954.1,858.4 L954.5,858.2 L954.9,858.0 L955.4,857.8 L955.8,857.7 L956.2,857.5 L956.7,857.3 L957.1,857.2 L957.6,857.0 L958.1,856.8 L958.5,856.7 L959.0,856.5 L959.5,856.4 L960.0,856.2 L960.5,856.1 L961.1,856.0 L961.6,855.8 L962.1,855.7 L962.7,855.6 L963.3,855.4 L963.9,855.3 L964.5,855.2 L965.1,855.1 L965.7,854.9 L966.4,854.8 L967.0,854.7 L967.7,854.6 L968.1,854.5 L968.5,854.5 L968.9,854.4 L969.3,854.4 L969.8,854.3 L970.2,854.2 L970.6,854.2 L971.1,854.1 L971.5,854.1 L972.0,854.0 L972.4,854.0 L972.9,853.9 L973.3,853.9 L973.8,853.8 L974.3,853.8 L974.8,853.7 L975.2,853.7 L975.7,853.6 L976.2,853.6 L976.7,853.5 L977.2,853.5 L977.7,853.4 L978.2,853.4 L978.7,853.4 L979.2,853.3 L979.7,853.3 L980.3,853.2 L980.8,853.2 L981.3,853.2 L981.8,853.1 L982.4,853.1 L982.9,853.1 L983.4,853.0 L983.9,853.0 L984.5,853.0 L985.0,852.9 L985.6,852.9 L986.1,852.9 L986.6,852.9 L987.2,852.8 L987.7,852.8 L988.3,852.8 L988.8,852.8 L989.4,852.7 L989.9,852.7 L990.5,852.7 L991.0,852.7 L991.6,852.6 L992.1,852.6 L992.7,852.6 L993.2,852.6 L993.8,852.6 L994.3,852.6 L994.9,852.5 L995.4,852.5 L996.0,852.5 L996.5,852.5 L997.0,852.5 L997.4,852.5 L997.9,852.5 L998.4,852.5 L998.9,852.5 L999.3,852.5 L999.8,852.5 L1000.3,852.5 L1000.8,852.5 L1001.3,852.5 L1001.8,852.5 L1002.3,852.5 L1002.8,852.5 L1003.3,852.5 L1003.8,852.5 L1004.3,852.5 L1004.8,852.5 L1005.3,852.5 L1005.8,852.5 L1006.3,852.5 L1006.9,852.5 L1007.4,852.5 L1007.9,852.5 L1008.4,852.6 L1008.9,852.6 L1009.4,852.6 L1010.0,852.6 L1010.5,852.6 L1011.0,852.6 L1011.5,852.6 L1012.0,852.7 L1012.6,852.7 L1013.1,852.7 L1013.6,852.7 L1014.1,852.7 L1014.6,852.7 L1015.1,852.8 L1015.7,852.8 L1016.2,852.8 L1016.7,852.8 L1017.2,852.8 L1017.7,852.8 L1018.2,852.9 L1018.8,852.9 L1019.3,852.9 L1019.8,852.9 L1020.3,852.9 L1020.8,852.9 L1021.3,853.0 L1021.8,853.0 L1022.3,853.0 L1022.8,853.0 L1023.3,853.0 L1023.8,853.0 L1024.3,853.1 L1024.8,853.1 L1025.3,853.1 L1025.8,853.1 L1026.2,853.1 L1026.7,853.1 L1027.2,853.1 L1027.7,853.2 L1028.2,853.2 L1028.6,853.2 L1029.1,853.2 L1029.5,853.2 L1030.0,853.2 L1030.6,853.2 L1031.1,853.2 L1031.7,853.2 L1032.3,853.2 L1032.8,853.2 L1033.4,853.3 L1034.0,853.3 L1034.6,853.3 L1035.2,853.3 L1035.7,853.3 L1036.3,853.3 L1036.9,853.3 L1037.5,853.3 L1038.1,853.3 L1038.7,853.3 L1039.3,853.3 L1039.9,853.3 L1040.4,853.3 L1041.0,853.3 L1041.6,853.4 L1042.2,853.4 L1042.8,853.4 L1043.3,853.4 L1043.9,853.4 L1044.5,853.4 L1045.0,853.4 L1045.6,853.4 L1046.1,853.4 L1046.7,853.4 L1047.2,853.4 L1047.7,853.4 L1048.3,853.4 L1048.8,853.4 L1049.3,853.4 L1049.8,853.4 L1050.3,853.4 L1050.8,853.4 L1051.2,853.4 L1051.7,853.4 L1052.1,853.5 L1052.6,853.5 L1053.0,853.5 L1053.4,853.5 L1053.9,853.5 L1054.3,853.5 L1054.6,853.5 L1055.0,853.5 L1055.4,853.5 L1055.7,853.5 L1056.1,853.5 L1056.4,853.5 L1056.7,853.5 L1057.0,853.5 L1057.2,853.5 L1057.5,853.5" fill="none" stroke="#c7404b" stroke-width="6.5" stroke-linejoin="round" stroke-linecap="round" />
<path d="M775.1,1080.2 L775.4,1080.1 L775.7,1079.9 L776.1,1079.7 L776.6,1079.5 L777.0,1079.2 L777.6,1078.9 L778.1,1078.7 L778.7,1078.4 L779.3,1078.1 L779.9,1077.9 L780.5,1077.6 L781.1,1077.4 L781.8,1077.2 L782.4,1077.1 L782.8,1077.0 L783.3,1076.9 L783.8,1076.9 L784.3,1076.8 L784.7,1076.7 L785.2,1076.7 L785.8,1076.6 L786.3,1076.6 L786.8,1076.6 L787.3,1076.6 L787.8,1076.5 L788.4,1076.5 L788.9,1076.5 L789.4,1076.5 L790.0,1076.5 L790.5,1076.6 L791.0,1076.6 L791.6,1076.6 L792.1,1076.7 L792.6,1076.7 L793.1,1076.8 L793.6,1076.8 L794.1,1076.9 L794.7,1077.0 L795.2,1077.0 L795.7,1077.1 L796.2,1077.2 L796.7,1077.3 L797.2,1077.5 L797.7,1077.6 L798.3,1077.7 L798.8,1077.8 L799.3,1078.0 L799.8,1078.1 L800.3,1078.3 L800.8,1078.4 L801.4,1078.6 L801.9,1078.8 L802.4,1078.9 L802.9,1079.1 L803.4,1079.3 L803.9,1079.5 L804.4,1079.7 L805.0,1080.0 L805.5,1080.3 L806.0,1080.5 L806.5,1080.8 L807.0,1081.1 L807.5,1081.4 L808.0,1081.7 L808.6,1082.0 L809.1,1082.3 L809.6,1082.5 L810.1,1082.8 L810.6,1083.0 L811.1,1083.3 L811.7,1083.5 L812.2,1083.6 L812.7,1083.8 L813.2,1083.9 L813.7,1084.0 L814.2,1084.0 L814.8,1084.1 L815.3,1084.1 L815.9,1084.1 L816.4,1084.1 L817.0,1084.0 L817.5,1083.9 L818.1,1083.9 L818.6,1083.8 L819.1,1083.7 L819.7,1083.6 L820.2,1083.6 L820.7,1083.5 L821.2,1083.4 L821.7,1083.3 L822.2,1083.3 L822.6,1083.2 L823.1,1083.2 L823.5,1083.2 L824.1,1083.2 L824.7,1083.2 L825.2,1083.2 L825.6,1083.2 L826.1,1083.2 L826.5,1083.2 L826.9,1083.3 L827.3,1083.3 L827.8,1083.4 L828.4,1083.5 L829.0,1083.7 L829.7,1083.9 L830.1,1084.0 L830.5,1084.1 L830.9,1084.3 L831.4,1084.4 L831.8,1084.6 L832.3,1084.8 L832.8,1085.0 L833.3,1085.2 L833.8,1085.4 L834.3,1085.6 L834.9,1085.8 L835.4,1086.0 L835.9,1086.2 L836.5,1086.4 L837.0,1086.6 L837.6,1086.9 L838.2,1087.1 L838.7,1087.3 L839.3,1087.5 L839.8,1087.7 L840.4,1087.9 L841.0,1088.1 L841.5,1088.2 L842.1,1088.4 L842.6,1088.5 L843.1,1088.7 L843.6,1088.8 L844.1,1088.9 L844.6,1089.1 L845.1,1089.2 L845.6,1089.3 L846.1,1089.4 L846.7,1089.5 L847.2,1089.7 L847.7,1089.8 L848.2,1089.9 L848.8,1090.0 L849.3,1090.1 L849.8,1090.2 L850.4,1090.3 L850.9,1090.4 L851.4,1090.5 L852.0,1090.6 L852.5,1090.7 L853.0,1090.8 L853.5,1090.9 L854.0,1091.0 L854.5,1091.1 L855.0,1091.2 L855.5,1091.3 L856.0,1091.4 L856.5,1091.5 L857.0,1091.6 L857.6,1091.7 L858.1,1091.8 L858.6,1091.8 L859.1,1091.9 L859.6,1092.0 L860.1,1092.0 L860.6,1092.1 L861.1,1092.1 L861.6,1092.2 L862.0,1092.3 L862.5,1092.3 L863.0,1092.4 L863.5,1092.4 L864.0,1092.5 L864.5,1092.6 L865.0,1092.6 L865.5,1092.7 L866.0,1092.8 L866.5,1092.9 L867.1,1093.1 L867.6,1093.2 L868.2,1093.3 L868.8,1093.5 L869.2,1093.6 L869.7,1093.8 L870.1,1093.9 L870.6,1094.1 L871.1,1094.2 L871.5,1094.4 L872.0,1094.5 L872.5,1094.7 L873.0,1094.9 L873.5,1095.1 L874.0,1095.3 L874.5,1095.4 L875.0,1095.6 L875.5,1095.8 L876.0,1096.0 L876.5,1096.2 L877.0,1096.4 L877.6,1096.6 L878.1,1096.9 L878.6,1097.1 L879.1,1097.3 L879.6,1097.5 L880.2,1097.7 L880.7,1097.9 L881.2,1098.1 L881.7,1098.3 L882.2,1098.5 L882.8,1098.7 L883.3,1098.9 L883.8,1099.1 L884.3,1099.3 L884.8,1099.5 L885.3,1099.7 L885.8,1099.9 L886.3,1100.1 L886.8,1100.3 L887.3,1100.5 L887.8,1100.7 L888.3,1100.9 L888.8,1101.1 L889.3,1101.3 L889.8,1101.5 L890.3,1101.7 L890.8,1101.9 L891.3,1102.1 L891.8,1102.3 L892.3,1102.5 L892.8,1102.7 L893.3,1102.9 L893.8,1103.1 L894.3,1103.3 L894.8,1103.5 L895.3,1103.7 L895.8,1103.9 L896.3,1104.1 L896.8,1104.3 L897.3,1104.5 L897.8,1104.7 L898.3,1104.8 L898.8,1105.0 L899.3,1105.2 L899.8,1105.3 L900.3,1105.5 L900.8,1105.6 L901.3,1105.8 L901.8,1105.9 L902.3,1106.0 L902.8,1106.2 L903.4,1106.3 L903.9,1106.4 L904.4,1106.5 L905.0,1106.7 L905.5,1106.8 L906.0,1106.9 L906.6,1107.0 L907.1,1107.1 L907.7,1107.2 L908.2,1107.3 L908.8,1107.4 L909.3,1107.5 L909.9,1107.6 L910.4,1107.7 L910.9,1107.8 L911.5,1107.9 L912.0,1107.9 L912.5,1108.0 L913.0,1108.1 L913.5,1108.1 L914.0,1108.2 L914.5,1108.2 L915.0,1108.3 L915.5,1108.3 L916.0,1108.3 L916.4,1108.4 L916.9,1108.4 L917.3,1108.4 L917.8,1108.4 L918.2,1108.4 L918.8,1108.4 L919.4,1108.4 L920.0,1108.4 L920.6,1108.4 L921.1,1108.4 L921.5,1108.4 L922.0,1108.3 L922.5,1108.3 L922.9,1108.2 L923.3,1108.1 L923.8,1108.0 L924.2,1107.9 L924.7,1107.8 L925.1,1107.6 L925.6,1107.4 L926.1,1107.2 L926.7,1106.9 L927.2,1106.6 L927.9,1106.3 L928.5,1105.9 L928.9,1105.7 L929.3,1105.4 L929.8,1105.1 L930.2,1104.8 L930.6,1104.5 L931.1,1104.2 L931.5,1103.9 L932.0,1103.6 L932.4,1103.3 L932.9,1102.9 L933.4,1102.5 L933.9,1102.2 L934.4,1101.8 L934.9,1101.4 L935.3,1101.0 L935.9,1100.6 L936.4,1100.2 L936.9,1099.8 L937.4,1099.3 L937.9,1098.9 L938.4,1098.4 L939.0,1098.0 L939.5,1097.5 L940.0,1097.0 L940.6,1096.6 L941.1,1096.1 L941.7,1095.6 L942.2,1095.1 L942.8,1094.6 L943.3,1094.1 L943.9,1093.6 L944.4,1093.0 L945.0,1092.5 L945.5,1092.1 L945.9,1091.6 L946.4,1091.2 L946.8,1090.7 L947.3,1090.3 L947.8,1089.8 L948.3,1089.3 L948.8,1088.8 L949.2,1088.3 L949.7,1087.8 L950.2,1087.3 L950.7,1086.8 L951.2,1086.3 L951.7,1085.8 L952.2,1085.2 L952.7,1084.7 L953.3,1084.2 L953.8,1083.6 L954.3,1083.1 L954.8,1082.6 L955.3,1082.0 L955.8,1081.5 L956.3,1080.9 L956.9,1080.3 L957.4,1079.8 L957.9,1079.2 L958.4,1078.7 L958.9,1078.1 L959.4,1077.6 L960.0,1077.0 L960.5,1076.4 L961.0,1075.9 L961.5,1075.3 L962.0,1074.8 L962.5,1074.2 L963.1,1073.6 L963.6,1073.1 L964.1,1072.5 L964.6,1072.0 L965.1,1071.4 L965.6,1070.9 L966.1,1070.4 L966.6,1069.8 L967.1,1069.3 L967.6,1068.7 L968.1,1068.2 L968.6,1067.6 L969.1,1067.0 L969.6,1066.5 L970.1,1065.9 L970.6,1065.3 L971.1,1064.8 L971.6,1064.2 L972.1,1063.6 L972.6,1063.1 L973.1,1062.5 L973.6,1061.9 L974.1,1061.4 L974.6,1060.8 L975.1,1060.2 L975.6,1059.6 L976.2,1059.1 L976.7,1058.5 L977.2,1057.9 L977.7,1057.4 L978.2,1056.8 L978.7,1056.2 L979.2,1055.7 L979.7,1055.1 L980.2,1054.6 L980.7,1054.0 L981.2,1053.5 L981.7,1052.9 L982.2,1052.4 L982.7,1051.8 L983.2,1051.3 L983.7,1050.8 L984.2,1050.3 L984.7,1049.7 L985.2,1049.2 L985.7,1048.7 L986.2,1048.2 L986.7,1047.7 L987.2,1047.2 L987.7,1046.7 L988.3,1046.2 L988.8,1045.7 L989.3,1045.2 L989.8,1044.7 L990.4,1044.2 L990.9,1043.7 L991.5,1043.2 L992.0,1042.7 L992.5,1042.2 L993.1,1041.7 L993.6,1041.3 L994.2,1040.8 L994.7,1040.3 L995.3,1039.8 L995.8,1039.3 L996.3,1038.9 L996.9,1038.4 L997.4,1037.9 L997.9,1037.5 L998.5,1037.0 L999.0,1036.6 L999.5,1036.1 L1000.0,1035.7 L1000.5,1035.2 L1001.0,1034.8 L1001.5,1034.4 L1002.0,1034.0 L1002.5,1033.5 L1003.0,1033.1 L1003.4,1032.7 L1003.9,1032.3 L1004.3,1031.9 L1004.8,1031.5 L1005.2,1031.2 L1005.6,1030.8 L1006.0,1030.4 L1006.4,1030.1 L1006.8,1029.7 L1007.5,1029.0 L1008.2,1028.4 L1008.8,1027.8 L1009.4,1027.2 L1009.9,1026.7 L1010.3,1026.2 L1010.8,1025.7 L1011.2,1025.3 L1011.6,1024.9 L1012.0,1024.4 L1012.3,1024.0 L1012.7,1023.6 L1013.1,1023.1 L1013.6,1022.7 L1014.0,1022.2 L1014.5,1021.7 L1015.1,1021.2 L1015.7,1020.6 L1016.4,1020.0 L1017.1,1019.4 L1017.5,1019.1 L1017.9,1018.7 L1018.3,1018.4 L1018.7,1018.0 L1019.1,1017.7 L1019.6,1017.3 L1020.0,1016.9 L1020.5,1016.5 L1021.0,1016.2 L1021.4,1015.8 L1021.9,1015.4 L1022.4,1015.0 L1022.9,1014.6 L1023.4,1014.1 L1023.9,1013.7 L1024.5,1013.3 L1025.0,1012.9 L1025.5,1012.5 L1026.0,1012.0 L1026.6,1011.6 L1027.1,1011.2 L1027.6,1010.8 L1028.2,1010.3 L1028.7,1009.9 L1029.3,1009.5 L1029.8,1009.0 L1030.4,1008.6 L1030.9,1008.2 L1031.5,1007.8 L1032.0,1007.3 L1032.5,1006.9 L1033.1,1006.5 L1033.6,1006.1 L1034.1,1005.7 L1034.7,1005.3 L1035.2,1004.9 L1035.7,1004.5 L1036.2,1004.1 L1036.7,1003.7 L1037.2,1003.3 L1037.7,1002.9 L1038.2,1002.5 L1038.8,1002.1 L1039.3,1001.7 L1039.9,1001.2 L1040.4,1000.8 L1041.0,1000.4 L1041.6,999.9 L1042.2,999.5 L1042.8,999.0 L1043.4,998.6 L1044.0,998.1 L1044.5,997.7 L1045.1,997.3 L1045.7,996.8 L1046.3,996.4 L1046.9,995.9 L1047.5,995.5 L1048.1,995.1 L1048.6,994.7 L1049.2,994.3 L1049.8,993.8 L1050.3,993.4 L1050.8,993.0 L1051.4,992.7 L1051.9,992.3 L1052.4,991.9 L1052.9,991.6 L1053.3,991.2 L1053.8,990.9 L1054.2,990.6 L1054.6,990.2 L1055.0,989.9 L1055.4,989.7 L1055.8,989.4 L1056.1,989.1 L1056.4,988.9 L1056.7,988.7 L1057.0,988.5" fill="none" stroke="#35478e" stroke-width="6.2" stroke-linejoin="round" stroke-linecap="round" />
<path d="M775.1,1080.2 L775.4,1080.4 L775.7,1080.5 L776.0,1080.7 L776.3,1080.9 L776.7,1081.1 L777.1,1081.4 L777.5,1081.6 L778.0,1081.9 L778.4,1082.2 L778.9,1082.4 L779.4,1082.7 L779.9,1083.0 L780.5,1083.4 L781.0,1083.7 L781.5,1084.0 L782.1,1084.3 L782.7,1084.7 L783.2,1085.0 L783.8,1085.3 L784.4,1085.7 L785.0,1086.0 L785.6,1086.4 L786.1,1086.7 L786.7,1087.1 L787.3,1087.4 L787.9,1087.8 L788.4,1088.1 L789.0,1088.4 L789.5,1088.8 L790.1,1089.1 L790.6,1089.4 L791.1,1089.7 L791.6,1090.0 L792.1,1090.3 L792.5,1090.6 L793.0,1090.9 L793.5,1091.3 L794.0,1091.6 L794.5,1091.9 L795.0,1092.2 L795.5,1092.6 L796.0,1092.9 L796.4,1093.2 L796.9,1093.6 L797.4,1093.9 L797.9,1094.2 L798.4,1094.6 L798.9,1094.9 L799.4,1095.2 L799.9,1095.6 L800.4,1095.9 L800.9,1096.2 L801.4,1096.5 L801.9,1096.8 L802.4,1097.2 L802.9,1097.5 L803.5,1097.8 L804.0,1098.1 L804.5,1098.4 L805.0,1098.6 L805.5,1098.9 L806.0,1099.2 L806.6,1099.4 L807.1,1099.7 L807.6,1099.9 L808.1,1100.1 L808.6,1100.4 L809.0,1100.6 L809.5,1100.8 L810.1,1101.0 L810.6,1101.3 L811.1,1101.5 L811.6,1101.7 L812.1,1101.9 L812.6,1102.1 L813.2,1102.3 L813.7,1102.6 L814.2,1102.8 L814.8,1103.0 L815.3,1103.2 L815.8,1103.4 L816.3,1103.5 L816.9,1103.7 L817.4,1103.9 L817.9,1104.1 L818.4,1104.3 L819.0,1104.4 L819.5,1104.6 L820.0,1104.7 L820.5,1104.9 L821.0,1105.0 L821.5,1105.1 L822.0,1105.3 L822.5,1105.4 L822.9,1105.5 L823.4,1105.6 L823.9,1105.7 L824.3,1105.7 L824.7,1105.8 L825.2,1105.9 L825.6,1105.9 L826.2,1106.0 L826.8,1106.0 L827.4,1106.0 L827.9,1106.0 L828.5,1106.0 L829.0,1106.0 L829.5,1105.9 L829.9,1105.9 L830.4,1105.8 L830.8,1105.7 L831.3,1105.6 L831.7,1105.4 L832.2,1105.3 L832.6,1105.1 L833.1,1105.0 L833.6,1104.8 L834.0,1104.6 L834.5,1104.4 L835.0,1104.1 L835.6,1103.9 L836.1,1103.6 L836.7,1103.4 L837.3,1103.1 L837.9,1102.8 L838.3,1102.6 L838.8,1102.4 L839.2,1102.2 L839.6,1102.0 L840.1,1101.8 L840.5,1101.5 L841.0,1101.3 L841.5,1101.1 L841.9,1100.8 L842.4,1100.6 L842.9,1100.3 L843.4,1100.1 L843.9,1099.8 L844.4,1099.5 L844.9,1099.3 L845.4,1099.0 L845.9,1098.7 L846.4,1098.4 L846.9,1098.1 L847.5,1097.8 L848.0,1097.5 L848.5,1097.1 L849.0,1096.8 L849.6,1096.5 L850.1,1096.1 L850.6,1095.8 L851.2,1095.4 L851.7,1095.1 L852.2,1094.7 L852.8,1094.3 L853.3,1094.0 L853.8,1093.6 L854.4,1093.2 L854.9,1092.8 L855.4,1092.3 L856.0,1091.9 L856.5,1091.5 L857.0,1091.1 L857.5,1090.7 L858.0,1090.3 L858.4,1089.8 L858.9,1089.4 L859.4,1088.9 L860.0,1088.4 L860.5,1087.9 L861.0,1087.4 L861.5,1086.9 L862.0,1086.4 L862.5,1085.9 L863.0,1085.3 L863.5,1084.8 L864.1,1084.3 L864.6,1083.7 L865.1,1083.2 L865.6,1082.6 L866.2,1082.0 L866.7,1081.5 L867.2,1080.9 L867.7,1080.4 L868.2,1079.8 L868.8,1079.2 L869.3,1078.7 L869.8,1078.1 L870.3,1077.6 L870.8,1077.1 L871.3,1076.5 L871.8,1076.0 L872.3,1075.5 L872.8,1075.0 L873.3,1074.5 L873.8,1074.0 L874.3,1073.5 L874.8,1073.0 L875.2,1072.6 L875.7,1072.1 L876.2,1071.7 L876.6,1071.3 L877.1,1070.9 L877.7,1070.4 L878.2,1069.9 L878.8,1069.5 L879.3,1069.0 L879.9,1068.6 L880.4,1068.2 L880.9,1067.8 L881.4,1067.4 L881.9,1067.0 L882.4,1066.6 L882.9,1066.2 L883.4,1065.8 L883.9,1065.5 L884.3,1065.2 L884.8,1064.8 L885.3,1064.5 L885.8,1064.2 L886.3,1063.8 L886.7,1063.5 L887.2,1063.2 L887.7,1062.9 L888.2,1062.6 L888.7,1062.3 L889.2,1062.0 L889.7,1061.7 L890.2,1061.4 L890.7,1061.1 L891.3,1060.8 L891.8,1060.5 L892.4,1060.2 L892.9,1059.9 L893.5,1059.6 L894.0,1059.4 L894.4,1059.1 L894.9,1058.9 L895.3,1058.7 L895.8,1058.5 L896.3,1058.3 L896.8,1058.1 L897.3,1057.9 L897.7,1057.7 L898.2,1057.5 L898.7,1057.3 L899.2,1057.1 L899.7,1057.0 L900.2,1056.8 L900.7,1056.6 L901.2,1056.4 L901.7,1056.3 L902.3,1056.1 L902.8,1055.9 L903.3,1055.7 L903.8,1055.6 L904.3,1055.4 L904.8,1055.2 L905.3,1055.0 L905.9,1054.8 L906.4,1054.7 L906.9,1054.5 L907.4,1054.3 L907.9,1054.1 L908.5,1053.9 L909.0,1053.7 L909.5,1053.5 L910.0,1053.3 L910.5,1053.0 L911.0,1052.8 L911.6,1052.6 L912.1,1052.3 L912.6,1052.1 L913.1,1051.8 L913.6,1051.6 L914.1,1051.3 L914.6,1051.0 L915.1,1050.7 L915.6,1050.4 L916.1,1050.1 L916.6,1049.8 L917.1,1049.5 L917.6,1049.2 L918.1,1048.8 L918.5,1048.5 L919.0,1048.1 L919.5,1047.8 L920.0,1047.4 L920.5,1047.1 L921.0,1046.7 L921.5,1046.3 L921.9,1046.0 L922.4,1045.6 L922.9,1045.2 L923.4,1044.9 L923.9,1044.5 L924.4,1044.1 L924.9,1043.7 L925.4,1043.3 L925.9,1043.0 L926.4,1042.6 L926.9,1042.2 L927.4,1041.8 L927.9,1041.4 L928.4,1041.1 L928.9,1040.7 L929.4,1040.3 L929.9,1040.0 L930.4,1039.6 L930.9,1039.3 L931.5,1038.9 L932.0,1038.6 L932.5,1038.2 L933.1,1037.9 L933.6,1037.5 L934.1,1037.2 L934.7,1036.9 L935.2,1036.6 L935.6,1036.4 L936.1,1036.1 L936.6,1035.9 L937.1,1035.6 L937.6,1035.4 L938.0,1035.1 L938.5,1034.9 L939.0,1034.6 L939.5,1034.4 L940.0,1034.2 L940.6,1033.9 L941.1,1033.7 L941.6,1033.5 L942.1,1033.2 L942.6,1033.0 L943.1,1032.8 L943.6,1032.6 L944.2,1032.3 L944.7,1032.1 L945.2,1031.9 L945.7,1031.7 L946.3,1031.5 L946.8,1031.2 L947.3,1031.0 L947.8,1030.8 L948.4,1030.6 L948.9,1030.4 L949.4,1030.1 L949.9,1029.9 L950.5,1029.7 L951.0,1029.5 L951.5,1029.3 L952.0,1029.0 L952.5,1028.8 L953.0,1028.6 L953.5,1028.4 L954.1,1028.2 L954.6,1027.9 L955.1,1027.7 L955.6,1027.5 L956.1,1027.2 L956.5,1027.0 L957.0,1026.8 L957.5,1026.6 L958.0,1026.3 L958.5,1026.1 L958.9,1025.8 L959.4,1025.6 L959.9,1025.3 L960.5,1025.0 L961.0,1024.7 L961.5,1024.4 L962.1,1024.1 L962.6,1023.8 L963.1,1023.5 L963.6,1023.2 L964.1,1022.9 L964.6,1022.7 L965.1,1022.3 L965.5,1022.0 L966.0,1021.7 L966.5,1021.4 L967.0,1021.1 L967.4,1020.8 L967.9,1020.5 L968.4,1020.2 L968.9,1019.9 L969.3,1019.6 L969.8,1019.3 L970.3,1019.0 L970.7,1018.7 L971.2,1018.4 L971.7,1018.1 L972.2,1017.8 L972.7,1017.5 L973.2,1017.2 L973.6,1016.9 L974.1,1016.5 L974.6,1016.2 L975.1,1015.9 L975.7,1015.6 L976.2,1015.3 L976.7,1015.0 L977.2,1014.7 L977.8,1014.4 L978.3,1014.1 L978.9,1013.8 L979.4,1013.5 L980.0,1013.2 L980.4,1013.0 L980.9,1012.7 L981.4,1012.5 L981.8,1012.3 L982.3,1012.0 L982.7,1011.8 L983.2,1011.6 L983.7,1011.3 L984.1,1011.1 L984.6,1010.9 L985.1,1010.6 L985.6,1010.4 L986.0,1010.2 L986.5,1009.9 L987.0,1009.7 L987.5,1009.5 L988.0,1009.3 L988.5,1009.0 L989.0,1008.8 L989.5,1008.6 L990.0,1008.3 L990.5,1008.1 L991.0,1007.9 L991.5,1007.6 L992.0,1007.4 L992.5,1007.2 L993.0,1006.9 L993.5,1006.7 L994.0,1006.5 L994.6,1006.2 L995.1,1006.0 L995.6,1005.8 L996.1,1005.5 L996.6,1005.3 L997.2,1005.1 L997.7,1004.8 L998.2,1004.6 L998.7,1004.4 L999.3,1004.2 L999.8,1003.9 L1000.3,1003.7 L1000.9,1003.5 L1001.4,1003.2 L1001.9,1003.0 L1002.5,1002.8 L1003.0,1002.5 L1003.5,1002.3 L1004.1,1002.1 L1004.6,1001.8 L1005.2,1001.6 L1005.7,1001.4 L1006.3,1001.1 L1006.8,1000.9 L1007.3,1000.7 L1007.8,1000.5 L1008.3,1000.3 L1008.8,1000.1 L1009.3,999.8 L1009.8,999.6 L1010.3,999.4 L1010.8,999.2 L1011.3,999.0 L1011.9,998.7 L1012.4,998.5 L1013.0,998.3 L1013.5,998.0 L1014.1,997.8 L1014.6,997.6 L1015.2,997.3 L1015.8,997.1 L1016.3,996.8 L1016.9,996.6 L1017.4,996.4 L1018.0,996.1 L1018.6,995.9 L1019.2,995.6 L1019.7,995.4 L1020.3,995.2 L1020.9,994.9 L1021.4,994.7 L1022.0,994.4 L1022.6,994.2 L1023.1,994.0 L1023.7,993.7 L1024.3,993.5 L1024.8,993.3 L1025.4,993.1 L1025.9,992.8 L1026.5,992.6 L1027.0,992.4 L1027.5,992.2 L1028.1,992.0 L1028.6,991.8 L1029.1,991.6 L1029.6,991.4 L1030.1,991.2 L1030.6,991.0 L1031.1,990.8 L1031.6,990.6 L1032.1,990.4 L1032.5,990.3 L1033.0,990.1 L1033.4,989.9 L1033.9,989.8 L1034.3,989.6 L1034.7,989.5 L1035.2,989.3 L1035.6,989.2 L1035.9,989.1 L1036.3,988.9 L1036.7,988.8 L1037.0,988.7 L1037.4,988.6 L1037.7,988.5 L1038.8,988.2 L1039.8,988.0 L1040.6,987.8 L1041.3,987.8 L1041.8,987.8 L1042.3,987.8 L1042.6,987.9 L1043.0,988.1 L1043.3,988.3 L1043.5,988.5 L1043.8,988.7 L1044.1,988.9 L1044.4,989.1 L1044.8,989.3 L1045.3,989.5 L1045.9,989.6 L1046.3,989.7 L1046.8,989.8 L1047.3,989.9 L1047.8,990.0 L1048.4,990.2 L1048.9,990.3 L1049.5,990.4 L1050.1,990.6 L1050.7,990.7 L1051.3,990.9 L1051.9,991.0 L1052.5,991.2 L1053.0,991.3 L1053.6,991.5 L1054.2,991.6 L1054.7,991.8 L1055.2,991.9 L1055.7,992.0 L1056.2,992.1 L1056.6,992.3 L1057.0,992.4 L1057.4,992.4 L1057.7,992.5 L1058.0,992.6" fill="none" stroke="#35478e" stroke-width="6.2" stroke-linejoin="round" stroke-linecap="round" />
<text x="1117.2" y="657.5" font-size="35.13" text-anchor="start" fill="#231f20" >(E)</text>
<text x="1247.7" y="676.6" font-size="34.67" text-anchor="start" fill="#231f20" >Phase</text>
<text x="1212.9" y="945.5" font-size="34.05" text-anchor="start" fill="#231f20" >Amplitude</text>
<text x="1408" y="694.3" font-size="32" fill="#231f20">130<tspan font-size="19" dy="-12">o</tspan></text>
<text x="1421.5" y="905" font-size="32" fill="#231f20">0<tspan font-size="19" dy="-12">o</tspan></text>
<text x="1415.9" y="968.8" font-size="33.5" text-anchor="start" fill="#231f20" >60</text>
<text x="1422.2" y="1177.2" font-size="33.5" text-anchor="start" fill="#231f20" >0</text>
<rect x="1421.7" y="701" width="18.3" height="178.5" fill="url(#cbp)"/>
<rect x="1422.8" y="983.2" width="16.6" height="166.7" fill="url(#cba)"/>
<filter id="fph" filterUnits="userSpaceOnUse" x="1180.6" y="681.0" width="217.8" height="218.0" color-interpolation-filters="sRGB">
 <feGaussianBlur in="SourceGraphic" stdDeviation="5" result="b"/>
 <feTurbulence type="fractalNoise" baseFrequency="1.25" numOctaves="1" seed="4" result="n0"/>
 <feColorMatrix in="n0" type="matrix" values="1 0 0 0 0  0 1 0 0 0  0 0 1 0 0  0 0 0 0 1" result="n1"/>
 <feTurbulence type="fractalNoise" baseFrequency="0.62" numOctaves="1" seed="17" result="m0"/>
 <feColorMatrix in="m0" type="matrix" values="1 0 0 0 0  0 1 0 0 0  0 0 1 0 0  0 0 0 0 1" result="m1"/>
 <feComposite in="n1" in2="m1" operator="arithmetic" k1="0" k2="0.5" k3="0.5" k4="0" result="n"/>
 <feComposite in="b" in2="n" operator="arithmetic" k1="0" k2="1" k3="1.55" k4="-0.775" result="s"/>
 <feColorMatrix in="s" type="matrix" values="1 0 0 0 0  1 0 0 0 0  1 0 0 0 0  0 0 0 0 1" result="s2"/>
 <feComponentTransfer in="s2">
  <feFuncR type="table" tableValues="0.490 0.620 0.729 0.804 0.878 0.949 0.588 0.361 0.243 0.196 0.157"/>
  <feFuncG type="table" tableValues="0.047 0.118 0.251 0.424 0.651 0.933 0.784 0.627 0.439 0.306 0.196"/>
  <feFuncB type="table" tableValues="0.110 0.157 0.235 0.373 0.588 0.925 0.882 0.804 0.690 0.588 0.439"/>
 </feComponentTransfer>
</filter>
<g filter="url(#fph)">
<rect x="1180.6" y="681.0" width="217.8" height="218.0" fill="rgb(128,128,128)"/>
<rect x="1170.6" y="671.0" width="237.8" height="75.0" fill="rgb(204,204,204)"/>
<rect x="1170.6" y="671.0" width="237.8" height="24" fill="rgb(222,222,222)"/>
<rect x="1212" y="702" width="150" height="20" fill="rgb(148,148,148)"/>
<rect x="1357" y="671.0" width="60" height="76" fill="rgb(217,217,217)"/>
<rect x="1170.6" y="746" width="237.8" height="170" fill="rgb(128,128,128)"/>
<rect x="1357" y="760" width="60" height="100" fill="rgb(143,143,143)"/>
<rect x="1215" y="840" width="150" height="20" fill="rgb(107,107,107)"/>
<rect x="1170.6" y="866" width="237.8" height="60" fill="rgb(153,153,153)"/>
<rect x="1170.6" y="745" width="22" height="30" fill="rgb(76,76,76)"/>
<rect x="1221.4" y="717.2" width="136" height="128" fill="rgb(66,66,66)"/>
<rect x="1300" y="717.2" width="57" height="128" fill="rgb(56,56,56)"/>
<rect x="1256" y="750" width="68" height="64" fill="rgb(191,191,191)"/>
</g>
<rect x="1222.7" y="718.5" width="133.4" height="125.3" fill="none" stroke="#ffffff" stroke-width="2.7"/>
<rect x="1255.1" y="749.5" width="68.1" height="64.8" fill="none" stroke="#ffffff" stroke-width="2.7"/>
<rect x="1189.5" y="885" width="59.2" height="5.1" fill="#ffffff"/>
<filter id="fam" filterUnits="userSpaceOnUse" x="1180.0" y="958.8" width="218.0" height="217.9" color-interpolation-filters="sRGB">
 <feGaussianBlur in="SourceGraphic" stdDeviation="6" result="b"/>
 <feTurbulence type="fractalNoise" baseFrequency="1.25" numOctaves="1" seed="9" result="n0"/>
 <feColorMatrix in="n0" type="matrix" values="1 0 0 0 0  0 1 0 0 0  0 0 1 0 0  0 0 0 0 1" result="n1"/>
 <feTurbulence type="fractalNoise" baseFrequency="0.55" numOctaves="1" seed="21" result="m0"/>
 <feColorMatrix in="m0" type="matrix" values="1 0 0 0 0  0 1 0 0 0  0 0 1 0 0  0 0 0 0 1" result="m1"/>
 <feComposite in="n1" in2="m1" operator="arithmetic" k1="0" k2="0.6" k3="0.4" k4="0" result="n"/>
 <feComposite in="b" in2="n" operator="arithmetic" k1="0" k2="1" k3="2.9" k4="-1.45" result="s"/>
 <feColorMatrix in="s" type="matrix" values="1 0 0 0 0  1 0 0 0 0  1 0 0 0 0  0 0 0 0 1"/>
</filter>
<g filter="url(#fam)">
<rect x="1170.0" y="948.8" width="238.0" height="237.9" fill="rgb(112,112,112)"/>
<rect x="1170.0" y="948.8" width="85" height="80" fill="rgb(135,135,135)"/>
<rect x="1205" y="1019" width="140" height="9" fill="rgb(92,92,92)"/>
<rect x="1330" y="1000" width="60" height="70" fill="rgb(128,128,128)"/>
<circle cx="1288" cy="1065" r="38" fill="rgb(128,128,128)"/>
<rect x="1330" y="1110" width="80" height="80" fill="rgb(97,97,97)"/>
<rect x="1180" y="1040" width="30" height="60" fill="rgb(99,99,99)"/>
<rect x="1386" y="948.8" width="20" height="85" fill="rgb(56,56,56)"/>
<rect x="1392" y="948.8" width="20" height="237.9" fill="rgb(82,82,82)"/>
</g>
<rect x="1185.5" y="1159.4" width="61" height="5.6" fill="#ffffff"/>
</svg>
</body></html>
